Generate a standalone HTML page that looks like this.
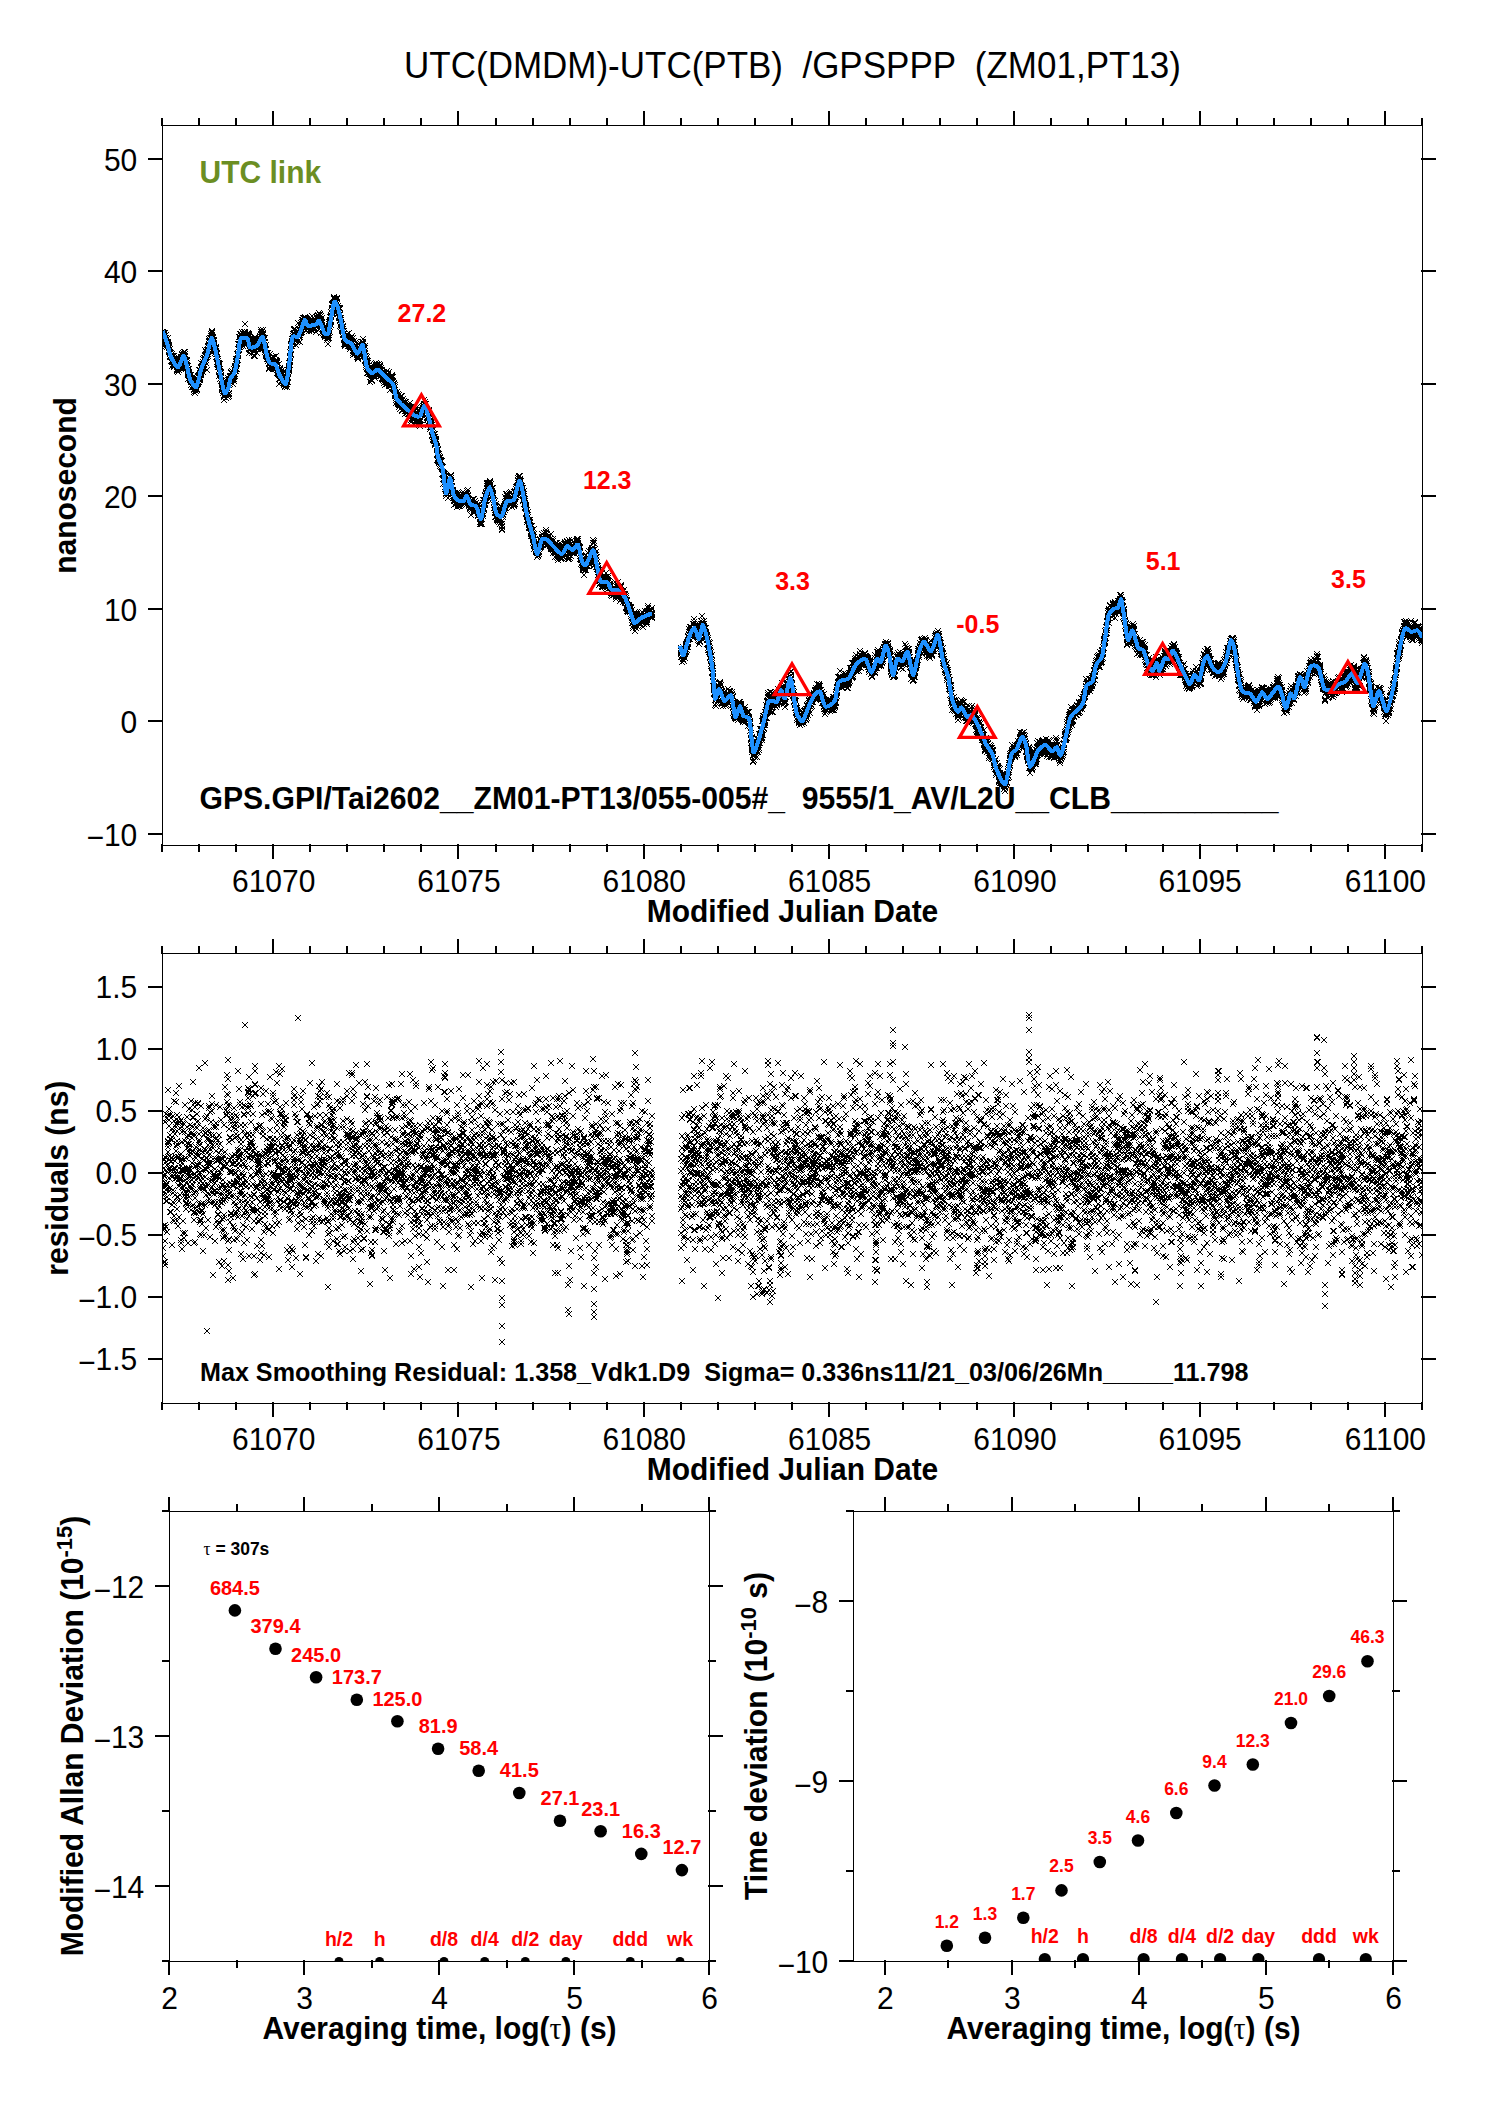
<!DOCTYPE html>
<html lang="en"><head><meta charset="utf-8"><title>UTC(DMDM)-UTC(PTB) /GPSPPP (ZM01,PT13)</title>
<style>html,body{margin:0;padding:0;background:#fff}svg{display:block}text{font-family:"Liberation Sans",Arial,Helvetica,sans-serif;white-space:pre}.b{font-weight:bold}.r{fill:#f00;font-weight:bold}.sy{font-family:"Liberation Serif","DejaVu Serif",serif;font-weight:normal}</style></head><body>
<svg width="1488" height="2105" viewBox="0 0 1488 2105">
<rect width="1488" height="2105" fill="#fff"/>
<defs>
<marker id="x" markerUnits="userSpaceOnUse" markerWidth="6" markerHeight="6" refX="3" refY="3"><path d="M0 0h1v1h-1zM5 0h1v1h-1zM1 1h1v1h-1zM4 1h1v1h-1zM2 2h2v2h-2zM1 4h1v1h-1zM4 4h1v1h-1zM0 5h1v1h-1zM5 5h1v1h-1z" fill="#000" shape-rendering="crispEdges"/></marker>
<clipPath id="c1"><rect x="163" y="126" width="1259" height="719"/></clipPath>
<clipPath id="c2"><rect x="163" y="954" width="1259" height="449"/></clipPath>
<clipPath id="c3"><rect x="150" y="1500" width="580" height="461.5"/></clipPath>
<clipPath id="c4"><rect x="840" y="1500" width="580" height="461.5"/></clipPath>
</defs>
<text transform="translate(792.5 77.5) scale(1 1.045)" font-size="35" text-anchor="middle" xml:space="preserve">UTC(DMDM)-UTC(PTB)  /GPSPPP  (ZM01,PT13)</text>
<g clip-path="url(#c1)">
<polyline fill="none" stroke="none" marker-start="url(#x)" marker-mid="url(#x)" marker-end="url(#x)" points="162,332 163,336 163,338 163,339 163,334 163,333 163,332 163,338 164,334 164,333 164,334 164,336 164,339 164,333 164,335 164,344 165,344 165,342 165,345 165,338 165,345 165,333 165,336 165,343 166,338 166,338 166,342 166,341 166,335 166,342 166,342 166,346 167,344 167,347 167,342 167,345 167,343 167,339 167,345 168,342 168,338 168,345 168,344 168,342 168,345 168,346 168,346 169,351 169,347 169,346 169,345 169,348 169,350 169,352 169,348 170,353 170,357 170,352 170,356 170,349 170,352 170,352 170,354 171,355 171,353 171,356 171,356 171,357 171,361 171,357 172,358 172,354 172,357 172,356 172,366 172,362 172,360 172,360 173,364 173,362 173,362 173,357 173,356 173,364 173,362 173,360 174,365 174,366 174,367 174,356 174,358 174,362 174,363 174,367 175,364 175,363 175,366 175,361 175,364 175,364 175,364 175,365 176,358 176,363 176,359 176,361 176,364 176,361 176,364 177,361 177,363 177,364 177,370 177,371 177,369 177,364 177,367 178,362 178,369 178,366 178,365 178,363 178,363 178,368 178,372 179,362 179,367 179,365 179,359 179,367 179,370 179,368 179,365 180,367 180,366 180,361 180,365 180,359 180,362 180,364 181,362 181,369 181,357 181,361 181,368 181,361 181,359 181,361 182,359 182,357 182,358 182,355 182,360 182,365 182,358 182,354 183,353 183,357 183,353 183,356 183,362 183,361 183,356 183,357 184,352 184,358 184,356 184,362 184,355 184,358 184,359 185,354 185,352 185,359 185,356 185,364 185,361 185,361 185,360 186,362 186,362 186,360 186,365 186,365 186,366 186,366 186,367 187,360 187,367 187,363 187,361 187,363 187,367 187,365 187,368 188,369 188,366 188,371 188,373 188,372 188,369 188,379 188,375 189,373 189,372 189,369 189,378 189,376 189,375 189,376 190,375 190,379 190,377 190,378 190,379 190,380 190,380 190,376 191,382 191,378 191,379 191,381 191,385 191,379 191,375 191,378 192,378 192,379 192,381 192,379 192,384 192,382 192,378 192,387 193,385 193,379 193,387 193,380 193,380 193,383 193,377 194,387 194,389 194,392 194,382 194,389 194,386 194,383 194,390 195,386 195,387 195,388 195,381 195,393 195,381 195,385 195,389 196,386 196,383 196,391 196,385 196,389 196,387 196,386 196,385 197,390 197,385 197,389 197,384 197,380 197,380 197,380 198,384 198,382 198,383 198,376 198,376 198,381 198,379 198,376 199,376 199,370 199,382 199,375 199,375 199,378 199,380 199,377 200,377 200,377 200,380 200,379 200,378 200,373 200,370 200,371 201,372 201,374 201,375 201,371 201,367 201,363 201,373 201,374 202,371 202,366 202,366 202,370 202,369 202,371 202,366 203,372 203,366 203,364 203,367 203,368 203,365 203,362 203,359 204,364 204,364 204,365 204,364 204,367 204,360 204,360 204,358 205,356 205,361 205,358 205,350 205,359 205,362 205,359 205,355 206,355 206,360 206,363 206,356 206,357 206,352 206,356 207,353 207,357 207,354 207,350 207,370 207,354 207,353 207,355 208,354 208,352 208,349 208,356 208,350 208,347 208,347 208,346 209,351 209,345 209,350 209,341 209,346 209,342 209,339 209,347 210,345 210,341 210,338 210,342 210,340 210,341 210,347 210,338 211,341 211,336 211,342 211,336 211,338 211,334 211,338 212,332 212,335 212,335 212,331 212,335 212,333 212,340 212,341 213,340 213,337 213,338 213,350 213,341 213,340 213,343 213,344 214,343 214,340 214,345 214,344 214,341 214,347 214,348 214,349 215,353 215,349 215,351 215,348 215,350 215,350 215,351 216,351 216,347 216,357 216,351 216,349 216,348 216,351 216,354 217,354 217,353 217,358 217,359 217,357 217,359 217,362 217,364 218,363 218,361 218,359 218,367 218,367 218,367 218,364 218,365 219,364 219,366 219,363 219,370 219,376 219,372 219,367 220,364 220,373 220,373 220,371 220,372 220,372 220,371 220,379 221,373 221,375 221,378 221,372 221,376 221,378 221,381 221,381 222,381 222,389 222,384 222,385 222,385 222,388 222,387 222,390 223,386 223,387 223,389 223,393 223,387 223,391 223,389 223,388 224,396 224,395 224,395 224,397 224,400 224,388 224,391 225,392 225,395 225,392 225,393 225,391 225,394 225,385 225,395 226,394 226,395 226,387 226,395 226,398 226,394 226,394 226,387 227,393 227,391 227,393 227,386 227,385 227,384 227,383 227,381 228,383 228,383 228,380 228,378 228,397 228,394 228,397 229,393 229,396 229,394 229,380 229,383 229,381 229,385 229,385 230,382 230,384 230,380 230,377 230,380 230,384 230,376 230,379 231,382 231,378 231,373 231,376 231,372 231,381 231,380 231,379 232,374 232,371 232,376 232,371 232,371 232,374 232,376 233,377 233,377 233,380 233,377 233,376 233,374 233,384 233,374 234,369 234,381 234,379 234,377 234,375 234,374 234,369 234,377 235,376 235,371 235,367 235,370 235,368 235,366 235,370 235,374 236,369 236,371 236,371 236,362 236,362 236,362 236,361 236,359 237,369 237,364 237,363 237,360 237,361 237,354 237,359 238,356 238,354 238,360 238,355 238,353 238,356 238,344 238,356 239,350 239,349 239,350 239,347 239,350 239,344 239,337 239,344 240,337 240,344 240,347 240,344 240,340 240,334 240,341 240,337 241,340 241,341 241,346 241,339 241,334 241,335 241,336 242,342 242,336 242,338 242,340 242,336 242,332 242,339 242,343 243,339 243,340 243,346 243,342 243,338 243,338 243,334 243,337 244,336 244,344 244,338 244,332 244,341 244,341 244,332 244,337 245,336 245,324 245,333 245,337 245,332 245,339 245,340 245,334 246,337 246,341 246,341 246,343 246,339 246,340 246,339 247,341 247,344 247,342 247,339 247,336 247,342 247,337 247,335 248,333 248,334 248,333 248,333 248,333 248,337 248,333 248,334 249,335 249,334 249,336 249,337 249,343 249,349 249,353 249,343 250,349 250,344 250,341 250,346 250,346 250,350 250,345 251,345 251,341 251,349 251,345 251,347 251,348 251,343 251,345 252,346 252,350 252,350 252,346 252,353 252,348 252,346 252,345 253,351 253,351 253,340 253,344 253,342 253,348 253,345 253,351 254,352 254,349 254,346 254,349 254,355 254,356 254,351 255,356 255,340 255,338 255,340 255,339 255,337 255,339 255,344 256,348 256,347 256,339 256,345 256,342 256,345 256,342 256,346 257,353 257,347 257,347 257,349 257,346 257,344 257,346 257,347 258,344 258,349 258,344 258,348 258,344 258,343 258,342 258,342 259,342 259,342 259,338 259,347 259,342 259,342 259,346 260,345 260,346 260,349 260,340 260,343 260,340 260,336 260,338 261,346 261,347 261,340 261,339 261,332 261,334 261,337 261,330 262,334 262,340 262,332 262,338 262,338 262,336 262,344 262,338 263,338 263,333 263,334 263,330 263,340 263,339 263,337 264,340 264,347 264,342 264,338 264,343 264,347 264,343 264,345 265,338 265,342 265,348 265,350 265,349 265,346 265,352 265,349 266,349 266,353 266,356 266,350 266,345 266,355 266,354 266,356 267,359 267,356 267,357 267,353 267,353 267,359 267,355 268,356 268,357 268,353 268,361 268,361 268,353 268,359 268,359 269,364 269,369 269,363 269,360 269,360 269,364 269,357 269,368 270,361 270,359 270,354 270,360 270,366 270,361 270,362 270,361 271,358 271,363 271,361 271,365 271,359 271,366 271,361 271,365 272,365 272,359 272,364 272,364 272,367 272,366 272,368 273,364 273,361 273,364 273,369 273,364 273,361 273,357 273,357 274,357 274,365 274,365 274,364 274,367 274,364 274,368 274,364 275,361 275,362 275,363 275,363 275,362 275,363 275,368 275,369 276,365 276,356 276,366 276,364 276,369 276,364 276,360 277,362 277,363 277,368 277,370 277,373 277,365 277,361 277,370 278,370 278,372 278,368 278,373 278,371 278,371 278,368 278,374 279,371 279,374 279,375 279,373 279,364 279,373 279,379 279,384 280,369 280,376 280,370 280,379 280,376 280,379 280,368 280,378 281,378 281,376 281,372 281,373 281,378 281,381 281,382 282,373 282,370 282,374 282,377 282,377 282,378 282,381 282,380 283,381 283,381 283,379 283,381 283,377 283,383 283,378 283,381 284,378 284,378 284,385 284,383 284,381 284,379 284,383 284,384 285,379 285,387 285,379 285,383 285,379 285,381 285,386 286,384 286,381 286,384 286,379 286,385 286,378 286,382 286,376 287,382 287,380 287,384 287,387 287,381 287,380 287,380 287,375 288,373 288,372 288,378 288,382 288,374 288,374 288,370 288,373 289,369 289,368 289,367 289,370 289,363 289,371 289,366 290,362 290,361 290,357 290,365 290,358 290,356 290,352 290,357 291,355 291,354 291,350 291,349 291,349 291,346 291,345 291,344 292,343 292,342 292,339 292,342 292,346 292,342 292,341 292,346 293,339 293,336 293,338 293,334 293,344 293,339 293,339 293,339 294,329 294,330 294,330 294,329 294,333 294,334 294,335 295,336 295,329 295,337 295,331 295,334 295,336 295,339 295,336 296,337 296,339 296,335 296,339 296,340 296,345 296,332 296,337 297,332 297,337 297,342 297,337 297,337 297,334 297,339 297,340 298,341 298,323 298,339 298,339 298,335 298,341 298,332 299,337 299,333 299,335 299,336 299,335 299,337 299,337 299,337 300,333 300,335 300,330 300,342 300,329 300,329 300,333 300,335 301,327 301,332 301,323 301,327 301,333 301,323 301,327 301,325 302,330 302,332 302,326 302,326 302,325 302,320 302,322 303,318 303,327 303,323 303,325 303,320 303,322 303,321 303,324 304,319 304,322 304,322 304,318 304,324 304,323 304,326 304,323 305,317 305,320 305,318 305,322 305,320 305,327 305,318 305,318 306,318 306,321 306,323 306,326 306,325 306,330 306,323 306,331 307,322 307,325 307,319 307,325 307,320 307,323 307,325 308,324 308,324 308,327 308,326 308,328 308,329 308,324 308,328 309,328 309,326 309,321 309,327 309,321 309,331 309,327 309,328 310,325 310,318 310,321 310,326 310,321 310,325 310,329 310,322 311,321 311,325 311,328 311,327 311,326 311,323 311,329 312,316 312,330 312,331 312,330 312,328 312,327 312,325 312,324 313,325 313,327 313,322 313,324 313,327 313,324 313,323 313,329 314,319 314,323 314,330 314,327 314,321 314,322 314,328 314,325 315,322 315,325 315,324 315,324 315,319 315,329 315,326 315,324 316,327 316,321 316,326 316,332 316,326 316,324 316,323 317,322 317,326 317,321 317,319 317,323 317,317 317,318 317,321 318,322 318,324 318,316 318,323 318,315 318,319 318,328 318,321 319,323 319,321 319,321 319,320 319,325 319,325 319,320 319,313 320,314 320,315 320,315 320,317 320,322 320,320 320,323 321,316 321,319 321,321 321,320 321,322 321,326 321,333 321,323 322,318 322,326 322,322 322,326 322,332 322,325 322,325 322,327 323,333 323,328 323,330 323,330 323,331 323,329 323,330 323,329 324,334 324,328 324,330 324,331 324,335 324,331 324,328 325,328 325,331 325,330 325,336 325,334 325,331 325,335 325,337 326,333 326,331 326,333 326,330 326,327 326,329 326,335 326,333 327,336 327,327 327,338 327,335 327,334 327,334 327,340 327,336 328,338 328,334 328,344 328,339 328,336 328,331 328,337 328,335 329,326 329,338 329,331 329,335 329,329 329,322 329,324 330,322 330,332 330,324 330,320 330,323 330,321 330,321 330,317 331,325 331,321 331,322 331,315 331,321 331,316 331,312 331,317 332,314 332,311 332,313 332,311 332,308 332,313 332,305 332,304 333,303 333,304 333,303 333,313 333,310 333,309 333,304 334,298 334,303 334,297 334,302 334,297 334,299 334,298 334,303 335,304 335,301 335,304 335,305 335,299 335,302 335,305 335,303 336,300 336,301 336,303 336,305 336,302 336,309 336,307 336,305 337,310 337,307 337,308 337,299 337,298 337,312 337,302 337,307 338,306 338,306 338,314 338,306 338,308 338,314 338,313 339,313 339,308 339,318 339,313 339,310 339,317 339,312 339,316 340,318 340,308 340,309 340,318 340,318 340,315 340,320 340,326 341,318 341,323 341,320 341,322 341,318 341,325 341,327 341,324 342,329 342,324 342,328 342,329 342,330 342,328 342,331 343,335 343,332 343,331 343,334 343,327 343,329 343,326 343,327 344,338 344,331 344,334 344,339 344,338 344,344 344,340 344,339 345,337 345,340 345,342 345,346 345,340 345,345 345,339 345,344 346,338 346,341 346,337 346,342 346,345 346,344 346,340 347,344 347,334 347,340 347,338 347,334 347,337 347,338 347,344 348,344 348,339 348,339 348,339 348,339 348,343 348,342 348,346 349,342 349,345 349,346 349,343 349,333 349,342 349,344 349,345 350,349 350,345 350,340 350,345 350,339 350,340 350,347 350,347 351,344 351,347 351,338 351,341 351,342 351,345 351,340 352,341 352,341 352,341 352,336 352,336 352,344 352,339 352,341 353,338 353,348 353,353 353,353 353,351 353,355 353,343 353,345 354,347 354,354 354,341 354,349 354,346 354,348 354,348 354,354 355,346 355,350 355,347 355,354 355,351 355,350 355,351 356,349 356,342 356,350 356,350 356,349 356,349 356,350 356,353 357,350 357,354 357,357 357,350 357,355 357,354 357,353 357,351 358,356 358,357 358,356 358,359 358,358 358,353 358,359 358,353 359,350 359,353 359,344 359,349 359,355 359,349 359,355 360,348 360,356 360,351 360,350 360,354 360,353 360,348 360,349 361,352 361,347 361,350 361,353 361,350 361,344 361,354 361,355 362,351 362,349 362,347 362,346 362,350 362,342 362,349 362,345 363,347 363,339 363,342 363,346 363,343 363,347 363,354 363,346 364,354 364,348 364,356 364,349 364,353 364,353 364,354 365,348 365,346 365,356 365,361 365,357 365,354 365,360 365,357 366,356 366,361 366,358 366,359 366,365 366,363 366,367 366,365 367,363 367,363 367,360 367,357 367,361 367,373 367,368 367,369 368,361 368,370 368,368 368,363 368,369 368,369 368,373 369,365 369,372 369,374 369,368 369,371 369,370 369,374 369,369 370,374 370,368 370,372 370,372 370,371 370,382 370,368 370,369 371,374 371,372 371,375 371,380 371,368 371,379 371,377 371,373 372,376 372,373 372,369 372,380 372,374 372,380 372,381 372,369 373,371 373,373 373,374 373,376 373,371 373,374 373,376 374,376 374,372 374,374 374,372 374,366 374,371 374,370 374,369 375,370 375,370 375,378 375,372 375,376 375,374 375,369 375,364 376,368 376,367 376,363 376,375 376,375 376,368 376,366 376,365 377,373 377,369 377,365 377,369 377,364 377,366 377,369 378,373 378,365 378,371 378,368 378,368 378,373 378,369 378,371 379,366 379,364 379,370 379,371 379,372 379,372 379,373 379,373 380,374 380,371 380,365 380,367 380,366 380,373 380,373 380,367 381,371 381,368 381,370 381,376 381,368 381,371 381,374 382,370 382,373 382,375 382,373 382,372 382,375 382,378 382,379 383,377 383,374 383,377 383,378 383,376 383,380 383,380 383,379 384,376 384,372 384,377 384,383 384,372 384,381 384,379 384,375 385,376 385,385 385,378 385,379 385,378 385,382 385,373 385,376 386,375 386,378 386,382 386,377 386,373 386,380 386,379 387,378 387,371 387,375 387,380 387,375 387,384 387,375 387,381 388,379 388,381 388,374 388,380 388,381 388,375 388,383 388,377 389,372 389,384 389,382 389,386 389,386 389,385 389,380 389,380 390,379 390,390 390,386 390,379 390,386 390,384 390,377 391,382 391,384 391,380 391,381 391,386 391,376 391,377 391,379 392,377 392,376 392,376 392,375 392,377 392,378 392,377 392,377 393,377 393,388 393,387 393,382 393,388 393,389 393,388 393,381 394,383 394,386 394,390 394,388 394,388 394,390 394,384 395,390 395,387 395,387 395,395 395,385 395,393 395,396 395,394 396,393 396,396 396,394 396,396 396,403 396,400 396,395 396,398 397,392 397,396 397,401 397,396 397,399 397,399 397,395 397,395 398,399 398,397 398,399 398,404 398,403 398,394 398,402 398,404 399,407 399,405 399,404 399,400 399,402 399,395 399,404 400,401 400,402 400,402 400,405 400,403 400,401 400,406 400,409 401,404 401,404 401,404 401,404 401,396 401,401 401,403 401,405 402,411 402,404 402,405 402,396 402,406 402,401 402,410 402,400 403,406 403,399 403,405 403,405 403,407 403,403 403,402 404,404 404,405 404,407 404,406 404,405 404,401 404,407 404,408 405,402 405,408 405,411 405,407 405,405 405,405 405,409 405,414 406,404 406,402 406,408 406,409 406,407 406,407 406,407 406,411 407,410 407,411 407,408 407,411 407,413 407,406 407,409 407,407 408,414 408,408 408,409 408,409 408,411 408,407 408,409 409,404 409,413 409,414 409,414 409,406 409,407 409,408 409,409 410,409 410,409 410,409 410,407 410,412 410,414 410,403 410,418 411,417 411,420 411,422 411,416 411,408 411,411 411,407 411,410 412,414 412,414 412,412 412,416 412,409 412,412 412,410 413,415 413,414 413,414 413,412 413,406 413,414 413,420 413,417 414,411 414,416 414,417 414,420 414,419 414,419 414,411 414,424 415,415 415,413 415,411 415,421 415,419 415,417 415,414 415,410 416,414 416,412 416,408 416,414 416,412 416,408 416,417 417,417 417,414 417,420 417,416 417,417 417,413 417,414 417,419 418,413 418,419 418,418 418,421 418,421 418,416 418,418 418,418 419,418 419,425 419,419 419,414 419,421 419,423 419,422 419,421 420,417 420,417 420,426 420,420 420,417 420,417 420,412 420,411 421,412 421,414 421,415 421,413 421,414 421,410 421,420 422,414 422,415 422,415 422,410 422,407 422,412 422,414 422,412 423,410 423,408 423,411 423,409 423,406 423,414 423,410 423,406 424,411 424,406 424,404 424,406 424,408 424,406 424,400 424,407 425,404 425,402 425,407 425,408 425,408 425,409 425,407 426,408 426,404 426,413 426,410 426,411 426,408 426,413 426,410 427,409 427,409 427,414 427,414 427,418 427,420 427,411 427,417 428,416 428,413 428,414 428,425 428,416 428,418 428,411 428,416 429,413 429,410 429,418 429,422 429,411 429,416 429,421 430,418 430,417 430,421 430,417 430,420 430,424 430,427 430,429 431,422 431,425 431,424 431,426 431,425 431,427 431,422 431,419 432,432 432,430 432,430 432,422 432,436 432,431 432,436 432,435 433,424 433,430 433,435 433,433 433,430 433,437 433,440 433,439 434,435 434,437 434,435 434,434 434,437 434,440 434,441 435,444 435,443 435,445 435,437 435,434 435,441 435,437 435,440 436,439 436,440 436,444 436,441 436,441 436,441 436,444 436,442 437,446 437,447 437,446 437,454 437,448 437,455 437,460 437,455 438,450 438,453 438,449 438,461 438,459 438,458 438,460 439,463 439,454 439,462 439,461 439,460 439,461 439,456 439,459 440,457 440,458 440,457 440,466 440,464 440,460 440,466 440,464 441,460 441,465 441,465 441,465 441,461 441,462 441,467 441,467 442,468 442,466 442,461 442,467 442,466 442,474 442,467 442,467 443,474 443,467 443,473 443,467 443,475 443,473 443,484 444,479 444,478 444,474 444,476 444,478 444,483 444,473 444,475 445,474 445,476 445,477 445,480 445,479 445,489 445,487 445,487 446,490 446,493 446,496 446,489 446,496 446,490 446,491 446,494 447,487 447,493 447,491 447,486 447,484 447,486 447,489 448,498 448,488 448,492 448,489 448,483 448,482 448,484 448,485 449,487 449,481 449,481 449,486 449,483 449,482 449,478 449,485 450,482 450,476 450,483 450,479 450,479 450,481 450,481 450,483 451,476 451,484 451,475 451,478 451,481 451,482 451,475 452,482 452,487 452,486 452,482 452,490 452,490 452,487 452,487 453,492 453,492 453,494 453,496 453,490 453,493 453,491 453,496 454,501 454,495 454,498 454,498 454,505 454,496 454,497 454,496 455,498 455,500 455,499 455,495 455,500 455,493 455,497 455,501 456,498 456,498 456,499 456,496 456,502 456,503 456,504 457,499 457,499 457,493 457,501 457,501 457,501 457,503 457,507 458,505 458,506 458,495 458,499 458,495 458,498 458,498 458,499 459,499 459,493 459,502 459,504 459,506 459,503 459,496 459,497 460,498 460,503 460,504 460,502 460,506 460,498 460,500 461,505 461,502 461,502 461,500 461,497 461,499 461,502 461,499 462,498 462,500 462,504 462,501 462,499 462,498 462,502 462,497 463,502 463,492 463,497 463,497 463,494 463,498 463,500 463,503 464,503 464,497 464,503 464,496 464,501 464,495 464,499 465,498 465,503 465,502 465,503 465,497 465,500 465,496 465,495 466,500 466,498 466,499 466,501 466,497 466,496 466,495 466,497 467,496 467,497 467,500 467,493 467,491 467,498 467,491 467,496 468,498 468,496 468,503 468,500 468,495 468,498 468,490 468,499 469,503 469,503 469,499 469,506 469,502 469,505 469,504 470,505 470,503 470,502 470,507 470,509 470,507 470,502 470,508 471,500 471,515 471,510 471,503 471,502 471,502 471,505 471,502 472,501 472,502 472,504 472,506 472,505 472,503 472,509 472,500 473,503 473,512 473,499 473,506 473,503 473,505 473,503 474,502 474,504 474,499 474,506 474,504 474,505 474,509 474,510 475,505 475,501 475,506 475,506 475,506 475,507 475,506 475,512 476,503 476,503 476,503 476,507 476,509 476,509 476,510 476,507 477,505 477,508 477,508 477,507 477,508 477,510 477,511 478,512 478,511 478,515 478,513 478,516 478,506 478,506 478,508 479,505 479,507 479,504 479,513 479,514 479,512 479,513 479,510 480,515 480,514 480,519 480,518 480,518 480,519 480,524 480,522 481,516 481,516 481,512 481,522 481,513 481,520 481,524 481,516 482,514 482,510 482,514 482,515 482,511 482,524 482,519 483,514 483,513 483,509 483,516 483,508 483,500 483,506 483,503 484,508 484,510 484,503 484,509 484,504 484,504 484,504 484,500 485,504 485,500 485,496 485,505 485,503 485,504 485,501 485,495 486,500 486,492 486,498 486,501 486,494 486,493 486,494 487,497 487,488 487,489 487,491 487,483 487,486 487,493 487,484 488,491 488,488 488,489 488,486 488,483 488,486 488,493 488,492 489,492 489,489 489,490 489,488 489,488 489,493 489,483 489,485 490,489 490,493 490,486 490,485 490,483 490,481 490,482 490,493 491,490 491,490 491,497 491,493 491,493 491,490 491,484 492,491 492,488 492,493 492,500 492,495 492,492 492,492 492,489 493,494 493,488 493,495 493,498 493,499 493,496 493,493 493,498 494,505 494,500 494,508 494,503 494,505 494,508 494,502 494,502 495,507 495,507 495,501 495,517 495,510 495,506 495,513 496,511 496,509 496,510 496,511 496,513 496,504 496,517 496,510 497,512 497,511 497,518 497,516 497,519 497,515 497,520 497,514 498,516 498,513 498,511 498,520 498,517 498,520 498,515 498,521 499,515 499,517 499,518 499,517 499,522 499,514 499,520 500,520 500,520 500,518 500,520 500,518 500,511 500,518 500,524 501,512 501,513 501,522 501,519 501,519 501,506 501,506 501,507 502,508 502,510 502,524 502,526 502,527 502,527 502,529 502,530 503,510 503,517 503,514 503,510 503,517 503,511 503,515 503,515 504,509 504,512 504,508 504,506 504,507 504,507 504,508 505,507 505,510 505,508 505,505 505,506 505,505 505,504 505,497 506,508 506,505 506,504 506,505 506,501 506,494 506,498 506,499 507,503 507,496 507,504 507,499 507,502 507,501 507,494 507,501 508,499 508,496 508,503 508,501 508,500 508,501 508,500 509,502 509,494 509,502 509,497 509,501 509,500 509,499 509,502 510,501 510,493 510,501 510,500 510,501 510,503 510,501 510,505 511,505 511,504 511,501 511,502 511,497 511,500 511,498 511,492 512,500 512,507 512,504 512,502 512,500 512,504 512,499 513,498 513,501 513,500 513,499 513,498 513,495 513,505 513,501 514,492 514,499 514,506 514,506 514,505 514,504 514,504 514,504 515,502 515,502 515,504 515,498 515,497 515,492 515,493 515,491 516,494 516,492 516,495 516,492 516,497 516,493 516,487 516,489 517,490 517,486 517,492 517,491 517,491 517,487 517,493 518,489 518,488 518,483 518,490 518,483 518,480 518,478 518,481 519,476 519,481 519,477 519,482 519,481 519,482 519,483 519,477 520,480 520,483 520,484 520,480 520,481 520,476 520,483 520,479 521,485 521,489 521,488 521,481 521,490 521,485 521,492 522,488 522,486 522,489 522,491 522,488 522,490 522,486 522,495 523,492 523,488 523,496 523,492 523,494 523,500 523,501 523,495 524,499 524,494 524,496 524,491 524,498 524,494 524,500 524,504 525,505 525,499 525,501 525,508 525,503 525,501 525,504 525,507 526,507 526,506 526,513 526,514 526,505 526,508 526,509 527,513 527,514 527,510 527,514 527,520 527,516 527,515 527,522 528,515 528,512 528,512 528,515 528,521 528,517 528,521 528,520 529,520 529,524 529,522 529,525 529,528 529,527 529,522 529,521 530,520 530,523 530,525 530,528 530,526 530,522 530,526 531,526 531,533 531,529 531,534 531,534 531,531 531,536 531,532 532,536 532,532 532,534 532,536 532,530 532,526 532,532 532,531 533,536 533,535 533,539 533,543 533,539 533,535 533,537 533,540 534,529 534,540 534,537 534,546 534,545 534,549 534,542 535,547 535,548 535,539 535,546 535,544 535,545 535,546 535,547 536,544 536,551 536,544 536,549 536,552 536,551 536,550 536,551 537,557 537,551 537,557 537,552 537,546 537,552 537,551 537,553 538,552 538,556 538,548 538,550 538,555 538,548 538,545 538,550 539,554 539,552 539,551 539,549 539,551 539,544 539,544 540,545 540,546 540,540 540,547 540,544 540,548 540,548 540,544 541,542 541,547 541,544 541,546 541,540 541,545 541,543 541,543 542,534 542,544 542,537 542,539 542,538 542,539 542,537 542,537 543,539 543,537 543,542 543,540 543,540 543,540 543,540 544,543 544,541 544,533 544,533 544,538 544,542 544,544 544,541 545,537 545,544 545,541 545,542 545,544 545,543 545,544 545,544 546,540 546,542 546,541 546,535 546,532 546,530 546,533 546,539 547,544 547,545 547,538 547,542 547,534 547,537 547,539 548,539 548,542 548,536 548,537 548,539 548,536 548,543 548,545 549,543 549,537 549,540 549,543 549,540 549,543 549,540 549,536 550,541 550,545 550,546 550,546 550,542 550,539 550,545 550,546 551,545 551,544 551,547 551,548 551,534 551,549 551,547 551,546 552,549 552,547 552,540 552,546 552,540 552,542 552,545 553,544 553,539 553,549 553,547 553,550 553,541 553,553 553,550 554,551 554,552 554,551 554,548 554,548 554,548 554,551 554,551 555,553 555,557 555,552 555,550 555,549 555,550 555,551 555,548 556,549 556,552 556,547 556,543 556,552 556,546 556,551 557,548 557,555 557,552 557,543 557,550 557,550 557,548 557,557 558,560 558,547 558,548 558,551 558,558 558,552 558,546 558,549 559,547 559,552 559,548 559,556 559,555 559,554 559,546 559,546 560,543 560,558 560,550 560,555 560,547 560,550 560,553 560,558 561,558 561,557 561,557 561,559 561,555 561,553 561,552 562,558 562,555 562,549 562,558 562,556 562,549 562,556 562,555 563,553 563,553 563,550 563,552 563,551 563,549 563,556 563,554 564,557 564,555 564,553 564,550 564,547 564,552 564,549 564,544 565,542 565,550 565,547 565,544 565,547 565,544 565,542 566,546 566,550 566,545 566,545 566,547 566,544 566,543 566,552 567,542 567,547 567,545 567,541 567,544 567,542 567,548 567,546 568,543 568,547 568,550 568,547 568,546 568,548 568,557 568,559 569,559 569,555 569,548 569,540 569,547 569,546 569,546 570,548 570,545 570,551 570,551 570,550 570,552 570,550 570,558 571,547 571,546 571,556 571,549 571,549 571,551 571,549 571,547 572,547 572,548 572,551 572,552 572,551 572,550 572,553 572,540 573,545 573,542 573,553 573,546 573,551 573,549 573,549 573,546 574,553 574,552 574,549 574,549 574,550 574,547 574,549 575,547 575,550 575,549 575,550 575,551 575,547 575,548 575,543 576,549 576,547 576,547 576,547 576,552 576,545 576,545 576,545 577,547 577,548 577,542 577,539 577,541 577,542 577,541 577,543 578,543 578,539 578,545 578,547 578,541 578,545 578,548 579,546 579,547 579,548 579,549 579,551 579,550 579,549 579,549 580,547 580,551 580,551 580,556 580,559 580,551 580,548 580,551 581,558 581,557 581,564 581,560 581,560 581,556 581,555 581,560 582,563 582,563 582,562 582,562 582,560 582,563 582,565 583,561 583,568 583,566 583,563 583,567 583,569 583,570 583,561 584,561 584,567 584,561 584,559 584,575 584,562 584,564 584,563 585,564 585,560 585,568 585,570 585,563 585,565 585,568 585,567 586,566 586,570 586,558 586,563 586,565 586,555 586,565 586,563 587,566 587,566 587,563 587,563 587,566 587,557 587,560 588,562 588,560 588,559 588,566 588,560 588,559 588,562 588,553 589,562 589,558 589,558 589,559 589,561 589,551 589,564 589,561 590,556 590,556 590,559 590,555 590,556 590,555 590,559 590,559 591,551 591,555 591,552 591,557 591,555 591,552 591,550 592,548 592,552 592,549 592,556 592,548 592,550 592,550 592,555 593,552 593,543 593,555 593,550 593,553 593,552 593,553 593,540 594,541 594,543 594,558 594,560 594,562 594,563 594,565 594,566 595,549 595,555 595,554 595,556 595,560 595,556 595,564 595,558 596,567 596,555 596,552 596,563 596,558 596,564 596,558 597,557 597,565 597,565 597,566 597,569 597,569 597,567 597,562 598,568 598,566 598,569 598,568 598,570 598,572 598,569 598,575 599,577 599,574 599,577 599,578 599,581 599,570 599,578 599,585 600,578 600,583 600,579 600,575 600,577 600,581 600,579 601,583 601,578 601,582 601,583 601,580 601,579 601,577 601,579 602,580 602,580 602,586 602,587 602,573 602,581 602,584 602,586 603,582 603,581 603,578 603,585 603,586 603,587 603,583 603,578 604,584 604,584 604,579 604,581 604,586 604,582 604,576 605,581 605,581 605,592 605,585 605,583 605,582 605,577 605,586 606,577 606,583 606,582 606,581 606,583 606,573 606,577 606,580 607,582 607,582 607,583 607,585 607,586 607,582 607,581 607,581 608,578 608,585 608,576 608,580 608,583 608,587 608,582 608,583 609,581 609,584 609,586 609,585 609,588 609,586 609,584 610,584 610,585 610,592 610,588 610,586 610,586 610,588 610,586 611,591 611,586 611,586 611,593 611,595 611,595 611,593 611,591 612,593 612,593 612,596 612,592 612,589 612,589 612,590 612,585 613,590 613,589 613,593 613,595 613,593 613,591 613,591 614,589 614,588 614,593 614,594 614,595 614,594 614,593 614,593 615,592 615,594 615,591 615,582 615,591 615,593 615,589 615,590 616,591 616,596 616,591 616,589 616,597 616,586 616,590 616,599 617,595 617,590 617,593 617,590 617,590 617,590 617,587 618,586 618,587 618,582 618,592 618,590 618,587 618,596 618,593 619,594 619,593 619,592 619,592 619,590 619,588 619,589 619,589 620,591 620,586 620,601 620,587 620,591 620,588 620,594 620,596 621,594 621,585 621,587 621,586 621,597 621,593 621,594 621,590 622,597 622,595 622,597 622,594 622,596 622,591 622,598 623,597 623,599 623,592 623,599 623,595 623,594 623,599 623,602 624,599 624,601 624,596 624,601 624,600 624,596 624,590 624,594 625,594 625,597 625,601 625,594 625,595 625,603 625,599 625,602 626,596 626,600 626,602 626,598 626,608 626,607 626,607 627,608 627,601 627,600 627,605 627,609 627,604 627,608 627,611 628,612 628,609 628,611 628,609 628,610 628,610 628,610 628,605 629,610 629,607 629,605 629,605 629,606 629,605 629,610 629,608 630,611 630,608 630,610 630,612 630,611 630,607 630,607 630,611 631,608 631,611 631,614 631,607 631,616 631,616 631,616 632,620 632,610 632,623 632,617 632,620 632,620 632,615 632,620 633,615 633,618 633,626 633,622 633,623 633,619 633,628 633,615 634,618 634,619 634,618 634,614 634,621 634,621 634,625 634,618 635,626 635,622 635,623 635,612 635,614 635,615 635,631 636,613 636,615 636,622 636,628 636,614 636,618 636,620 636,621 637,626 637,614 637,620 637,619 637,620 637,618 637,620 637,620 638,620 638,621 638,617 638,620 638,619 638,616 638,619 638,622 639,616 639,623 639,621 639,624 639,622 639,621 639,621 640,621 640,625 640,619 640,621 640,619 640,620 640,614 640,615 641,617 641,620 641,616 641,619 641,614 641,621 641,620 641,618 642,626 642,612 642,618 642,618 642,621 642,616 642,619 642,621 643,616 643,627 643,619 643,619 643,618 643,622 643,620 643,619 644,615 644,620 644,624 644,621 644,618 644,617 644,615 645,611 645,617 645,614 645,617 645,616 645,615 645,616 645,614 646,612 646,622 646,617 646,617 646,613 646,617 646,616 646,616 647,611 647,611 647,612 647,616 647,622 647,624 647,620 647,614 648,617 648,616 648,613 648,612 648,608 648,612 648,606 649,611 649,613 649,612 649,612 649,611 649,616 649,612 649,613 650,615 650,617 650,617 650,612 650,610 650,612 650,612 650,610 651,615 651,616 651,611 651,615 651,615 651,616 651,610 651,613 652,615 652,617 652,618 652,613 652,614 652,608 652,613 681,653 681,650 681,648 681,651 681,657 681,654 681,651 682,652 682,649 682,662 682,655 682,656 682,650 682,649 682,652 683,647 683,659 683,659 683,654 683,656 683,656 683,655 684,661 684,661 684,661 684,657 684,655 684,649 684,654 684,656 685,658 685,654 685,649 685,651 685,652 685,650 685,654 685,651 686,652 686,651 686,649 686,646 686,647 686,645 686,649 686,644 687,642 687,644 687,647 687,643 687,642 687,645 687,647 687,650 688,637 688,647 688,644 688,640 688,643 688,636 688,640 689,637 689,639 689,637 689,635 689,639 689,632 689,629 689,634 690,636 690,631 690,631 690,635 690,636 690,627 690,639 690,633 691,635 691,631 691,633 691,631 691,630 691,627 691,634 691,629 692,631 692,633 692,630 692,629 692,633 692,634 692,629 693,631 693,638 693,635 693,628 693,624 693,624 693,629 693,632 694,626 694,633 694,626 694,624 694,624 694,626 694,619 694,622 695,628 695,625 695,628 695,627 695,626 695,628 695,636 695,635 696,631 696,632 696,627 696,632 696,632 696,636 696,632 697,633 697,628 697,632 697,631 697,630 697,637 697,627 697,636 698,638 698,635 698,636 698,640 698,638 698,634 698,636 698,637 699,637 699,644 699,637 699,641 699,636 699,639 699,634 699,634 700,641 700,642 700,633 700,642 700,642 700,636 700,637 700,629 701,631 701,624 701,632 701,634 701,630 701,621 701,632 702,628 702,625 702,622 702,625 702,624 702,628 702,616 702,626 703,626 703,628 703,624 703,629 703,624 703,627 703,626 703,631 704,621 704,624 704,629 704,630 704,627 704,628 704,631 704,639 705,632 705,631 705,636 705,637 705,632 705,633 705,628 706,634 706,638 706,632 706,628 706,635 706,633 706,634 706,634 707,640 707,637 707,636 707,635 707,636 707,637 707,636 707,644 708,640 708,638 708,640 708,643 708,640 708,644 708,648 708,650 709,649 709,642 709,646 709,652 709,647 709,646 709,650 710,654 710,651 710,650 710,643 710,657 710,651 710,653 710,658 711,660 711,652 711,660 711,664 711,666 711,664 711,660 711,664 712,665 712,661 712,666 712,655 712,667 712,663 712,672 712,673 713,671 713,668 713,677 713,674 713,671 713,673 713,676 713,681 714,686 714,683 714,684 714,690 714,694 714,693 714,687 715,689 715,689 715,690 715,692 715,693 715,700 715,705 715,694 716,696 716,697 716,706 716,700 716,700 716,703 716,699 716,697 717,694 717,699 717,693 717,694 717,691 717,691 717,697 717,688 718,686 718,689 718,692 718,696 718,694 718,686 718,701 719,692 719,688 719,690 719,690 719,687 719,693 719,694 719,686 720,682 720,692 720,689 720,687 720,693 720,687 720,683 720,684 721,685 721,689 721,689 721,695 721,689 721,693 721,699 721,696 722,700 722,700 722,704 722,698 722,691 722,694 722,703 722,702 723,698 723,697 723,699 723,706 723,698 723,702 723,697 724,703 724,692 724,699 724,698 724,696 724,696 724,698 724,698 725,703 725,701 725,705 725,705 725,703 725,701 725,699 725,699 726,704 726,706 726,691 726,702 726,699 726,704 726,699 726,696 727,695 727,700 727,694 727,695 727,705 727,698 727,696 728,698 728,699 728,689 728,700 728,696 728,699 728,695 728,698 729,699 729,701 729,698 729,699 729,695 729,691 729,704 729,697 730,691 730,697 730,701 730,692 730,699 730,698 730,697 730,692 731,695 731,695 731,698 731,698 731,695 731,698 731,698 732,694 732,692 732,692 732,699 732,698 732,695 732,699 732,700 733,704 733,697 733,696 733,705 733,697 733,707 733,713 733,702 734,705 734,704 734,715 734,706 734,714 734,702 734,716 734,712 735,715 735,717 735,714 735,714 735,716 735,717 735,713 735,718 736,713 736,719 736,717 736,711 736,718 736,716 736,717 737,713 737,712 737,713 737,718 737,713 737,714 737,717 737,711 738,713 738,713 738,720 738,716 738,718 738,716 738,705 738,715 739,702 739,704 739,706 739,703 739,707 739,709 739,705 739,702 740,708 740,707 740,702 740,710 740,707 740,708 740,704 741,708 741,710 741,704 741,707 741,705 741,706 741,704 741,705 742,710 742,709 742,711 742,713 742,714 742,713 742,720 742,712 743,717 743,719 743,717 743,720 743,715 743,722 743,721 743,718 744,718 744,718 744,713 744,717 744,718 744,721 744,710 745,707 745,712 745,710 745,717 745,712 745,712 745,715 745,722 746,718 746,719 746,718 746,713 746,716 746,716 746,719 746,718 747,718 747,719 747,714 747,717 747,712 747,720 747,718 747,718 748,716 748,712 748,726 748,716 748,721 748,718 748,717 748,718 749,719 749,720 749,712 749,718 749,719 749,723 749,720 750,722 750,723 750,722 750,726 750,731 750,721 750,724 750,731 751,728 751,740 751,733 751,733 751,735 751,743 751,739 751,738 752,746 752,737 752,739 752,743 752,752 752,748 752,749 752,750 753,755 753,747 753,751 753,745 753,762 753,748 753,761 754,760 754,755 754,751 754,753 754,752 754,755 754,749 754,755 755,746 755,755 755,752 755,751 755,754 755,751 755,749 755,757 756,749 756,746 756,756 756,750 756,741 756,746 756,742 756,746 757,742 757,757 757,739 757,742 757,750 757,745 757,747 757,738 758,745 758,742 758,740 758,752 758,744 758,743 758,745 759,745 759,750 759,742 759,741 759,741 759,748 759,734 759,739 760,736 760,743 760,738 760,729 760,735 760,737 760,740 760,736 761,735 761,730 761,738 761,737 761,730 761,731 761,735 761,729 762,737 762,740 762,735 762,729 762,729 762,721 762,738 763,720 763,721 763,718 763,735 763,716 763,718 763,719 763,718 764,716 764,717 764,728 764,725 764,729 764,724 764,725 764,729 765,723 765,725 765,715 765,723 765,721 765,712 765,717 765,722 766,714 766,718 766,710 766,713 766,712 766,713 766,705 767,702 767,711 767,711 767,708 767,718 767,708 767,710 767,701 768,704 768,701 768,700 768,693 768,693 768,702 768,697 768,695 769,710 769,701 769,710 769,702 769,711 769,703 769,701 769,699 770,704 770,710 770,703 770,692 770,700 770,712 770,711 770,698 771,692 771,702 771,701 771,708 771,697 771,695 771,708 772,706 772,712 772,693 772,696 772,696 772,699 772,696 772,704 773,695 773,699 773,699 773,704 773,701 773,699 773,712 773,698 774,700 774,697 774,694 774,699 774,702 774,698 774,704 774,705 775,699 775,700 775,697 775,703 775,705 775,699 775,696 776,695 776,700 776,707 776,699 776,702 776,702 776,703 776,700 777,699 777,702 777,700 777,699 777,704 777,705 777,705 777,703 778,699 778,701 778,701 778,697 778,689 778,693 778,693 778,700 779,698 779,695 779,702 779,703 779,695 779,697 779,695 780,694 780,695 780,699 780,692 780,695 780,699 780,694 780,700 781,698 781,697 781,698 781,697 781,698 781,699 781,699 781,687 782,696 782,683 782,689 782,692 782,692 782,694 782,687 782,689 783,687 783,690 783,695 783,700 783,696 783,686 783,691 783,692 784,701 784,692 784,702 784,704 784,699 784,698 784,701 785,697 785,691 785,696 785,703 785,707 785,699 785,698 785,696 786,692 786,697 786,694 786,691 786,702 786,694 786,691 786,693 787,688 787,685 787,689 787,690 787,690 787,692 787,690 787,684 788,687 788,684 788,688 788,695 788,678 788,683 788,685 789,686 789,682 789,686 789,680 789,685 789,684 789,682 789,684 790,681 790,679 790,679 790,681 790,679 790,677 790,676 790,676 791,672 791,675 791,682 791,671 791,679 791,683 791,688 791,678 792,683 792,683 792,683 792,683 792,691 792,685 792,684 792,692 793,695 793,691 793,691 793,689 793,696 793,696 793,695 794,697 794,696 794,692 794,695 794,698 794,697 794,701 794,702 795,704 795,704 795,700 795,697 795,696 795,703 795,708 795,705 796,701 796,707 796,713 796,710 796,710 796,708 796,708 796,712 797,710 797,714 797,708 797,711 797,718 797,718 797,720 798,714 798,717 798,719 798,716 798,714 798,712 798,719 798,716 799,719 799,718 799,720 799,721 799,723 799,722 799,718 799,719 800,714 800,721 800,725 800,719 800,717 800,718 800,714 800,715 801,718 801,711 801,720 801,720 801,723 801,722 801,720 802,721 802,722 802,721 802,719 802,718 802,724 802,719 802,722 803,719 803,720 803,722 803,722 803,717 803,719 803,722 803,721 804,720 804,718 804,718 804,717 804,723 804,717 804,715 804,711 805,711 805,716 805,710 805,719 805,714 805,710 805,712 805,719 806,720 806,719 806,717 806,716 806,709 806,714 806,711 807,714 807,711 807,714 807,706 807,705 807,718 807,712 807,709 808,708 808,707 808,708 808,715 808,710 808,709 808,704 808,708 809,705 809,701 809,710 809,701 809,700 809,710 809,706 809,703 810,697 810,703 810,713 810,703 810,696 810,699 810,703 811,704 811,697 811,702 811,707 811,701 811,698 811,702 811,701 812,699 812,702 812,697 812,699 812,700 812,706 812,698 812,701 813,698 813,697 813,702 813,695 813,696 813,696 813,696 813,699 814,697 814,695 814,695 814,694 814,696 814,693 814,694 815,694 815,695 815,694 815,691 815,694 815,695 815,694 815,690 816,698 816,690 816,688 816,697 816,700 816,699 816,691 816,692 817,693 817,694 817,693 817,690 817,691 817,692 817,684 817,697 818,689 818,693 818,695 818,690 818,691 818,695 818,685 818,691 819,685 819,688 819,684 819,686 819,691 819,688 819,695 820,690 820,693 820,686 820,694 820,690 820,691 820,686 820,699 821,699 821,695 821,690 821,694 821,698 821,697 821,696 821,693 822,698 822,699 822,696 822,699 822,703 822,695 822,692 822,696 823,701 823,697 823,697 823,703 823,703 823,699 823,702 824,703 824,707 824,702 824,702 824,706 824,694 824,702 824,709 825,714 825,701 825,705 825,700 825,705 825,711 825,704 825,709 826,709 826,706 826,704 826,702 826,712 826,705 826,706 826,707 827,706 827,710 827,706 827,710 827,707 827,705 827,711 828,709 828,708 828,707 828,703 828,703 828,703 828,702 828,700 829,699 829,701 829,700 829,705 829,705 829,708 829,708 829,705 830,705 830,711 830,700 830,704 830,707 830,708 830,705 830,706 831,702 831,700 831,710 831,707 831,703 831,707 831,710 831,702 832,702 832,703 832,709 832,710 832,703 832,704 832,703 833,705 833,697 833,699 833,699 833,701 833,706 833,706 833,710 834,701 834,702 834,698 834,701 834,697 834,697 834,708 834,710 835,703 835,699 835,706 835,705 835,707 835,705 835,702 835,705 836,702 836,695 836,692 836,698 836,703 836,694 836,695 837,690 837,691 837,692 837,696 837,693 837,687 837,688 837,692 838,685 838,683 838,683 838,683 838,686 838,687 838,686 838,677 839,683 839,684 839,677 839,684 839,687 839,681 839,686 839,684 840,680 840,679 840,684 840,677 840,678 840,671 840,677 840,686 841,679 841,681 841,678 841,687 841,677 841,685 841,679 842,680 842,681 842,687 842,680 842,678 842,684 842,685 842,679 843,678 843,681 843,674 843,679 843,679 843,685 843,682 843,682 844,680 844,679 844,682 844,675 844,678 844,673 844,673 844,679 845,686 845,680 845,684 845,681 845,679 845,683 845,681 846,678 846,674 846,679 846,678 846,677 846,678 846,679 846,678 847,681 847,681 847,683 847,677 847,678 847,688 847,682 847,680 848,682 848,682 848,680 848,683 848,688 848,684 848,685 848,676 849,682 849,683 849,679 849,677 849,679 849,680 849,676 850,675 850,674 850,668 850,676 850,668 850,676 850,681 850,674 851,672 851,668 851,677 851,671 851,676 851,676 851,670 851,675 852,678 852,675 852,677 852,671 852,675 852,675 852,663 852,675 853,674 853,677 853,676 853,663 853,667 853,670 853,668 853,663 854,668 854,666 854,669 854,666 854,670 854,667 854,663 855,659 855,668 855,662 855,659 855,663 855,661 855,659 855,661 856,661 856,663 856,658 856,655 856,671 856,660 856,660 856,666 857,664 857,662 857,664 857,669 857,671 857,660 857,666 857,659 858,666 858,662 858,665 858,663 858,668 858,664 858,659 859,667 859,671 859,663 859,664 859,667 859,661 859,662 859,657 860,661 860,655 860,654 860,658 860,651 860,661 860,662 860,657 861,660 861,661 861,668 861,664 861,663 861,662 861,662 861,662 862,657 862,662 862,662 862,663 862,663 862,658 862,657 863,659 863,661 863,662 863,662 863,659 863,657 863,660 863,660 864,658 864,664 864,654 864,661 864,661 864,657 864,659 864,657 865,656 865,662 865,653 865,659 865,654 865,654 865,656 865,658 866,661 866,662 866,658 866,659 866,656 866,657 866,665 866,661 867,661 867,658 867,658 867,662 867,657 867,663 867,665 868,660 868,659 868,664 868,667 868,661 868,665 868,658 868,658 869,664 869,661 869,667 869,669 869,670 869,667 869,665 869,672 870,667 870,668 870,667 870,662 870,661 870,669 870,671 870,667 871,667 871,674 871,670 871,667 871,670 871,669 871,670 872,671 872,673 872,676 872,668 872,670 872,669 872,677 872,670 873,671 873,668 873,671 873,665 873,671 873,672 873,669 873,672 874,669 874,669 874,672 874,671 874,669 874,667 874,669 874,667 875,670 875,668 875,658 875,664 875,655 875,672 875,673 875,670 876,668 876,668 876,668 876,666 876,665 876,667 876,668 877,658 877,668 877,665 877,661 877,652 877,668 877,660 877,657 878,652 878,658 878,654 878,656 878,659 878,659 878,657 878,650 879,659 879,661 879,662 879,663 879,664 879,665 879,663 879,666 880,663 880,661 880,660 880,653 880,665 880,659 880,661 881,666 881,665 881,661 881,659 881,656 881,660 881,658 881,665 882,663 882,653 882,662 882,660 882,663 882,655 882,659 882,660 883,659 883,657 883,661 883,653 883,651 883,652 883,653 883,649 884,648 884,655 884,650 884,647 884,652 884,647 884,648 885,649 885,644 885,648 885,645 885,649 885,647 885,648 885,647 886,644 886,646 886,645 886,642 886,642 886,646 886,647 886,642 887,644 887,651 887,648 887,651 887,651 887,645 887,644 887,644 888,646 888,644 888,644 888,649 888,643 888,646 888,647 888,656 889,651 889,652 889,654 889,656 889,649 889,652 889,653 890,655 890,650 890,651 890,650 890,654 890,652 890,655 890,652 891,656 891,672 891,666 891,667 891,665 891,669 891,671 891,668 892,665 892,674 892,670 892,670 892,666 892,669 892,675 892,673 893,661 893,663 893,663 893,665 893,667 893,677 893,674 894,676 894,669 894,675 894,672 894,670 894,677 894,667 894,671 895,665 895,676 895,663 895,667 895,675 895,665 895,664 895,666 896,662 896,660 896,660 896,664 896,664 896,661 896,659 896,660 897,655 897,661 897,657 897,664 897,664 897,661 897,662 898,665 898,664 898,662 898,662 898,653 898,657 898,661 898,656 899,655 899,660 899,660 899,659 899,657 899,665 899,662 899,664 900,652 900,658 900,662 900,658 900,660 900,663 900,664 900,659 901,664 901,668 901,661 901,667 901,663 901,655 901,663 901,659 902,658 902,657 902,656 902,662 902,660 902,662 902,660 903,663 903,658 903,656 903,669 903,659 903,662 903,663 903,660 904,662 904,664 904,655 904,653 904,660 904,659 904,660 904,658 905,660 905,656 905,655 905,654 905,659 905,658 905,659 905,644 906,646 906,646 906,664 906,654 906,657 906,655 906,652 907,650 907,652 907,648 907,657 907,651 907,653 907,651 907,654 908,654 908,656 908,650 908,650 908,653 908,649 908,652 908,652 909,660 909,652 909,649 909,655 909,655 909,653 909,660 909,658 910,665 910,657 910,663 910,661 910,665 910,660 910,664 910,667 911,663 911,664 911,667 911,667 911,673 911,679 911,672 912,674 912,674 912,674 912,673 912,670 912,678 912,672 912,673 913,681 913,680 913,676 913,674 913,672 913,669 913,676 913,675 914,680 914,677 914,674 914,670 914,677 914,671 914,670 914,670 915,671 915,677 915,673 915,666 915,669 915,663 915,661 916,667 916,666 916,665 916,666 916,665 916,668 916,665 916,662 917,661 917,662 917,661 917,665 917,662 917,661 917,663 917,660 918,660 918,660 918,656 918,655 918,649 918,654 918,653 918,651 919,655 919,652 919,657 919,653 919,651 919,649 919,653 920,648 920,650 920,647 920,646 920,648 920,647 920,643 920,647 921,645 921,652 921,652 921,649 921,640 921,645 921,640 921,649 922,649 922,654 922,639 922,647 922,640 922,642 922,650 922,648 923,645 923,647 923,641 923,650 923,644 923,644 923,643 923,646 924,645 924,639 924,644 924,645 924,646 924,639 924,641 925,641 925,642 925,638 925,641 925,646 925,638 925,640 925,643 926,640 926,648 926,641 926,652 926,648 926,647 926,650 926,645 927,647 927,649 927,652 927,656 927,650 927,656 927,653 927,649 928,648 928,646 928,644 928,644 928,646 928,652 928,643 929,647 929,649 929,655 929,646 929,648 929,656 929,657 929,654 930,651 930,650 930,646 930,658 930,651 930,653 930,648 930,652 931,645 931,653 931,651 931,641 931,645 931,650 931,655 931,652 932,655 932,656 932,651 932,654 932,648 932,647 932,649 933,650 933,650 933,646 933,647 933,649 933,651 933,648 933,649 934,644 934,644 934,646 934,646 934,644 934,651 934,649 934,642 935,641 935,642 935,644 935,641 935,636 935,638 935,638 935,644 936,636 936,647 936,641 936,637 936,634 936,641 936,635 936,637 937,637 937,638 937,639 937,636 937,633 937,639 937,636 938,635 938,634 938,638 938,639 938,631 938,635 938,640 938,638 939,639 939,634 939,636 939,640 939,634 939,636 939,637 939,639 940,643 940,640 940,646 940,640 940,642 940,644 940,645 940,648 941,647 941,646 941,647 941,651 941,643 941,654 941,652 942,652 942,652 942,651 942,653 942,653 942,655 942,652 942,654 943,648 943,654 943,654 943,663 943,663 943,663 943,659 943,661 944,661 944,664 944,656 944,666 944,659 944,662 944,659 944,663 945,669 945,662 945,662 945,667 945,670 945,669 945,670 945,672 946,665 946,670 946,673 946,668 946,669 946,669 946,671 947,676 947,673 947,670 947,663 947,678 947,672 947,676 947,680 948,674 948,674 948,674 948,672 948,674 948,677 948,677 948,670 949,677 949,680 949,682 949,680 949,683 949,683 949,686 949,689 950,685 950,687 950,680 950,695 950,689 950,686 950,689 951,688 951,686 951,691 951,685 951,696 951,691 951,694 951,703 952,700 952,693 952,698 952,700 952,701 952,710 952,705 952,702 953,707 953,703 953,709 953,704 953,704 953,703 953,704 953,704 954,708 954,707 954,710 954,708 954,701 954,697 954,700 955,701 955,703 955,708 955,703 955,706 955,707 955,707 955,711 956,707 956,708 956,707 956,704 956,707 956,705 956,714 956,714 957,707 957,708 957,711 957,706 957,711 957,704 957,711 957,710 958,713 958,717 958,716 958,713 958,720 958,714 958,711 958,715 959,715 959,713 959,713 959,713 959,704 959,707 959,711 960,702 960,715 960,707 960,708 960,715 960,704 960,703 960,706 961,710 961,709 961,711 961,703 961,709 961,707 961,708 961,700 962,710 962,710 962,713 962,710 962,707 962,710 962,701 962,709 963,705 963,710 963,709 963,710 963,707 963,705 963,702 964,702 964,711 964,718 964,710 964,711 964,712 964,718 964,715 965,717 965,714 965,711 965,717 965,710 965,710 965,714 965,712 966,708 966,709 966,707 966,714 966,711 966,717 966,718 966,721 967,720 967,720 967,721 967,718 967,713 967,718 967,714 967,718 968,717 968,714 968,720 968,723 968,716 968,715 968,711 969,714 969,722 969,715 969,716 969,716 969,706 969,722 969,710 970,715 970,716 970,712 970,721 970,714 970,715 970,712 970,715 971,719 971,714 971,720 971,716 971,708 971,713 971,717 971,714 972,706 972,716 972,718 972,714 972,709 972,714 972,719 973,720 973,715 973,717 973,718 973,716 973,721 973,719 973,720 974,713 974,712 974,715 974,715 974,716 974,717 974,721 974,722 975,716 975,710 975,724 975,718 975,720 975,713 975,721 975,714 976,726 976,725 976,730 976,724 976,719 976,720 976,726 977,725 977,725 977,718 977,722 977,732 977,732 977,731 977,731 978,732 978,731 978,732 978,734 978,733 978,733 978,719 978,730 979,723 979,728 979,725 979,736 979,725 979,723 979,728 979,722 980,724 980,729 980,730 980,733 980,727 980,734 980,729 980,732 981,723 981,727 981,732 981,728 981,735 981,731 981,730 982,732 982,734 982,736 982,740 982,738 982,738 982,735 982,737 983,738 983,740 983,735 983,737 983,738 983,739 983,740 983,738 984,741 984,735 984,739 984,735 984,730 984,745 984,744 984,743 985,749 985,747 985,749 985,749 985,751 985,745 985,750 986,743 986,742 986,748 986,741 986,746 986,739 986,738 986,746 987,739 987,752 987,742 987,745 987,745 987,745 987,748 987,749 988,748 988,744 988,743 988,747 988,744 988,750 988,749 988,750 989,748 989,751 989,758 989,751 989,751 989,756 989,753 990,748 990,747 990,753 990,747 990,753 990,752 990,748 990,745 991,751 991,751 991,756 991,748 991,758 991,746 991,753 991,749 992,759 992,756 992,748 992,750 992,751 992,757 992,757 992,756 993,751 993,750 993,756 993,758 993,754 993,751 993,759 993,759 994,761 994,763 994,767 994,767 994,762 994,765 994,765 995,765 995,760 995,761 995,764 995,764 995,761 995,769 995,765 996,759 996,773 996,767 996,773 996,769 996,775 996,773 996,770 997,770 997,766 997,763 997,767 997,769 997,774 997,768 997,774 998,768 998,773 998,769 998,766 998,769 998,767 998,767 999,768 999,775 999,780 999,775 999,781 999,777 999,782 999,774 1000,775 1000,769 1000,778 1000,778 1000,774 1000,775 1000,773 1000,783 1001,779 1001,780 1001,778 1001,785 1001,781 1001,778 1001,778 1001,783 1002,784 1002,782 1002,783 1002,782 1002,784 1002,784 1002,783 1002,779 1003,777 1003,774 1003,781 1003,784 1003,777 1003,780 1003,784 1004,779 1004,789 1004,785 1004,786 1004,780 1004,780 1004,786 1004,780 1005,783 1005,787 1005,788 1005,791 1005,780 1005,787 1005,782 1005,784 1006,785 1006,777 1006,785 1006,779 1006,775 1006,780 1006,779 1006,784 1007,783 1007,783 1007,783 1007,782 1007,777 1007,774 1007,782 1008,778 1008,772 1008,769 1008,772 1008,775 1008,772 1008,771 1008,778 1009,768 1009,777 1009,770 1009,765 1009,763 1009,767 1009,768 1009,770 1010,763 1010,760 1010,765 1010,756 1010,758 1010,759 1010,754 1010,766 1011,759 1011,755 1011,755 1011,756 1011,757 1011,758 1011,753 1012,754 1012,753 1012,750 1012,745 1012,756 1012,751 1012,752 1012,757 1013,755 1013,746 1013,751 1013,753 1013,753 1013,755 1013,755 1013,754 1014,756 1014,751 1014,752 1014,748 1014,751 1014,752 1014,749 1014,747 1015,753 1015,745 1015,755 1015,755 1015,756 1015,757 1015,752 1015,752 1016,753 1016,748 1016,752 1016,746 1016,750 1016,748 1016,752 1017,749 1017,755 1017,746 1017,750 1017,755 1017,753 1017,746 1017,746 1018,744 1018,749 1018,745 1018,749 1018,747 1018,744 1018,750 1018,741 1019,742 1019,744 1019,748 1019,748 1019,746 1019,745 1019,743 1019,748 1020,738 1020,741 1020,739 1020,745 1020,732 1020,737 1020,741 1021,742 1021,739 1021,736 1021,740 1021,735 1021,737 1021,740 1021,737 1022,734 1022,733 1022,739 1022,735 1022,738 1022,738 1022,736 1022,737 1023,735 1023,739 1023,733 1023,736 1023,741 1023,741 1023,739 1023,745 1024,739 1024,735 1024,732 1024,738 1024,743 1024,747 1024,742 1025,736 1025,745 1025,742 1025,739 1025,741 1025,744 1025,744 1025,746 1026,744 1026,747 1026,743 1026,746 1026,752 1026,751 1026,751 1026,746 1027,749 1027,750 1027,757 1027,756 1027,755 1027,754 1027,755 1027,756 1028,750 1028,753 1028,757 1028,756 1028,760 1028,758 1028,759 1028,761 1029,747 1029,748 1029,750 1029,752 1029,754 1029,755 1029,768 1030,767 1030,766 1030,768 1030,773 1030,766 1030,758 1030,763 1030,764 1031,760 1031,763 1031,763 1031,769 1031,768 1031,769 1031,769 1031,768 1032,765 1032,769 1032,770 1032,768 1032,764 1032,763 1032,761 1032,761 1033,759 1033,758 1033,761 1033,767 1033,764 1033,760 1033,763 1034,756 1034,756 1034,754 1034,756 1034,751 1034,752 1034,756 1034,758 1035,764 1035,759 1035,758 1035,760 1035,755 1035,749 1035,752 1035,762 1036,761 1036,761 1036,764 1036,761 1036,761 1036,760 1036,762 1036,760 1037,759 1037,747 1037,753 1037,755 1037,751 1037,756 1037,750 1037,743 1038,744 1038,749 1038,753 1038,746 1038,741 1038,752 1038,751 1039,750 1039,742 1039,751 1039,745 1039,752 1039,745 1039,745 1039,749 1040,749 1040,754 1040,745 1040,742 1040,742 1040,753 1040,749 1040,746 1041,753 1041,745 1041,753 1041,752 1041,746 1041,746 1041,751 1041,752 1042,749 1042,741 1042,752 1042,752 1042,748 1042,749 1042,746 1043,749 1043,750 1043,740 1043,753 1043,755 1043,751 1043,747 1043,741 1044,745 1044,747 1044,745 1044,752 1044,748 1044,743 1044,744 1044,745 1045,742 1045,749 1045,745 1045,743 1045,748 1045,744 1045,746 1045,751 1046,749 1046,739 1046,743 1046,747 1046,745 1046,742 1046,750 1047,748 1047,748 1047,756 1047,751 1047,744 1047,742 1047,747 1047,744 1048,747 1048,745 1048,754 1048,748 1048,747 1048,749 1048,753 1048,743 1049,746 1049,749 1049,740 1049,751 1049,748 1049,749 1049,757 1049,753 1050,749 1050,747 1050,748 1050,741 1050,746 1050,751 1050,746 1050,749 1051,746 1051,756 1051,746 1051,749 1051,748 1051,749 1051,757 1052,745 1052,752 1052,749 1052,751 1052,753 1052,757 1052,752 1052,744 1053,752 1053,750 1053,751 1053,750 1053,749 1053,751 1053,756 1053,753 1054,753 1054,758 1054,754 1054,747 1054,747 1054,745 1054,746 1054,747 1055,752 1055,750 1055,747 1055,749 1055,750 1055,745 1055,745 1056,751 1056,757 1056,751 1056,738 1056,740 1056,745 1056,747 1056,752 1057,751 1057,745 1057,750 1057,754 1057,741 1057,746 1057,745 1057,753 1058,750 1058,748 1058,754 1058,750 1058,756 1058,756 1058,750 1058,754 1059,756 1059,757 1059,756 1059,756 1059,757 1059,759 1059,749 1060,750 1060,763 1060,747 1060,755 1060,750 1060,758 1060,760 1060,761 1061,759 1061,759 1061,754 1061,755 1061,755 1061,752 1061,758 1061,754 1062,757 1062,750 1062,756 1062,752 1062,749 1062,749 1062,750 1062,751 1063,753 1063,750 1063,744 1063,747 1063,755 1063,748 1063,752 1063,747 1064,752 1064,743 1064,749 1064,745 1064,744 1064,740 1064,740 1065,739 1065,740 1065,739 1065,739 1065,734 1065,732 1065,735 1065,736 1066,733 1066,739 1066,740 1066,738 1066,735 1066,734 1066,733 1066,731 1067,733 1067,733 1067,722 1067,734 1067,738 1067,724 1067,730 1067,733 1068,723 1068,726 1068,720 1068,726 1068,728 1068,732 1068,730 1069,729 1069,721 1069,723 1069,727 1069,719 1069,719 1069,717 1069,715 1070,720 1070,726 1070,714 1070,714 1070,718 1070,715 1070,715 1070,712 1071,724 1071,719 1071,722 1071,720 1071,723 1071,714 1071,707 1071,714 1072,713 1072,717 1072,722 1072,716 1072,719 1072,710 1072,721 1072,725 1073,721 1073,720 1073,720 1073,714 1073,713 1073,715 1073,714 1074,712 1074,713 1074,713 1074,717 1074,716 1074,711 1074,712 1074,713 1075,714 1075,710 1075,713 1075,713 1075,708 1075,709 1075,708 1075,713 1076,708 1076,714 1076,710 1076,709 1076,715 1076,712 1076,711 1076,715 1077,708 1077,705 1077,712 1077,706 1077,715 1077,708 1077,712 1078,711 1078,710 1078,711 1078,713 1078,710 1078,709 1078,712 1078,709 1079,706 1079,703 1079,707 1079,707 1079,702 1079,706 1079,713 1079,713 1080,709 1080,708 1080,712 1080,704 1080,706 1080,707 1080,705 1080,706 1081,707 1081,706 1081,704 1081,705 1081,707 1081,702 1081,698 1082,704 1082,706 1082,703 1082,706 1082,705 1082,704 1082,704 1082,709 1083,703 1083,704 1083,703 1083,699 1083,705 1083,697 1083,705 1083,702 1084,698 1084,697 1084,703 1084,697 1084,694 1084,695 1084,694 1084,697 1085,694 1085,697 1085,693 1085,697 1085,696 1085,692 1085,693 1085,693 1086,686 1086,691 1086,679 1086,689 1086,687 1086,692 1086,687 1087,688 1087,691 1087,690 1087,692 1087,691 1087,684 1087,683 1087,682 1088,681 1088,682 1088,681 1088,684 1088,684 1088,686 1088,690 1088,686 1089,685 1089,689 1089,679 1089,684 1089,686 1089,687 1089,686 1089,688 1090,683 1090,688 1090,679 1090,684 1090,679 1090,691 1090,688 1091,681 1091,688 1091,682 1091,685 1091,679 1091,681 1091,684 1091,686 1092,684 1092,685 1092,686 1092,684 1092,676 1092,680 1092,678 1092,676 1093,676 1093,678 1093,680 1093,682 1093,683 1093,678 1093,679 1093,676 1094,679 1094,670 1094,675 1094,674 1094,671 1094,671 1094,676 1095,668 1095,672 1095,676 1095,680 1095,670 1095,668 1095,671 1095,665 1096,665 1096,661 1096,669 1096,663 1096,661 1096,667 1096,667 1096,667 1097,665 1097,665 1097,662 1097,666 1097,665 1097,660 1097,665 1097,657 1098,665 1098,666 1098,664 1098,661 1098,658 1098,656 1098,664 1098,662 1099,661 1099,663 1099,667 1099,660 1099,658 1099,655 1099,665 1100,657 1100,662 1100,667 1100,656 1100,660 1100,658 1100,652 1100,660 1101,656 1101,662 1101,663 1101,657 1101,662 1101,660 1101,659 1101,654 1102,650 1102,653 1102,659 1102,653 1102,653 1102,651 1102,662 1102,655 1103,658 1103,653 1103,654 1103,652 1103,652 1103,650 1103,647 1104,643 1104,640 1104,648 1104,641 1104,639 1104,640 1104,644 1104,644 1105,641 1105,639 1105,638 1105,637 1105,631 1105,642 1105,643 1105,636 1106,632 1106,633 1106,638 1106,634 1106,634 1106,627 1106,627 1106,630 1107,633 1107,626 1107,630 1107,625 1107,622 1107,626 1107,621 1108,620 1108,620 1108,611 1108,619 1108,617 1108,613 1108,616 1108,618 1109,610 1109,614 1109,611 1109,623 1109,615 1109,612 1109,609 1109,612 1110,606 1110,613 1110,605 1110,611 1110,611 1110,615 1110,612 1110,613 1111,611 1111,612 1111,607 1111,614 1111,613 1111,612 1111,612 1111,607 1112,614 1112,611 1112,612 1112,617 1112,611 1112,609 1112,611 1113,611 1113,603 1113,609 1113,605 1113,615 1113,612 1113,607 1113,604 1114,608 1114,612 1114,612 1114,606 1114,611 1114,605 1114,611 1114,609 1115,604 1115,603 1115,609 1115,618 1115,602 1115,606 1115,611 1115,609 1116,607 1116,614 1116,607 1116,610 1116,606 1116,604 1116,608 1117,606 1117,608 1117,604 1117,606 1117,607 1117,604 1117,607 1117,605 1118,605 1118,610 1118,608 1118,605 1118,604 1118,601 1118,606 1118,608 1119,604 1119,603 1119,611 1119,613 1119,605 1119,605 1119,601 1119,607 1120,604 1120,606 1120,600 1120,595 1120,603 1120,599 1120,601 1120,601 1121,600 1121,597 1121,603 1121,600 1121,597 1121,595 1121,603 1122,603 1122,602 1122,603 1122,601 1122,601 1122,606 1122,600 1122,605 1123,610 1123,607 1123,617 1123,602 1123,606 1123,613 1123,611 1123,610 1124,610 1124,609 1124,612 1124,616 1124,613 1124,619 1124,616 1124,618 1125,622 1125,621 1125,622 1125,620 1125,622 1125,626 1125,620 1126,623 1126,624 1126,629 1126,628 1126,627 1126,633 1126,632 1126,633 1127,630 1127,637 1127,638 1127,637 1127,634 1127,635 1127,644 1127,645 1128,640 1128,637 1128,636 1128,639 1128,638 1128,642 1128,638 1128,643 1129,637 1129,639 1129,636 1129,637 1129,639 1129,637 1129,643 1130,635 1130,641 1130,636 1130,639 1130,633 1130,633 1130,643 1130,633 1131,635 1131,636 1131,632 1131,632 1131,630 1131,633 1131,628 1131,642 1132,628 1132,627 1132,634 1132,633 1132,629 1132,633 1132,625 1132,633 1133,631 1133,624 1133,635 1133,628 1133,638 1133,635 1133,633 1133,630 1134,626 1134,629 1134,638 1134,630 1134,631 1134,641 1134,638 1135,644 1135,641 1135,639 1135,640 1135,646 1135,634 1135,639 1135,637 1136,639 1136,639 1136,647 1136,641 1136,638 1136,640 1136,640 1136,643 1137,645 1137,642 1137,654 1137,644 1137,648 1137,640 1137,646 1137,641 1138,645 1138,649 1138,650 1138,650 1138,643 1138,646 1138,644 1139,644 1139,651 1139,653 1139,648 1139,646 1139,645 1139,652 1139,649 1140,640 1140,643 1140,644 1140,655 1140,649 1140,646 1140,649 1140,648 1141,650 1141,647 1141,647 1141,643 1141,648 1141,647 1141,651 1141,651 1142,648 1142,642 1142,649 1142,650 1142,646 1142,655 1142,652 1143,655 1143,649 1143,647 1143,644 1143,653 1143,650 1143,649 1143,642 1144,646 1144,648 1144,652 1144,650 1144,648 1144,648 1144,653 1144,653 1145,660 1145,649 1145,652 1145,657 1145,654 1145,645 1145,650 1145,651 1146,655 1146,662 1146,661 1146,659 1146,655 1146,661 1146,664 1146,661 1147,660 1147,665 1147,655 1147,660 1147,662 1147,668 1147,662 1148,660 1148,664 1148,665 1148,659 1148,659 1148,660 1148,667 1148,661 1149,661 1149,658 1149,663 1149,664 1149,664 1149,665 1149,670 1149,667 1150,671 1150,674 1150,668 1150,672 1150,674 1150,663 1150,663 1150,661 1151,673 1151,672 1151,668 1151,675 1151,669 1151,671 1151,675 1152,670 1152,663 1152,672 1152,668 1152,671 1152,672 1152,672 1152,675 1153,674 1153,672 1153,675 1153,669 1153,667 1153,670 1153,667 1153,668 1154,668 1154,669 1154,670 1154,670 1154,668 1154,673 1154,666 1154,675 1155,669 1155,673 1155,668 1155,670 1155,665 1155,668 1155,665 1155,664 1156,677 1156,667 1156,666 1156,660 1156,657 1156,660 1156,664 1157,673 1157,667 1157,663 1157,664 1157,667 1157,665 1157,670 1157,666 1158,664 1158,659 1158,665 1158,660 1158,665 1158,666 1158,666 1158,673 1159,667 1159,668 1159,670 1159,663 1159,669 1159,665 1159,672 1159,671 1160,671 1160,675 1160,673 1160,672 1160,661 1160,662 1160,661 1161,661 1161,662 1161,668 1161,661 1161,669 1161,668 1161,670 1161,661 1162,668 1162,671 1162,669 1162,661 1162,666 1162,666 1162,665 1162,657 1163,667 1163,661 1163,664 1163,666 1163,669 1163,658 1163,663 1163,667 1164,664 1164,659 1164,660 1164,662 1164,661 1164,661 1164,656 1165,658 1165,656 1165,653 1165,651 1165,656 1165,652 1165,657 1165,654 1166,653 1166,655 1166,660 1166,657 1166,657 1166,659 1166,659 1166,666 1167,664 1167,658 1167,659 1167,661 1167,662 1167,656 1167,660 1167,654 1168,659 1168,658 1168,657 1168,661 1168,656 1168,656 1168,660 1168,659 1169,655 1169,661 1169,663 1169,657 1169,654 1169,654 1169,658 1170,662 1170,655 1170,659 1170,654 1170,655 1170,660 1170,656 1170,664 1171,655 1171,648 1171,651 1171,652 1171,654 1171,660 1171,658 1171,652 1172,651 1172,646 1172,653 1172,658 1172,649 1172,653 1172,650 1172,649 1173,656 1173,646 1173,652 1173,647 1173,647 1173,649 1173,654 1174,651 1174,655 1174,648 1174,649 1174,645 1174,645 1174,644 1174,653 1175,651 1175,652 1175,647 1175,655 1175,654 1175,654 1175,654 1175,651 1176,656 1176,657 1176,657 1176,659 1176,651 1176,652 1176,653 1176,652 1177,654 1177,654 1177,657 1177,656 1177,657 1177,653 1177,660 1178,661 1178,658 1178,658 1178,657 1178,661 1178,661 1178,658 1178,659 1179,659 1179,665 1179,663 1179,664 1179,666 1179,657 1179,668 1179,663 1180,669 1180,665 1180,663 1180,672 1180,669 1180,675 1180,671 1180,672 1181,674 1181,675 1181,674 1181,665 1181,667 1181,668 1181,675 1181,674 1182,670 1182,666 1182,670 1182,671 1182,671 1182,675 1182,672 1183,666 1183,673 1183,675 1183,674 1183,670 1183,670 1183,674 1183,673 1184,675 1184,675 1184,675 1184,669 1184,664 1184,675 1184,674 1184,673 1185,677 1185,676 1185,678 1185,674 1185,669 1185,680 1185,676 1185,674 1186,676 1186,674 1186,681 1186,686 1186,682 1186,682 1186,680 1187,682 1187,680 1187,677 1187,679 1187,684 1187,679 1187,688 1187,683 1188,687 1188,675 1188,676 1188,675 1188,676 1188,675 1188,676 1188,686 1189,686 1189,689 1189,686 1189,685 1189,686 1189,688 1189,688 1189,686 1190,687 1190,688 1190,686 1190,685 1190,685 1190,684 1190,680 1190,683 1191,682 1191,678 1191,685 1191,684 1191,679 1191,678 1191,682 1192,687 1192,687 1192,680 1192,685 1192,683 1192,676 1192,679 1192,676 1193,683 1193,675 1193,677 1193,674 1193,675 1193,677 1193,671 1193,677 1194,674 1194,679 1194,677 1194,674 1194,674 1194,676 1194,678 1194,681 1195,681 1195,676 1195,679 1195,679 1195,675 1195,677 1195,676 1196,676 1196,673 1196,667 1196,678 1196,671 1196,671 1196,677 1196,678 1197,671 1197,674 1197,686 1197,674 1197,675 1197,672 1197,680 1197,678 1198,676 1198,679 1198,682 1198,682 1198,679 1198,679 1198,685 1198,685 1199,683 1199,673 1199,679 1199,676 1199,679 1199,680 1199,678 1200,683 1200,677 1200,683 1200,680 1200,678 1200,683 1200,674 1200,684 1201,677 1201,676 1201,683 1201,684 1201,672 1201,678 1201,667 1201,670 1202,673 1202,670 1202,669 1202,671 1202,671 1202,667 1202,670 1202,663 1203,665 1203,661 1203,667 1203,666 1203,666 1203,668 1203,663 1203,658 1204,669 1204,664 1204,664 1204,654 1204,660 1204,666 1204,655 1205,659 1205,662 1205,658 1205,664 1205,657 1205,659 1205,661 1205,651 1206,661 1206,655 1206,657 1206,657 1206,656 1206,658 1206,657 1206,656 1207,662 1207,654 1207,649 1207,653 1207,657 1207,657 1207,649 1207,665 1208,649 1208,659 1208,651 1208,652 1208,657 1208,661 1208,659 1209,653 1209,658 1209,658 1209,661 1209,659 1209,657 1209,662 1209,656 1210,660 1210,661 1210,659 1210,663 1210,663 1210,670 1210,665 1210,659 1211,663 1211,666 1211,664 1211,667 1211,667 1211,665 1211,663 1211,659 1212,667 1212,669 1212,670 1212,670 1212,669 1212,667 1212,670 1213,672 1213,673 1213,669 1213,666 1213,673 1213,673 1213,672 1213,663 1214,673 1214,673 1214,672 1214,670 1214,672 1214,670 1214,671 1214,670 1215,676 1215,671 1215,667 1215,670 1215,672 1215,666 1215,672 1215,672 1216,668 1216,672 1216,674 1216,671 1216,666 1216,675 1216,668 1216,674 1217,674 1217,674 1217,671 1217,669 1217,675 1217,674 1217,673 1218,665 1218,663 1218,666 1218,663 1218,666 1218,664 1218,665 1218,667 1219,663 1219,671 1219,676 1219,673 1219,674 1219,676 1219,670 1219,671 1220,674 1220,666 1220,669 1220,674 1220,672 1220,671 1220,669 1220,671 1221,669 1221,671 1221,669 1221,667 1221,674 1221,679 1221,679 1222,671 1222,673 1222,677 1222,669 1222,671 1222,667 1222,675 1222,670 1223,673 1223,670 1223,668 1223,674 1223,669 1223,670 1223,665 1223,672 1224,668 1224,667 1224,674 1224,672 1224,665 1224,669 1224,660 1224,663 1225,664 1225,659 1225,666 1225,662 1225,664 1225,665 1225,662 1225,661 1226,663 1226,655 1226,660 1226,662 1226,662 1226,657 1226,652 1227,660 1227,663 1227,660 1227,660 1227,648 1227,656 1227,657 1227,656 1228,656 1228,651 1228,656 1228,650 1228,654 1228,648 1228,649 1228,653 1229,654 1229,655 1229,651 1229,649 1229,651 1229,648 1229,649 1229,650 1230,646 1230,647 1230,644 1230,649 1230,644 1230,641 1230,644 1231,644 1231,641 1231,639 1231,644 1231,641 1231,641 1231,639 1231,643 1232,638 1232,639 1232,643 1232,644 1232,645 1232,649 1232,643 1232,638 1233,646 1233,638 1233,639 1233,644 1233,643 1233,638 1233,645 1233,642 1234,648 1234,642 1234,640 1234,645 1234,648 1234,653 1234,647 1235,649 1235,650 1235,650 1235,652 1235,648 1235,659 1235,656 1235,659 1236,662 1236,658 1236,656 1236,657 1236,663 1236,659 1236,657 1236,665 1237,660 1237,666 1237,666 1237,666 1237,667 1237,668 1237,670 1237,666 1238,667 1238,670 1238,677 1238,679 1238,674 1238,673 1238,677 1238,680 1239,679 1239,677 1239,677 1239,681 1239,690 1239,685 1239,686 1240,685 1240,686 1240,674 1240,685 1240,681 1240,684 1240,691 1240,686 1241,682 1241,682 1241,687 1241,688 1241,680 1241,688 1241,685 1241,695 1242,695 1242,697 1242,697 1242,692 1242,692 1242,688 1242,693 1242,691 1243,689 1243,692 1243,699 1243,689 1243,687 1243,696 1243,694 1244,690 1244,688 1244,697 1244,697 1244,694 1244,689 1244,692 1244,688 1245,693 1245,692 1245,690 1245,692 1245,696 1245,689 1245,692 1245,691 1246,691 1246,687 1246,690 1246,691 1246,695 1246,691 1246,693 1246,696 1247,695 1247,692 1247,692 1247,690 1247,696 1247,696 1247,694 1248,691 1248,695 1248,690 1248,686 1248,688 1248,691 1248,690 1248,696 1249,696 1249,698 1249,692 1249,697 1249,685 1249,686 1249,692 1249,691 1250,693 1250,694 1250,700 1250,697 1250,693 1250,688 1250,696 1250,692 1251,691 1251,691 1251,698 1251,698 1251,696 1251,692 1251,700 1251,695 1252,690 1252,695 1252,699 1252,699 1252,695 1252,693 1252,699 1253,697 1253,696 1253,698 1253,695 1253,697 1253,693 1253,694 1253,697 1254,699 1254,698 1254,699 1254,701 1254,699 1254,691 1254,703 1254,703 1255,699 1255,698 1255,691 1255,706 1255,701 1255,705 1255,706 1255,707 1256,702 1256,706 1256,701 1256,706 1256,703 1256,694 1256,703 1257,710 1257,706 1257,705 1257,703 1257,703 1257,695 1257,698 1257,694 1258,690 1258,700 1258,696 1258,699 1258,698 1258,704 1258,696 1258,697 1259,706 1259,692 1259,701 1259,704 1259,697 1259,705 1259,700 1259,693 1260,697 1260,698 1260,699 1260,698 1260,695 1260,703 1260,692 1260,694 1261,693 1261,694 1261,690 1261,693 1261,694 1261,695 1261,694 1262,694 1262,691 1262,688 1262,688 1262,690 1262,687 1262,691 1262,698 1263,688 1263,689 1263,695 1263,696 1263,691 1263,691 1263,694 1263,688 1264,691 1264,697 1264,692 1264,688 1264,695 1264,693 1264,695 1264,698 1265,697 1265,695 1265,697 1265,701 1265,704 1265,698 1265,701 1266,693 1266,699 1266,690 1266,693 1266,694 1266,699 1266,693 1266,691 1267,698 1267,695 1267,699 1267,699 1267,701 1267,698 1267,703 1267,700 1268,701 1268,697 1268,697 1268,696 1268,700 1268,697 1268,697 1268,696 1269,689 1269,694 1269,698 1269,703 1269,698 1269,698 1269,695 1270,697 1270,695 1270,698 1270,697 1270,694 1270,702 1270,694 1270,700 1271,689 1271,699 1271,695 1271,696 1271,693 1271,692 1271,695 1271,693 1272,693 1272,697 1272,694 1272,696 1272,692 1272,693 1272,697 1272,695 1273,694 1273,688 1273,698 1273,692 1273,697 1273,687 1273,688 1273,687 1274,685 1274,688 1274,687 1274,692 1274,690 1274,696 1274,696 1275,696 1275,696 1275,696 1275,693 1275,693 1275,698 1275,697 1275,694 1276,688 1276,687 1276,689 1276,692 1276,692 1276,688 1276,687 1276,690 1277,688 1277,690 1277,683 1277,687 1277,692 1277,684 1277,681 1277,679 1278,680 1278,681 1278,677 1278,680 1278,680 1278,679 1278,679 1279,687 1279,687 1279,685 1279,693 1279,691 1279,690 1279,688 1279,678 1280,687 1280,690 1280,695 1280,693 1280,685 1280,688 1280,688 1280,694 1281,693 1281,692 1281,694 1281,692 1281,695 1281,690 1281,690 1281,693 1282,687 1282,691 1282,690 1282,696 1282,694 1282,692 1282,698 1282,700 1283,695 1283,695 1283,701 1283,695 1283,699 1283,702 1283,699 1284,705 1284,703 1284,705 1284,701 1284,713 1284,700 1284,705 1284,705 1285,706 1285,701 1285,698 1285,702 1285,697 1285,708 1285,706 1285,707 1286,710 1286,708 1286,711 1286,706 1286,709 1286,706 1286,708 1286,707 1287,707 1287,700 1287,708 1287,710 1287,712 1287,706 1287,706 1288,700 1288,704 1288,701 1288,699 1288,702 1288,701 1288,697 1288,704 1289,701 1289,707 1289,704 1289,698 1289,698 1289,703 1289,696 1289,693 1290,694 1290,695 1290,696 1290,697 1290,698 1290,701 1290,703 1290,691 1291,699 1291,694 1291,696 1291,689 1291,686 1291,696 1291,697 1292,698 1292,703 1292,699 1292,695 1292,695 1292,697 1292,694 1292,690 1293,699 1293,698 1293,696 1293,693 1293,697 1293,695 1293,693 1293,694 1294,693 1294,694 1294,700 1294,700 1294,696 1294,695 1294,699 1294,693 1295,692 1295,693 1295,690 1295,690 1295,690 1295,689 1295,692 1295,690 1296,690 1296,691 1296,685 1296,696 1296,686 1296,688 1296,687 1297,693 1297,692 1297,691 1297,692 1297,687 1297,689 1297,689 1297,692 1298,692 1298,683 1298,682 1298,682 1298,677 1298,679 1298,681 1298,676 1299,680 1299,679 1299,676 1299,678 1299,679 1299,677 1299,682 1299,679 1300,683 1300,675 1300,674 1300,684 1300,679 1300,677 1300,684 1301,677 1301,678 1301,679 1301,679 1301,676 1301,676 1301,679 1301,688 1302,682 1302,683 1302,688 1302,683 1302,685 1302,682 1302,675 1302,678 1303,686 1303,685 1303,690 1303,685 1303,681 1303,680 1303,682 1303,684 1304,685 1304,685 1304,689 1304,688 1304,693 1304,685 1304,689 1305,692 1305,689 1305,692 1305,686 1305,686 1305,687 1305,692 1305,687 1306,689 1306,688 1306,688 1306,691 1306,689 1306,686 1306,678 1306,674 1307,680 1307,676 1307,680 1307,677 1307,671 1307,679 1307,681 1307,677 1308,682 1308,680 1308,678 1308,676 1308,680 1308,683 1308,675 1308,676 1309,669 1309,673 1309,666 1309,675 1309,675 1309,671 1309,675 1310,666 1310,677 1310,670 1310,674 1310,670 1310,663 1310,668 1310,667 1311,666 1311,660 1311,662 1311,663 1311,664 1311,665 1311,668 1311,660 1312,665 1312,663 1312,666 1312,669 1312,669 1312,670 1312,663 1312,673 1313,664 1313,662 1313,666 1313,669 1313,671 1313,664 1313,664 1314,665 1314,664 1314,659 1314,666 1314,667 1314,665 1314,659 1314,664 1315,660 1315,663 1315,668 1315,670 1315,673 1315,666 1315,666 1315,670 1316,670 1316,673 1316,670 1316,665 1316,668 1316,662 1316,666 1316,668 1317,666 1317,665 1317,654 1317,654 1317,656 1317,657 1317,657 1317,659 1318,666 1318,661 1318,673 1318,657 1318,667 1318,670 1318,665 1319,669 1319,670 1319,674 1319,672 1319,672 1319,667 1319,670 1319,672 1320,669 1320,668 1320,665 1320,667 1320,666 1320,672 1320,672 1320,671 1321,678 1321,677 1321,674 1321,680 1321,677 1321,678 1321,674 1321,672 1322,679 1322,684 1322,682 1322,682 1322,680 1322,680 1322,681 1323,686 1323,684 1323,688 1323,687 1323,689 1323,680 1323,689 1323,686 1324,685 1324,684 1324,682 1324,688 1324,689 1324,689 1324,676 1324,679 1325,680 1325,699 1325,700 1325,701 1325,689 1325,686 1325,690 1325,686 1326,682 1326,693 1326,686 1326,690 1326,693 1326,690 1326,692 1327,691 1327,687 1327,688 1327,689 1327,690 1327,690 1327,690 1327,685 1328,692 1328,688 1328,688 1328,684 1328,688 1328,691 1328,698 1328,682 1329,689 1329,689 1329,697 1329,693 1329,691 1329,692 1329,694 1329,692 1330,693 1330,692 1330,691 1330,686 1330,692 1330,692 1330,683 1330,689 1331,690 1331,693 1331,692 1331,696 1331,691 1331,688 1331,686 1332,689 1332,688 1332,688 1332,694 1332,689 1332,688 1332,685 1332,683 1333,697 1333,685 1333,690 1333,686 1333,688 1333,688 1333,681 1333,694 1334,689 1334,691 1334,686 1334,691 1334,695 1334,692 1334,689 1334,693 1335,689 1335,684 1335,690 1335,687 1335,686 1335,688 1335,693 1336,693 1336,688 1336,682 1336,686 1336,686 1336,690 1336,688 1336,684 1337,686 1337,692 1337,687 1337,685 1337,687 1337,686 1337,687 1337,686 1338,678 1338,678 1338,685 1338,682 1338,684 1338,688 1338,684 1338,683 1339,684 1339,682 1339,677 1339,684 1339,686 1339,682 1339,686 1340,682 1340,682 1340,680 1340,683 1340,686 1340,684 1340,681 1340,686 1341,684 1341,682 1341,683 1341,685 1341,682 1341,688 1341,683 1341,680 1342,683 1342,681 1342,690 1342,692 1342,686 1342,688 1342,692 1342,692 1343,685 1343,680 1343,681 1343,684 1343,684 1343,680 1343,683 1343,688 1344,678 1344,689 1344,683 1344,684 1344,678 1344,681 1344,680 1345,684 1345,675 1345,672 1345,673 1345,683 1345,681 1345,679 1345,685 1346,679 1346,687 1346,683 1346,678 1346,684 1346,684 1346,676 1346,674 1347,678 1347,679 1347,686 1347,673 1347,673 1347,672 1347,671 1347,672 1348,676 1348,679 1348,684 1348,681 1348,678 1348,680 1348,675 1349,676 1349,682 1349,680 1349,674 1349,678 1349,677 1349,672 1349,677 1350,674 1350,676 1350,675 1350,674 1350,673 1350,668 1350,668 1350,670 1351,681 1351,675 1351,672 1351,671 1351,671 1351,671 1351,665 1351,670 1352,676 1352,680 1352,679 1352,677 1352,674 1352,674 1352,675 1352,682 1353,676 1353,681 1353,673 1353,681 1353,677 1353,677 1353,677 1354,676 1354,677 1354,681 1354,666 1354,667 1354,668 1354,669 1354,670 1355,671 1355,687 1355,688 1355,689 1355,690 1355,677 1355,679 1355,682 1356,679 1356,678 1356,678 1356,685 1356,683 1356,689 1356,689 1356,688 1357,690 1357,688 1357,687 1357,687 1357,682 1357,681 1357,685 1358,682 1358,678 1358,676 1358,680 1358,684 1358,685 1358,677 1358,680 1359,676 1359,680 1359,682 1359,678 1359,683 1359,680 1359,682 1359,670 1360,671 1360,686 1360,687 1360,687 1360,687 1360,675 1360,673 1360,670 1361,671 1361,674 1361,669 1361,672 1361,676 1361,670 1361,672 1362,671 1362,673 1362,678 1362,677 1362,671 1362,678 1362,676 1362,669 1363,669 1363,674 1363,670 1363,663 1363,673 1363,669 1363,668 1363,668 1364,660 1364,662 1364,667 1364,657 1364,667 1364,668 1364,658 1364,662 1365,663 1365,665 1365,670 1365,669 1365,673 1365,668 1365,668 1365,661 1366,660 1366,668 1366,668 1366,661 1366,662 1366,667 1366,666 1367,663 1367,671 1367,666 1367,676 1367,670 1367,673 1367,677 1367,671 1368,673 1368,668 1368,677 1368,672 1368,677 1368,673 1368,675 1368,675 1369,672 1369,674 1369,682 1369,676 1369,684 1369,679 1369,682 1369,683 1370,688 1370,682 1370,687 1370,691 1370,690 1370,690 1370,689 1371,683 1371,686 1371,683 1371,684 1371,687 1371,690 1371,694 1371,701 1372,697 1372,695 1372,700 1372,699 1372,702 1372,702 1372,703 1372,704 1373,704 1373,705 1373,708 1373,705 1373,713 1373,704 1373,705 1373,709 1374,706 1374,710 1374,714 1374,709 1374,708 1374,711 1374,703 1375,704 1375,707 1375,700 1375,705 1375,693 1375,697 1375,693 1375,697 1376,701 1376,695 1376,698 1376,693 1376,696 1376,700 1376,697 1376,698 1377,693 1377,698 1377,699 1377,698 1377,695 1377,687 1377,696 1377,695 1378,691 1378,698 1378,692 1378,695 1378,693 1378,695 1378,691 1378,691 1379,694 1379,690 1379,694 1379,696 1379,688 1379,694 1379,692 1380,692 1380,688 1380,692 1380,693 1380,694 1380,692 1380,688 1380,690 1381,689 1381,696 1381,698 1381,695 1381,696 1381,700 1381,703 1381,698 1382,697 1382,694 1382,697 1382,697 1382,699 1382,700 1382,697 1382,697 1383,700 1383,701 1383,703 1383,700 1383,700 1383,702 1383,701 1384,706 1384,705 1384,704 1384,707 1384,702 1384,701 1384,712 1384,708 1385,704 1385,704 1385,704 1385,707 1385,711 1385,709 1385,716 1385,714 1386,712 1386,715 1386,709 1386,706 1386,710 1386,714 1386,713 1386,721 1387,707 1387,704 1387,708 1387,709 1387,704 1387,711 1387,708 1387,703 1388,715 1388,708 1388,710 1388,708 1388,711 1388,713 1388,705 1389,707 1389,709 1389,711 1389,713 1389,712 1389,705 1389,701 1389,701 1390,706 1390,699 1390,700 1390,702 1390,696 1390,699 1390,697 1390,697 1391,700 1391,709 1391,704 1391,696 1391,700 1391,693 1391,700 1391,690 1392,694 1392,696 1392,700 1392,697 1392,699 1392,695 1392,697 1393,695 1393,696 1393,689 1393,696 1393,684 1393,687 1393,689 1393,685 1394,689 1394,685 1394,691 1394,693 1394,680 1394,683 1394,684 1394,689 1395,689 1395,682 1395,686 1395,682 1395,688 1395,680 1395,679 1395,673 1396,675 1396,673 1396,670 1396,669 1396,672 1396,666 1396,668 1397,669 1397,668 1397,662 1397,667 1397,662 1397,664 1397,654 1397,653 1398,653 1398,654 1398,653 1398,659 1398,656 1398,655 1398,656 1398,651 1399,656 1399,652 1399,655 1399,658 1399,644 1399,652 1399,648 1399,642 1400,654 1400,652 1400,648 1400,645 1400,646 1400,643 1400,650 1400,643 1401,641 1401,646 1401,646 1401,645 1401,640 1401,640 1401,639 1402,638 1402,641 1402,632 1402,637 1402,633 1402,632 1402,633 1402,634 1403,635 1403,630 1403,635 1403,634 1403,633 1403,633 1403,631 1403,633 1404,633 1404,633 1404,634 1404,622 1404,629 1404,632 1404,633 1404,626 1405,631 1405,635 1405,624 1405,626 1405,633 1405,623 1405,622 1406,621 1406,627 1406,626 1406,625 1406,631 1406,637 1406,629 1406,623 1407,629 1407,629 1407,629 1407,625 1407,626 1407,630 1407,625 1407,623 1408,636 1408,631 1408,631 1408,631 1408,632 1408,630 1408,624 1408,631 1409,630 1409,631 1409,631 1409,633 1409,633 1409,630 1409,631 1410,631 1410,635 1410,637 1410,634 1410,629 1410,630 1410,625 1410,632 1411,630 1411,635 1411,634 1411,621 1411,639 1411,634 1411,627 1411,634 1412,638 1412,633 1412,636 1412,631 1412,634 1412,638 1412,640 1412,630 1413,628 1413,630 1413,640 1413,633 1413,630 1413,630 1413,633 1413,629 1414,634 1414,630 1414,624 1414,623 1414,624 1414,624 1414,624 1415,622 1415,628 1415,633 1415,623 1415,629 1415,631 1415,627 1415,630 1416,628 1416,635 1416,632 1416,631 1416,636 1416,634 1416,628 1416,627 1417,636 1417,630 1417,631 1417,637 1417,630 1417,633 1417,633 1417,629 1418,627 1418,627 1418,627 1418,626 1418,630 1418,633 1418,630 1419,630 1419,629 1419,635 1419,627 1419,631 1419,639 1419,632 1419,637 1420,633 1420,636 1420,632 1420,632 1420,638 1420,632 1420,628 1420,636 1421,633 1421,638 1421,640 1421,636 1421,636 1421,634 1421,631 1421,632 1422,643 1422,638 1422,638 1422,637 1422,636 1422,634 1422,640 1422,641"/>
<path fill="none" stroke="#1e90ff" stroke-width="4.1" stroke-linejoin="round" stroke-linecap="butt" shape-rendering="crispEdges" d="M162.7 331C163.2 332.4 165.7 338.6 166.7 341.8C167.7 345 169.4 353.4 170.8 356.6C172.2 359.8 176.5 367.5 178.1 367.4C179.7 367.3 182.4 356.2 183.5 356C184.6 355.8 186.1 363.1 186.9 366C187.7 368.9 189 376.9 190.2 379.5C191.4 382.1 194.9 388.4 196.3 386.9C197.7 385.4 200.4 371.3 201.7 367.4C203 363.4 205.8 359 207 355.3C208.2 351.6 210.5 337.8 211.7 337.8C212.9 337.8 215.5 351.1 216.5 355.3C217.5 359.5 218.8 366.7 219.8 371.4C220.8 376.1 223.4 390.9 224.5 392.9C225.6 394.9 227.7 389.4 228.5 387.5C229.3 385.6 229.8 379.9 230.6 378C231.4 376.1 233.7 375.5 234.6 372.7C235.5 369.9 237.2 359.5 238 355.3C238.8 351.1 239.4 341.2 240.6 339.1C241.8 337 246.2 337.5 247.4 338.5C248.6 339.5 248.8 346.3 250 347.2C251.2 348.1 255.2 347.2 256.8 345.9C258.4 344.6 261.6 336.3 262.8 337.1C264 337.9 265.4 349.4 266.2 352.6C267 355.8 268.3 361.2 269.5 362.7C270.7 364.2 274.4 363.3 275.6 364.7C276.8 366.1 277.7 371.7 279 374.1C280.3 376.5 284.4 385.2 285.7 384.2C286.9 383.2 288.2 371.8 289 366C289.8 360.2 291.2 341.5 292.4 337.8C293.6 334.1 296.9 338.7 298.4 336.5C299.9 334.3 303.3 321.7 304.5 320.3C305.7 318.9 306.4 325.2 307.8 325.7C309.2 326.2 314.5 325 315.9 324.4C317.3 323.8 318.2 319.9 319.3 321C320.4 322.1 323.4 331.8 324.6 333.1C325.8 334.4 327.5 335.6 328.7 331.7C329.9 327.8 332.7 304.8 334 302.2C335.3 299.6 337.4 306.3 338.8 310.9C340.2 315.5 343.3 335.1 344.8 339.1C346.3 343.1 349.3 341.4 350.9 343.2C352.5 345 355.9 353.3 357.4 353.6C358.9 353.9 361.6 343.8 362.8 345.5C364 347.2 365.6 363.6 366.8 367C368 370.4 370.8 372.8 372.2 373.1C373.6 373.4 376 369.3 377.6 369.7C379.2 370.1 383 374.6 384.9 376.5C386.8 378.4 391.6 381.8 393 384.5C394.4 387.2 395.5 395.6 396.4 398C397.3 400.4 399 401.8 400.4 403.3C401.8 404.8 406 408.5 407.8 410C409.6 411.5 413 414.6 414.5 415.4C416 416.2 418.6 417.3 419.9 416.1C421.2 414.9 423.4 405.6 424.6 406C425.8 406.4 428.3 416 429.3 419.5C430.3 423 431.9 431.2 432.7 434.2C433.5 437.2 435.3 440.8 436 443.7C436.7 446.6 437.2 453.9 438 457.1C438.8 460.3 441.7 464.7 442.7 469.2C443.7 473.7 445.2 492.3 446.1 493.4C447 494.5 449.2 477.7 450.1 477.9C451 478.1 452.6 491.9 453.5 494.7C454.4 497.5 456.2 499.3 457.5 500.1C458.8 500.9 462.4 501.3 463.6 500.8C464.8 500.3 466.1 495.7 466.9 496.1C467.7 496.5 469.1 502.8 470.3 504.1C471.5 505.4 475 505 476.3 506.8C477.6 508.6 479.9 519.9 481 518.9C482.1 517.9 484 502.8 485.1 498.8C486.2 494.9 488.7 487 489.8 487.3C490.9 487.6 493 498.2 493.8 501.5C494.6 504.8 495.5 511.7 496.5 513.5C497.5 515.3 500.6 517.7 501.9 516.2C503.2 514.7 505.1 503.6 506.6 501.5C508.1 499.4 512.3 502.1 514 499.5C515.7 496.9 518.4 479.1 520 481C521.6 482.9 525.3 507.6 526.9 514.5C528.5 521.4 531.6 531 532.9 536C534.2 541 535.9 553.7 537 554.2C538.1 554.7 540.5 541.9 541.7 540C542.9 538.1 544.9 538.5 546.4 539.4C547.9 540.2 551.9 544.9 553.8 546.8C555.7 548.6 560.1 554.3 561.8 554.2C563.5 554.1 565.9 546.6 567.2 546.1C568.6 545.6 571.2 550.3 572.6 550.1C574 549.9 576.8 543.4 578 544.8C579.2 546.2 581 559.1 582 561.6C583 564.1 584.6 566.3 586 564.9C587.4 563.5 592 549.7 593.4 550.1C594.8 550.5 596.5 564.3 597.4 568.3C598.3 572.2 599.5 579.9 600.8 581.7C602.1 583.5 606.1 581.4 607.5 582.4C608.9 583.4 610.2 588.8 611.6 589.8C613 590.8 616.6 589.5 618.3 590.5C620 591.5 623.6 595.4 625 597.8C626.4 600.2 628.5 606.8 629.7 609.9C630.9 613 633 621.7 634.4 622.7C635.8 623.7 638.9 619.2 641.1 618C643.3 616.8 650.5 613.9 651.9 613.3"/>
<path fill="none" stroke="#1e90ff" stroke-width="4.1" stroke-linejoin="round" stroke-linecap="butt" shape-rendering="crispEdges" d="M680.2 645.9C680.6 647.1 682.4 656.3 683.5 655.3C684.6 654.3 687.5 641.2 688.9 637.8C690.2 634.3 693 627.5 694.3 627.7C695.6 627.9 697.9 639.4 699 639.1C700.1 638.8 701.8 624.3 703 625C704.2 625.7 707.2 639 708.4 644.5C709.6 650 711.6 662 712.4 668.7C713.2 675.4 714.3 695.8 715.1 698.3C715.9 700.8 717.9 688.6 719.1 688.9C720.3 689.2 723 700.2 724.5 701C726 701.8 729.9 693.6 731.2 695.6C732.6 697.6 734.2 715.8 735.3 717.1C736.4 718.4 739 706.5 740 706.3C741 706.1 742.1 714.1 743.3 715.8C744.5 717.5 748.1 715.3 749.4 719.8C750.7 724.3 752.1 749.8 753.4 752C754.7 754.2 758.1 741.7 759.5 737.3C760.9 732.9 763.6 721.6 764.8 717.1C766 712.6 767.4 702.9 768.9 701C770.4 699.1 775.4 703 776.9 701.6C778.4 700.2 780 690.6 781 690.2C782 689.8 783.8 699.8 785 698.3C786.2 696.8 789.2 677.8 790.4 678.1C791.6 678.4 793.6 696.5 794.4 701C795.2 705.5 796.1 711.9 797.1 714.4C798.1 716.9 801.2 721.8 802.5 721.1C803.8 720.4 806.5 712 807.8 709C809.1 706 811.7 699.1 813.2 696.9C814.7 694.7 818.4 690.4 819.9 691.6C821.4 692.8 823.4 705.1 825.3 706.3C827.1 707.5 833 704 834.7 701C836.4 698 837 685 838.8 682.2C840.6 679.4 846.8 680.4 848.8 678.4C850.8 676.4 853.5 668.3 855 666C856.5 663.7 859.6 661 861 660.2C862.4 659.4 864.8 658.2 866.1 659.8C867.4 661.3 870.1 672.7 871.5 672.6C872.9 672.5 875.7 660.5 876.9 659.1C878.1 657.8 879.8 663.5 880.9 661.8C882 660.1 884.6 646.7 885.6 645.7C886.6 644.7 888.1 650.1 889 653.8C889.9 657.5 892 674.6 893 675.3C894 676 895.8 660.9 897 659.1C898.2 657.3 901 662 902.4 661.2C903.8 660.4 906.4 650.6 907.8 652.4C909.1 654.2 911.9 675.1 913.2 675.3C914.5 675.5 917.2 658 918.5 653.8C919.8 649.6 922.3 642 923.9 641.7C925.5 641.4 929.5 652 931.3 651.1C933.1 650.2 936.6 633.9 938 634.9C939.4 635.9 941.4 653.9 942.7 659.1C944 664.3 946.9 671.6 948.1 676.6C949.3 681.6 951 695.1 952.2 699.5C953.4 703.9 956.3 710.6 957.5 711.6C958.7 712.6 960.4 706.8 961.6 707.5C962.8 708.2 965.6 715.9 966.9 716.9C968.2 717.9 970.8 714.2 972.3 715.6C973.8 717 977.3 724.2 979 727.7C980.7 731.2 984.1 740.4 985.8 743.8C987.5 747.2 991.2 751.4 992.5 754.6C993.8 757.8 994.9 765.7 996.5 769.4C998.1 773.1 1003.4 786 1005.2 784.1C1007.1 782.2 1009.9 759 1011.3 754.6C1012.7 750.2 1015.4 751.4 1016.7 749.2C1018 747 1020.8 737.6 1022 737.1C1023.2 736.6 1025.1 741.5 1026.1 745.2C1027.1 748.9 1028.6 766 1030.1 766.7C1031.6 767.4 1036.3 753.2 1038.2 750.5C1040.1 747.8 1043.8 744.9 1045.5 745C1047.2 745.1 1050.7 751.2 1052.1 751.5C1053.5 751.8 1055.7 746.9 1056.8 747.4C1057.9 747.9 1059.7 756.7 1060.8 755.5C1061.9 754.3 1064.3 742.7 1065.5 738C1066.7 733.3 1068.7 721.3 1070.2 717.8C1071.7 714.3 1076 711.6 1077.6 709.8C1079.2 708 1081.9 706.1 1083 703.1C1084.1 700.1 1085.2 688.3 1086.4 685.6C1087.6 682.9 1091.1 684.3 1092.4 681.6C1093.7 678.9 1095.3 667.1 1096.5 664.1C1097.7 661.1 1100.7 660.8 1101.8 657.4C1102.9 654 1104.4 642.4 1105.2 637.2C1106 632 1107.5 619.2 1108.5 615.7C1109.5 612.2 1112.1 610 1113.3 609C1114.5 608 1117 608.8 1118 607.6C1119 606.4 1120.5 597.9 1121.3 599.6C1122.1 601.3 1123.9 616.1 1124.7 621.1C1125.5 626.1 1127 638.7 1128 639.9C1129 641.1 1131.4 629.5 1132.7 630.5C1134 631.5 1136.8 645.5 1138.1 648C1139.4 650.5 1142.2 648.2 1143.5 650.6C1144.8 653 1147.7 664.3 1148.9 666.8C1150.1 669.3 1151.9 671.3 1152.9 670.8C1153.9 670.3 1156.1 662.7 1156.9 662.7C1157.7 662.7 1158.7 671.3 1159.6 670.8C1160.5 670.3 1163.1 660.2 1164.3 658.7C1165.5 657.2 1167.9 659.7 1169 658.7C1170.1 657.7 1171.8 649.9 1173.1 650.6C1174.4 651.3 1178.3 660.9 1179.8 664.1C1181.3 667.3 1183.9 673.7 1185.2 676.2C1186.5 678.7 1188.7 684.4 1189.9 684.2C1191.1 684 1193.4 675.3 1194.6 674.8C1195.8 674.3 1198.2 681.7 1199.3 680.2C1200.4 678.7 1202.3 665.7 1203.3 662.7C1204.3 659.7 1206.2 655.5 1207.3 656C1208.4 656.5 1210.6 664.8 1212 666.8C1213.4 668.8 1217.1 672.7 1218.8 672.2C1220.5 671.7 1224 666.7 1225.5 662.7C1227 658.7 1229.8 642 1231 640.5C1232.2 639 1233.8 646.3 1234.7 650.6C1235.6 654.9 1237.2 669.8 1238.1 674.8C1239 679.8 1240.6 688.6 1242.1 691C1243.6 693.4 1248.4 692.4 1250.2 693.7C1252 695 1254.7 701.9 1256.2 701.7C1257.7 701.5 1260.9 692.6 1262.3 692.3C1263.7 692 1265.7 699.7 1267.6 699C1269.5 698.3 1275.9 687.6 1277.7 686.9C1279.5 686.2 1280.7 691 1281.7 693.7C1282.7 696.4 1284.7 708.4 1285.8 708.4C1286.9 708.4 1289.4 695 1290.5 693.7C1291.6 692.4 1293.3 699.7 1294.5 697.7C1295.7 695.7 1298.6 678.9 1299.9 677.5C1301.2 676.1 1303.3 688.2 1304.6 686.9C1305.9 685.6 1308.8 669.1 1310.6 666.8C1312.4 664.4 1317 665.4 1318.7 668.1C1320.4 670.8 1322.4 685.6 1324.1 688.3C1325.8 691 1330.3 690.1 1332.2 689.6C1334.1 689.1 1337.2 685.2 1338.9 684.2C1340.6 683.2 1344 682.9 1345.6 681.6C1347.2 680.3 1350.1 673.3 1351.6 673.5C1353.1 673.7 1356.1 684.1 1357.7 682.9C1359.3 681.7 1363.1 665.1 1364.4 664.1C1365.7 663.1 1367.3 669.6 1368.4 674.8C1369.5 680 1371.8 703.8 1373.1 705.8C1374.4 707.8 1377.5 690.3 1379.2 691C1380.9 691.7 1384.8 712 1386.6 711.1C1388.4 710.2 1392.4 691.8 1394 684.2C1395.6 676.6 1398.1 657.5 1399.4 650.6C1400.7 643.7 1403.2 631.5 1404.7 629.1C1406.2 626.8 1409.9 631.6 1411.5 631.8C1413.1 632 1416.2 629.8 1417.5 630.5C1418.8 631.2 1421.7 636.4 1422.3 637.2"/>
</g>
<g fill="none" stroke="#f00" stroke-width="3.3" stroke-linejoin="miter">
<path d="M421.4 394.9L439.3 425.8L403.6 425.8Z"/>
<path d="M606.7 562.5L624.5 593.4L588.9 593.4Z"/>
<path d="M792 663.8L809.8 694.7L774.2 694.7Z"/>
<path d="M977.3 706.5L995.1 737.4L959.5 737.4Z"/>
<path d="M1162.6 643.5L1180.4 674.4L1144.7 674.4Z"/>
<path d="M1347.9 661.5L1365.7 692.4L1330 692.4Z"/>
</g>
<g class="r" font-size="25" text-anchor="middle">
<text transform="translate(421.9 321.5) scale(1 1.045)">27.2</text>
<text transform="translate(607.2 489.1) scale(1 1.045)">12.3</text>
<text transform="translate(792.5 590.4) scale(1 1.045)">3.3</text>
<text transform="translate(977.8 633.1) scale(1 1.045)">-0.5</text>
<text transform="translate(1163.1 570.1) scale(1 1.045)">5.1</text>
<text transform="translate(1348.4 588.1) scale(1 1.045)">3.5</text>
</g>
<text class="b" transform="translate(199.5 183) scale(1 1.045)" font-size="30" fill="#6b8e23">UTC link</text>
<text class="b" transform="translate(199.5 809) scale(1 1.045)" font-size="30" textLength="1079" lengthAdjust="spacingAndGlyphs" xml:space="preserve">GPS.GPI/Tai2602__ZM01-PT13/055-005#_  9555/1_AV/L2U__CLB__________</text>
<text class="b" transform="translate(76 485.5) rotate(-90) scale(1 1.045)" font-size="30" text-anchor="middle">nanosecond</text>
<g stroke="#000" fill="none" shape-rendering="crispEdges">
<rect x="162.5" y="125.5" width="1260" height="720" stroke-width="1"/>
<path d="M162 844V852M162 126V118M199 844V852M199 126V118M236 844V852M236 126V118M273 844V859M273 126V111M310 844V852M310 126V118M347 844V852M347 126V118M384 844V852M384 126V118M421 844V852M421 126V118M458 844V859M458 126V111M496 844V852M496 126V118M533 844V852M533 126V118M570 844V852M570 126V118M607 844V852M607 126V118M644 844V859M644 126V111M681 844V852M681 126V118M718 844V852M718 126V118M755 844V852M755 126V118M792 844V852M792 126V118M829 844V859M829 126V111M866 844V852M866 126V118M903 844V852M903 126V118M940 844V852M940 126V118M977 844V852M977 126V118M1014 844V859M1014 126V111M1051 844V852M1051 126V118M1088 844V852M1088 126V118M1126 844V852M1126 126V118M1163 844V852M1163 126V118M1200 844V859M1200 126V111M1237 844V852M1237 126V118M1274 844V852M1274 126V118M1311 844V852M1311 126V118M1348 844V852M1348 126V118M1385 844V859M1385 126V111M1422 844V852M1422 126V118M163 159H148M1421 159H1436M163 271H148M1421 271H1436M163 384H148M1421 384H1436M163 496H148M1421 496H1436M163 609H148M1421 609H1436M163 721H148M1421 721H1436M163 834H148M1421 834H1436" stroke-width="2"/>
</g>
<g font-size="30" text-anchor="middle">
<text transform="translate(273.7 892) scale(1 1.045)">61070</text>
<text transform="translate(459 892) scale(1 1.045)">61075</text>
<text transform="translate(644.3 892) scale(1 1.045)">61080</text>
<text transform="translate(829.6 892) scale(1 1.045)">61085</text>
<text transform="translate(1014.9 892) scale(1 1.045)">61090</text>
<text transform="translate(1200.1 892) scale(1 1.045)">61095</text>
<text transform="translate(1385.4 892) scale(1 1.045)">61100</text>
</g>
<g font-size="30" text-anchor="end">
<text transform="translate(137.3 170.5) scale(1 1.045)">50</text>
<text transform="translate(137.3 283) scale(1 1.045)">40</text>
<text transform="translate(137.3 395.5) scale(1 1.045)">30</text>
<text transform="translate(137.3 508) scale(1 1.045)">20</text>
<text transform="translate(137.3 620.5) scale(1 1.045)">10</text>
<text transform="translate(137.3 733) scale(1 1.045)">0</text>
<text transform="translate(137.3 845.5) scale(1 1.045)"><tspan dy="2.8">−</tspan><tspan dy="-2.8">10</tspan></text>
</g>
<text class="b" transform="translate(792.5 922) scale(1 1.045)" font-size="30" text-anchor="middle">Modified Julian Date</text>
<g clip-path="url(#c2)">
<polyline fill="none" stroke="none" marker-start="url(#x)" marker-mid="url(#x)" marker-end="url(#x)" points="162,1182 163,1230 163,1248 163,1256 163,1195 163,1178 163,1172 163,1226 164,1184 164,1168 164,1176 164,1192 164,1228 164,1159 164,1175 164,1262 165,1262 165,1241 165,1265 165,1187 165,1265 165,1122 165,1157 165,1225 166,1162 166,1158 166,1201 166,1184 166,1114 166,1190 166,1186 166,1227 167,1201 167,1232 167,1172 167,1197 167,1165 167,1118 167,1184 168,1144 168,1090 168,1169 168,1142 168,1115 168,1147 168,1152 168,1141 169,1191 169,1143 169,1126 169,1109 169,1142 169,1160 169,1178 169,1120 170,1169 170,1212 170,1156 170,1188 170,1115 170,1135 170,1139 170,1156 171,1161 171,1139 171,1162 171,1158 171,1170 171,1212 171,1167 172,1177 172,1129 172,1158 172,1140 172,1245 172,1205 172,1175 172,1177 173,1220 173,1190 173,1193 173,1132 173,1116 173,1202 173,1176 173,1159 174,1203 174,1221 174,1221 174,1101 174,1121 174,1168 174,1170 174,1216 175,1179 175,1169 175,1195 175,1134 175,1175 175,1168 175,1161 175,1172 176,1093 176,1146 176,1102 176,1127 176,1157 176,1124 176,1151 177,1115 177,1131 177,1141 177,1209 177,1221 177,1197 177,1144 177,1178 178,1123 178,1197 178,1157 178,1145 178,1121 178,1121 178,1180 178,1226 179,1117 179,1179 179,1157 179,1086 179,1186 179,1217 179,1201 179,1173 180,1195 180,1183 180,1128 180,1178 180,1122 180,1155 180,1179 181,1166 181,1243 181,1120 181,1161 181,1240 181,1170 181,1154 181,1178 182,1159 182,1142 182,1163 182,1132 182,1187 182,1249 182,1171 182,1127 183,1123 183,1175 183,1131 183,1170 183,1233 183,1221 183,1171 183,1188 184,1124 184,1190 184,1171 184,1238 184,1159 184,1186 184,1190 185,1132 185,1105 185,1180 185,1141 185,1233 185,1195 185,1192 185,1173 186,1193 186,1183 186,1158 186,1203 186,1199 186,1209 186,1197 186,1204 187,1127 187,1195 187,1148 187,1117 187,1137 187,1170 187,1143 187,1169 188,1169 188,1135 188,1178 188,1204 188,1175 188,1144 188,1243 188,1190 189,1169 189,1144 189,1109 189,1197 189,1177 189,1152 189,1168 190,1149 190,1186 190,1156 190,1169 190,1175 190,1182 190,1176 190,1125 191,1189 191,1145 191,1153 191,1170 191,1210 191,1145 191,1101 191,1134 192,1126 192,1138 192,1151 192,1133 192,1180 192,1163 192,1110 192,1206 193,1185 193,1117 193,1205 193,1118 193,1127 193,1151 193,1082 194,1194 194,1213 194,1243 194,1136 194,1212 194,1174 194,1134 194,1220 195,1166 195,1177 195,1192 195,1107 195,1242 195,1103 195,1157 195,1198 196,1166 196,1127 196,1213 196,1147 196,1191 196,1180 196,1166 196,1158 197,1210 197,1165 197,1207 197,1153 197,1114 197,1122 197,1128 198,1177 198,1156 198,1171 198,1103 198,1104 198,1165 198,1151 198,1121 199,1134 199,1068 199,1204 199,1140 199,1142 199,1174 199,1212 199,1178 200,1189 200,1187 200,1234 200,1222 200,1220 200,1172 200,1145 200,1164 201,1181 201,1204 201,1220 201,1185 201,1151 201,1106 201,1220 201,1235 202,1210 202,1159 202,1159 202,1211 202,1204 202,1224 202,1178 203,1251 203,1188 203,1170 203,1203 203,1214 203,1183 203,1152 203,1128 204,1190 204,1185 204,1204 204,1188 204,1235 204,1160 204,1156 204,1135 205,1119 205,1177 205,1149 205,1063 205,1168 205,1205 205,1169 205,1133 206,1133 206,1195 206,1228 206,1150 206,1170 206,1118 206,1169 207,1139 207,1184 207,1153 207,1116 207,1331 207,1163 207,1158 207,1187 208,1185 208,1163 208,1135 208,1220 208,1160 208,1131 208,1145 208,1140 209,1202 209,1139 209,1194 209,1106 209,1164 209,1130 209,1108 209,1199 210,1181 210,1149 210,1112 210,1162 210,1154 210,1164 210,1237 210,1143 211,1180 211,1135 211,1203 211,1142 211,1171 211,1122 211,1166 212,1104 212,1141 212,1141 212,1096 212,1141 212,1111 212,1187 212,1193 213,1179 213,1145 213,1148 213,1275 213,1176 213,1159 213,1192 213,1192 214,1174 214,1135 214,1191 214,1175 214,1127 214,1194 214,1202 214,1202 215,1241 215,1191 215,1205 215,1169 215,1179 215,1177 215,1183 216,1177 216,1123 216,1227 216,1151 216,1127 216,1105 216,1139 216,1159 217,1161 217,1144 217,1189 217,1192 217,1160 217,1176 217,1202 217,1221 218,1209 218,1177 218,1140 218,1224 218,1214 218,1215 218,1176 218,1174 219,1160 219,1178 219,1135 219,1206 219,1262 219,1206 219,1153 220,1107 220,1202 220,1189 220,1159 220,1172 220,1157 220,1144 220,1223 221,1150 221,1163 221,1187 221,1120 221,1160 221,1169 221,1195 221,1193 222,1185 222,1266 222,1199 222,1203 222,1199 222,1219 222,1199 222,1230 223,1185 223,1185 223,1201 223,1238 223,1166 223,1201 223,1180 223,1159 224,1236 224,1218 224,1215 224,1230 224,1261 224,1125 224,1156 225,1161 225,1200 225,1166 225,1167 225,1152 225,1186 225,1087 225,1189 226,1187 226,1195 226,1110 226,1195 226,1236 226,1192 226,1198 226,1115 227,1184 227,1164 227,1196 227,1115 227,1112 227,1102 227,1094 227,1075 228,1095 228,1105 228,1079 228,1060 228,1265 228,1241 228,1280 229,1239 229,1271 229,1250 229,1106 229,1142 229,1129 229,1187 229,1190 230,1170 230,1193 230,1160 230,1138 230,1172 230,1222 230,1137 230,1183 231,1217 231,1172 231,1123 231,1158 231,1120 231,1214 231,1213 231,1196 232,1140 232,1114 232,1164 232,1117 232,1114 232,1156 232,1172 233,1185 233,1186 233,1226 233,1196 233,1186 233,1164 233,1278 233,1160 234,1108 234,1240 234,1228 234,1202 234,1183 234,1182 234,1128 234,1215 235,1205 235,1155 235,1122 235,1163 235,1138 235,1125 235,1173 235,1231 236,1173 236,1212 236,1214 236,1123 236,1134 236,1137 236,1129 236,1115 237,1239 237,1188 237,1183 237,1161 237,1177 237,1117 237,1181 238,1150 238,1136 238,1210 238,1168 238,1152 238,1198 238,1071 238,1217 239,1163 239,1157 239,1177 239,1158 239,1208 239,1155 239,1089 239,1177 240,1102 240,1194 240,1234 240,1202 240,1166 240,1105 240,1191 240,1150 241,1186 241,1191 241,1254 241,1173 241,1125 241,1140 241,1144 242,1216 242,1154 242,1174 242,1194 242,1154 242,1107 242,1184 242,1232 243,1182 243,1202 243,1259 243,1225 243,1177 243,1182 243,1131 243,1163 244,1159 244,1243 244,1175 244,1114 244,1213 244,1208 244,1115 244,1164 245,1151 245,1025 245,1125 245,1166 245,1106 245,1184 245,1195 245,1135 246,1168 246,1205 246,1210 246,1227 246,1181 246,1200 246,1187 247,1203 247,1240 247,1212 247,1186 247,1148 247,1219 247,1152 247,1138 248,1106 248,1113 248,1108 248,1098 248,1093 248,1133 248,1088 248,1092 249,1094 249,1077 249,1090 249,1089 249,1158 249,1216 249,1256 249,1135 250,1196 250,1144 250,1104 250,1156 250,1155 250,1206 250,1147 251,1144 251,1106 251,1186 251,1141 251,1168 251,1175 251,1122 251,1142 252,1151 252,1202 252,1197 252,1160 252,1229 252,1178 252,1157 252,1143 253,1208 253,1210 253,1096 253,1135 253,1114 253,1184 253,1146 253,1212 254,1221 254,1195 254,1157 254,1194 254,1256 254,1275 254,1221 255,1274 255,1093 255,1071 255,1094 255,1085 255,1066 255,1084 255,1149 256,1188 256,1175 256,1093 256,1154 256,1128 256,1155 256,1130 256,1175 257,1246 257,1187 257,1188 257,1210 257,1174 257,1154 257,1185 257,1198 258,1162 258,1221 258,1171 258,1210 258,1172 258,1164 258,1160 258,1158 259,1165 259,1164 259,1126 259,1222 259,1172 259,1169 259,1215 260,1208 260,1220 260,1260 260,1163 260,1202 260,1168 260,1126 260,1154 261,1240 261,1253 261,1182 261,1172 261,1104 261,1125 261,1157 261,1088 262,1131 262,1195 262,1115 262,1176 262,1183 262,1156 262,1246 262,1179 263,1185 263,1132 263,1136 263,1094 263,1193 263,1188 263,1156 264,1186 264,1255 264,1198 264,1152 264,1196 264,1232 264,1186 264,1199 265,1113 265,1154 265,1212 265,1224 265,1207 265,1165 265,1216 265,1181 266,1174 266,1200 266,1228 266,1154 266,1091 266,1201 266,1185 266,1198 267,1227 267,1189 267,1190 267,1147 267,1139 267,1204 267,1151 268,1159 268,1164 268,1112 268,1194 268,1199 268,1104 268,1163 268,1156 269,1208 269,1257 269,1196 269,1150 269,1152 269,1191 269,1111 269,1230 270,1153 270,1130 270,1077 270,1138 270,1203 270,1147 270,1158 270,1146 271,1112 271,1173 271,1143 271,1187 271,1118 271,1202 271,1147 271,1193 272,1184 272,1119 272,1182 272,1182 272,1208 272,1201 272,1226 273,1177 273,1147 273,1175 273,1233 273,1175 273,1139 273,1093 273,1096 274,1102 274,1190 274,1189 274,1173 274,1212 274,1176 274,1212 274,1174 275,1144 275,1153 275,1159 275,1162 275,1149 275,1161 275,1216 275,1223 276,1176 276,1072 276,1181 276,1160 276,1212 276,1153 276,1101 277,1125 277,1131 277,1179 277,1201 277,1225 277,1139 277,1083 277,1180 278,1176 278,1192 278,1146 278,1197 278,1168 278,1166 278,1121 278,1184 279,1151 279,1178 279,1190 279,1163 279,1066 279,1152 279,1222 279,1269 280,1107 280,1176 280,1114 280,1205 280,1167 280,1200 280,1074 280,1188 281,1180 281,1161 281,1114 281,1113 281,1176 281,1200 281,1208 282,1109 282,1069 282,1115 282,1145 282,1137 282,1146 282,1182 282,1171 283,1172 283,1169 283,1155 283,1170 283,1118 283,1191 283,1133 283,1161 284,1122 284,1123 284,1202 284,1179 284,1150 284,1127 284,1167 284,1184 285,1124 285,1209 285,1124 285,1157 285,1120 285,1143 285,1192 286,1172 286,1138 286,1177 286,1120 286,1193 286,1116 286,1159 286,1103 287,1170 287,1162 287,1204 287,1250 287,1187 287,1183 287,1198 287,1144 288,1137 288,1138 288,1206 288,1260 288,1184 288,1199 288,1169 288,1205 289,1169 289,1172 289,1175 289,1220 289,1148 289,1253 289,1209 290,1178 290,1177 290,1145 290,1247 290,1189 290,1179 290,1150 290,1219 291,1210 291,1211 291,1181 291,1189 291,1201 291,1180 291,1177 291,1176 292,1176 292,1178 292,1157 292,1201 292,1249 292,1214 292,1202 292,1267 293,1191 293,1161 293,1185 293,1143 293,1251 293,1203 293,1203 293,1204 294,1096 294,1100 294,1105 294,1089 294,1140 294,1152 294,1159 295,1165 295,1095 295,1176 295,1114 295,1150 295,1168 295,1202 295,1162 296,1177 296,1201 296,1159 296,1200 296,1203 296,1258 296,1117 296,1171 297,1122 297,1170 297,1229 297,1170 297,1177 297,1135 297,1193 297,1206 298,1217 298,1018 298,1198 298,1193 298,1160 298,1223 298,1122 299,1183 299,1140 299,1170 299,1185 299,1169 299,1195 299,1194 299,1203 300,1160 300,1192 300,1141 300,1274 300,1129 300,1143 300,1186 300,1212 301,1133 301,1187 301,1097 301,1145 301,1215 301,1102 301,1154 301,1141 302,1200 302,1221 302,1162 302,1163 302,1152 302,1109 302,1136 303,1091 303,1193 303,1152 303,1179 303,1131 303,1153 303,1149 303,1187 304,1138 304,1173 304,1180 304,1133 304,1206 304,1194 304,1227 304,1203 305,1140 305,1175 305,1147 305,1188 305,1168 305,1245 305,1147 305,1145 306,1140 306,1167 306,1191 306,1219 306,1207 306,1257 306,1177 306,1258 307,1155 307,1181 307,1115 307,1173 307,1114 307,1150 307,1167 308,1162 308,1153 308,1190 308,1174 308,1198 308,1207 308,1154 308,1198 309,1200 309,1173 309,1119 309,1184 309,1123 309,1235 309,1192 309,1198 310,1160 310,1083 310,1125 310,1181 310,1119 310,1170 310,1206 310,1135 311,1117 311,1167 311,1202 311,1189 311,1175 311,1145 311,1210 312,1063 312,1222 312,1231 312,1219 312,1202 312,1186 312,1168 312,1157 313,1167 313,1191 313,1137 313,1164 313,1196 313,1163 313,1152 313,1217 314,1107 314,1149 314,1226 314,1192 314,1133 314,1146 314,1206 314,1171 315,1147 315,1175 315,1166 315,1166 315,1116 315,1222 315,1184 315,1166 316,1205 316,1139 316,1191 316,1261 316,1197 316,1177 316,1163 317,1151 317,1196 317,1146 317,1128 317,1177 317,1105 317,1126 317,1156 318,1170 318,1197 318,1104 318,1185 318,1096 318,1147 318,1254 318,1172 319,1195 319,1175 319,1171 319,1160 319,1221 319,1218 319,1167 319,1086 320,1091 320,1101 320,1097 320,1115 320,1164 320,1144 320,1173 321,1089 321,1125 321,1141 321,1129 321,1148 321,1187 321,1256 321,1141 322,1082 322,1169 322,1125 322,1162 322,1222 322,1142 322,1135 322,1160 323,1220 323,1166 323,1182 323,1174 323,1187 323,1162 323,1165 323,1149 324,1201 324,1133 324,1159 324,1161 324,1199 324,1153 324,1122 325,1121 325,1149 325,1132 325,1202 325,1183 325,1145 325,1187 325,1204 326,1165 326,1136 326,1165 326,1128 326,1097 326,1115 326,1185 326,1160 327,1196 327,1093 327,1218 327,1184 327,1169 327,1175 327,1242 327,1193 328,1221 328,1180 328,1287 328,1234 328,1208 328,1152 328,1222 328,1205 329,1105 329,1247 329,1176 329,1228 329,1171 329,1097 329,1125 330,1108 330,1233 330,1148 330,1119 330,1158 330,1138 330,1149 330,1121 331,1214 331,1176 331,1201 331,1131 331,1205 331,1158 331,1121 331,1184 332,1160 332,1140 332,1167 332,1156 332,1136 332,1199 332,1115 332,1110 333,1112 333,1127 333,1125 333,1241 333,1216 333,1219 333,1170 334,1109 334,1164 334,1109 334,1164 334,1120 334,1139 334,1132 334,1189 335,1193 335,1168 335,1203 335,1212 335,1138 335,1176 335,1210 335,1179 336,1145 336,1153 336,1180 336,1198 336,1153 336,1229 336,1204 336,1185 337,1239 337,1201 337,1202 337,1101 337,1084 337,1244 337,1128 337,1176 338,1155 338,1157 338,1244 338,1152 338,1167 338,1227 338,1212 339,1211 339,1142 339,1251 339,1193 339,1147 339,1228 339,1168 339,1206 340,1217 340,1102 340,1108 340,1197 340,1193 340,1145 340,1199 340,1254 341,1156 341,1212 341,1164 341,1187 341,1127 341,1202 341,1217 341,1170 342,1225 342,1158 342,1198 342,1197 342,1202 342,1177 342,1201 343,1237 343,1194 343,1177 343,1208 343,1121 343,1142 343,1102 343,1099 344,1212 344,1127 344,1161 344,1210 344,1190 344,1251 344,1199 344,1182 345,1161 345,1182 345,1205 345,1247 345,1172 345,1236 345,1162 345,1219 346,1149 346,1174 346,1134 346,1190 346,1216 346,1204 346,1165 347,1200 347,1096 347,1161 347,1135 347,1091 347,1119 347,1133 347,1196 348,1196 348,1143 348,1137 348,1135 348,1138 348,1181 348,1172 348,1216 349,1173 349,1208 349,1218 349,1181 349,1073 349,1167 349,1194 349,1200 350,1251 350,1197 350,1141 350,1200 350,1130 350,1148 350,1220 350,1220 351,1187 351,1212 351,1121 351,1149 351,1152 351,1190 351,1134 352,1138 352,1137 352,1138 352,1075 352,1073 352,1156 352,1101 352,1124 353,1089 353,1195 353,1249 353,1242 353,1222 353,1259 353,1131 353,1150 354,1166 354,1239 354,1095 354,1173 354,1146 354,1166 354,1155 354,1224 355,1135 355,1172 355,1144 355,1211 355,1179 355,1164 355,1170 356,1145 356,1065 356,1152 356,1156 356,1139 356,1133 356,1140 356,1179 357,1139 357,1188 357,1219 357,1137 357,1191 357,1177 357,1164 357,1150 358,1203 358,1215 358,1201 358,1238 358,1227 358,1169 358,1244 358,1181 359,1153 359,1180 359,1083 359,1149 359,1211 359,1153 359,1214 360,1147 360,1232 360,1188 360,1177 360,1222 360,1221 360,1161 360,1177 361,1217 361,1157 361,1193 361,1229 361,1202 361,1136 361,1250 361,1271 362,1222 362,1199 362,1183 362,1178 362,1219 362,1134 362,1214 362,1169 363,1185 363,1104 363,1132 363,1174 363,1131 363,1180 363,1249 363,1156 364,1239 364,1160 364,1238 364,1154 364,1197 364,1180 364,1181 365,1110 365,1082 365,1180 365,1224 365,1170 365,1124 365,1181 365,1146 366,1123 366,1166 366,1129 366,1132 366,1190 366,1161 366,1193 366,1163 367,1141 367,1136 367,1097 367,1064 367,1096 367,1231 367,1165 367,1173 368,1087 368,1185 368,1159 368,1106 368,1165 368,1165 368,1206 369,1121 369,1193 369,1217 369,1146 369,1174 369,1167 369,1210 369,1151 370,1199 370,1139 370,1176 370,1178 370,1168 370,1284 370,1131 370,1141 371,1197 371,1169 371,1207 371,1253 371,1123 371,1242 371,1217 371,1172 372,1204 372,1172 372,1134 372,1250 372,1186 372,1255 372,1256 372,1133 373,1156 373,1172 373,1188 373,1207 373,1159 373,1188 373,1207 374,1211 374,1174 374,1196 374,1176 374,1101 374,1167 374,1158 374,1145 375,1153 375,1161 375,1242 375,1179 375,1230 375,1202 375,1153 375,1097 376,1145 376,1138 376,1088 376,1228 376,1230 376,1147 376,1124 376,1122 377,1209 377,1159 377,1116 377,1163 377,1113 377,1132 377,1160 378,1207 378,1118 378,1188 378,1152 378,1150 378,1201 378,1163 378,1185 379,1128 379,1104 379,1172 379,1175 379,1194 379,1188 379,1200 379,1200 380,1203 380,1176 380,1100 380,1121 380,1117 380,1185 380,1192 380,1120 381,1164 381,1128 381,1153 381,1218 381,1119 381,1152 381,1189 382,1142 382,1172 382,1189 382,1168 382,1156 382,1185 382,1219 382,1226 383,1212 383,1169 383,1202 383,1212 383,1186 383,1232 383,1225 383,1219 384,1182 384,1135 384,1187 384,1251 384,1130 384,1232 384,1210 384,1167 385,1167 385,1270 385,1190 385,1200 385,1185 385,1230 385,1130 385,1158 386,1154 386,1178 386,1228 386,1173 386,1126 386,1198 386,1191 387,1178 387,1097 387,1143 387,1189 387,1133 387,1230 387,1132 387,1197 388,1177 388,1195 388,1118 388,1180 388,1188 388,1128 388,1214 388,1146 389,1085 389,1224 389,1195 389,1236 389,1233 389,1225 389,1172 389,1171 390,1158 390,1278 390,1225 390,1155 390,1228 390,1200 390,1130 391,1181 391,1202 391,1153 391,1163 391,1219 391,1110 391,1111 391,1137 392,1117 392,1102 392,1100 392,1084 392,1104 392,1117 392,1102 392,1105 393,1102 393,1222 393,1205 393,1144 393,1209 393,1219 393,1199 393,1117 394,1140 394,1170 394,1211 394,1182 394,1178 394,1189 394,1118 395,1176 395,1139 395,1130 395,1214 395,1100 395,1175 395,1198 395,1177 396,1162 396,1178 396,1151 396,1171 396,1244 396,1200 396,1141 396,1169 397,1099 397,1148 397,1199 397,1140 397,1166 397,1172 397,1118 397,1116 398,1157 398,1139 398,1157 398,1214 398,1197 398,1099 398,1183 398,1201 399,1231 399,1215 399,1199 399,1149 399,1174 399,1098 399,1198 400,1160 400,1173 400,1170 400,1201 400,1179 400,1154 400,1206 400,1232 401,1175 401,1178 401,1173 401,1179 401,1084 401,1144 401,1163 401,1185 402,1243 402,1164 402,1173 402,1074 402,1187 402,1128 402,1226 402,1118 403,1184 403,1105 403,1170 403,1167 403,1183 403,1135 403,1133 404,1144 404,1158 404,1179 404,1166 404,1151 404,1113 404,1174 404,1187 405,1117 405,1183 405,1213 405,1166 405,1141 405,1145 405,1191 405,1241 406,1126 406,1105 406,1167 406,1180 406,1154 406,1160 406,1152 406,1196 407,1187 407,1197 407,1158 407,1188 407,1211 407,1135 407,1164 407,1144 408,1215 408,1154 408,1166 408,1162 408,1179 408,1134 408,1154 409,1102 409,1199 409,1205 409,1205 409,1123 409,1125 409,1140 409,1143 410,1142 410,1144 410,1145 410,1120 410,1177 410,1192 410,1074 410,1241 411,1222 411,1256 411,1274 411,1208 411,1121 411,1148 411,1111 411,1136 412,1178 412,1180 412,1153 412,1200 412,1126 412,1151 412,1131 413,1187 413,1174 413,1176 413,1152 413,1080 413,1165 413,1229 413,1202 414,1132 414,1186 414,1193 414,1225 414,1221 414,1216 414,1130 414,1269 415,1168 415,1151 415,1126 415,1236 415,1211 415,1188 415,1150 415,1107 416,1151 416,1134 416,1086 416,1146 416,1133 416,1083 416,1182 417,1186 417,1143 417,1215 417,1172 417,1182 417,1138 417,1144 417,1199 418,1139 418,1200 418,1187 418,1219 418,1218 418,1166 418,1187 418,1187 419,1190 419,1267 419,1200 419,1148 419,1224 419,1247 419,1234 419,1228 420,1178 420,1179 420,1277 420,1223 420,1183 420,1195 420,1135 420,1125 421,1138 421,1166 421,1179 421,1167 421,1176 421,1133 421,1253 422,1192 422,1208 422,1214 422,1158 422,1131 422,1182 422,1209 422,1199 423,1179 423,1155 423,1193 423,1175 423,1152 423,1235 423,1196 423,1154 424,1210 424,1168 424,1146 424,1171 424,1191 424,1174 424,1103 424,1183 425,1151 425,1130 425,1185 425,1187 425,1190 425,1192 425,1169 426,1174 426,1127 426,1232 426,1190 426,1199 426,1159 426,1215 426,1173 427,1156 427,1161 427,1212 427,1201 427,1238 427,1262 427,1158 427,1220 428,1201 428,1169 428,1170 428,1282 428,1185 428,1205 428,1123 428,1168 429,1127 429,1087 429,1177 429,1213 429,1089 429,1140 429,1182 430,1149 430,1130 430,1167 430,1121 430,1152 430,1187 430,1216 430,1227 431,1148 431,1168 431,1150 431,1172 431,1147 431,1169 431,1101 431,1062 432,1208 432,1178 432,1164 432,1070 432,1226 432,1155 432,1208 432,1197 433,1068 433,1132 433,1177 433,1155 433,1118 433,1187 433,1214 433,1197 434,1152 434,1167 434,1148 434,1126 434,1155 434,1193 434,1191 435,1226 435,1210 435,1229 435,1138 435,1105 435,1174 435,1130 435,1157 436,1140 436,1147 436,1186 436,1150 436,1139 436,1133 436,1160 436,1125 437,1157 437,1158 437,1139 437,1208 437,1130 437,1200 437,1242 437,1178 438,1118 438,1138 438,1087 438,1216 438,1193 438,1172 438,1198 439,1220 439,1121 439,1207 439,1184 439,1170 439,1186 439,1122 439,1149 440,1129 440,1142 440,1119 440,1222 440,1195 440,1147 440,1211 440,1179 441,1137 441,1189 441,1186 441,1180 441,1130 441,1138 441,1193 441,1186 442,1197 442,1174 442,1111 442,1175 442,1163 442,1247 442,1165 442,1161 443,1227 443,1151 443,1208 443,1131 443,1211 443,1178 443,1286 444,1222 444,1194 444,1145 444,1147 444,1160 444,1200 444,1076 444,1092 445,1064 445,1073 445,1078 445,1092 445,1077 445,1177 445,1149 445,1131 446,1160 446,1181 446,1209 446,1134 446,1200 446,1143 446,1148 446,1183 447,1113 447,1185 447,1164 447,1111 447,1099 447,1125 447,1165 448,1270 448,1165 448,1226 448,1200 448,1132 448,1133 448,1159 448,1178 449,1215 449,1153 449,1157 449,1225 449,1196 449,1190 449,1155 449,1232 450,1210 450,1141 450,1219 450,1186 450,1181 450,1209 450,1205 450,1219 451,1145 451,1221 451,1120 451,1146 451,1170 451,1172 451,1091 452,1152 452,1201 452,1185 452,1134 452,1209 452,1196 452,1155 452,1151 453,1195 453,1186 453,1208 453,1221 453,1138 453,1172 453,1140 453,1186 454,1245 454,1166 454,1203 454,1197 454,1270 454,1173 454,1181 454,1165 455,1187 455,1201 455,1186 455,1150 455,1195 455,1118 455,1164 455,1201 456,1169 456,1166 456,1173 456,1139 456,1205 456,1219 456,1227 457,1170 457,1166 457,1105 457,1184 457,1182 457,1189 457,1207 457,1249 458,1222 458,1236 458,1116 458,1164 458,1113 458,1146 458,1150 458,1152 459,1154 459,1089 459,1192 459,1211 459,1235 459,1202 459,1120 459,1135 460,1141 460,1199 460,1210 460,1187 460,1228 460,1137 460,1160 461,1217 461,1188 461,1188 461,1158 461,1127 461,1147 461,1179 461,1148 462,1145 462,1162 462,1204 462,1179 462,1153 462,1144 462,1181 462,1133 463,1188 463,1075 463,1128 463,1133 463,1098 463,1138 463,1161 463,1201 464,1193 464,1133 464,1198 464,1124 464,1186 464,1122 464,1166 465,1154 465,1212 465,1207 465,1215 465,1153 465,1192 465,1147 465,1142 466,1195 466,1184 466,1196 466,1213 466,1174 466,1170 466,1159 466,1178 467,1177 467,1183 467,1215 467,1138 467,1111 467,1192 467,1106 467,1160 468,1177 468,1152 468,1224 468,1189 468,1137 468,1156 468,1075 468,1170 469,1206 469,1196 469,1155 469,1226 469,1172 469,1210 469,1197 470,1200 470,1169 470,1159 470,1211 470,1235 470,1204 470,1152 470,1215 471,1122 471,1287 471,1231 471,1159 471,1141 471,1143 471,1175 471,1147 472,1130 472,1138 472,1166 472,1187 472,1176 472,1155 472,1214 472,1117 473,1150 473,1244 473,1111 473,1183 473,1150 473,1165 473,1144 474,1135 474,1158 474,1101 474,1178 474,1155 474,1170 474,1210 474,1223 475,1167 475,1120 475,1173 475,1181 475,1176 475,1182 475,1171 475,1241 476,1134 476,1134 476,1138 476,1178 476,1202 476,1202 476,1205 476,1174 477,1148 477,1171 477,1169 477,1159 477,1166 477,1183 477,1189 478,1196 478,1179 478,1223 478,1196 478,1223 478,1109 478,1105 478,1126 479,1082 479,1096 479,1061 479,1153 479,1162 479,1135 479,1145 479,1106 480,1156 480,1145 480,1192 480,1175 480,1174 480,1183 480,1235 480,1207 481,1148 481,1147 481,1103 481,1209 481,1116 481,1188 481,1241 481,1153 482,1132 482,1104 482,1154 482,1170 482,1135 482,1278 482,1232 483,1187 483,1187 483,1145 483,1234 483,1156 483,1068 483,1141 483,1126 484,1180 484,1219 484,1151 484,1223 484,1173 484,1187 484,1192 484,1156 485,1200 485,1164 485,1130 485,1237 485,1224 485,1234 485,1209 485,1147 486,1204 486,1123 486,1196 486,1227 486,1158 486,1155 486,1164 487,1203 487,1106 487,1120 487,1155 487,1064 487,1099 487,1190 487,1085 488,1174 488,1140 488,1157 488,1127 488,1094 488,1136 488,1216 488,1211 489,1210 489,1181 489,1195 489,1175 489,1172 489,1232 489,1122 489,1144 490,1186 490,1236 490,1154 490,1140 490,1123 490,1091 490,1102 490,1229 491,1188 491,1180 491,1252 491,1209 491,1205 491,1169 491,1087 492,1158 492,1130 492,1170 492,1248 492,1185 492,1149 492,1136 492,1104 493,1155 493,1082 493,1154 493,1176 493,1175 493,1138 493,1103 493,1147 494,1222 494,1157 494,1246 494,1178 494,1194 494,1222 494,1155 494,1141 495,1190 495,1187 495,1110 495,1280 495,1190 495,1146 495,1213 496,1182 496,1155 496,1163 496,1162 496,1182 496,1081 496,1216 496,1139 497,1153 497,1148 497,1217 497,1196 497,1224 497,1183 497,1229 497,1169 498,1184 498,1146 498,1124 498,1221 498,1189 498,1229 498,1165 498,1233 499,1165 499,1191 499,1200 499,1189 499,1240 499,1146 499,1212 500,1209 500,1209 500,1192 500,1217 500,1192 500,1114 500,1194 500,1259 501,1124 501,1135 501,1231 501,1205 501,1197 501,1052 501,1062 501,1072 502,1080 502,1099 502,1263 502,1281 502,1298 502,1305 502,1326 502,1342 503,1124 503,1201 503,1177 503,1131 503,1212 503,1152 503,1201 503,1207 504,1150 504,1192 504,1153 504,1139 504,1149 504,1152 504,1176 505,1166 505,1210 505,1187 505,1155 505,1178 505,1171 505,1162 505,1093 506,1216 506,1187 506,1179 506,1200 506,1159 506,1083 506,1129 506,1143 507,1189 507,1112 507,1198 507,1145 507,1179 507,1172 507,1092 507,1174 508,1156 508,1120 508,1195 508,1175 508,1162 508,1179 508,1168 509,1189 509,1100 509,1190 509,1130 509,1177 509,1171 509,1154 509,1185 510,1174 510,1094 510,1178 510,1165 510,1182 510,1195 510,1173 510,1225 511,1221 511,1212 511,1178 511,1193 511,1132 511,1165 511,1143 511,1083 512,1169 512,1246 512,1213 512,1189 512,1170 512,1209 512,1154 513,1141 513,1179 513,1169 513,1155 513,1145 513,1112 513,1226 513,1182 514,1082 514,1159 514,1242 514,1239 514,1241 514,1227 514,1232 514,1232 515,1216 515,1221 515,1245 515,1182 515,1176 515,1125 515,1146 515,1125 516,1164 516,1146 516,1193 516,1157 516,1225 516,1184 516,1129 516,1158 517,1171 517,1127 517,1209 517,1203 517,1204 517,1163 517,1235 518,1198 518,1192 518,1140 518,1229 518,1151 518,1122 518,1106 518,1146 519,1095 519,1153 519,1112 519,1174 519,1163 519,1175 519,1190 519,1131 520,1161 520,1193 520,1201 520,1159 520,1175 520,1115 520,1180 520,1135 521,1202 521,1241 521,1219 521,1138 521,1233 521,1176 521,1244 522,1191 522,1168 522,1188 522,1207 522,1172 522,1184 522,1131 522,1226 523,1179 523,1129 523,1208 523,1159 523,1173 523,1229 523,1235 523,1160 524,1206 524,1137 524,1150 524,1094 524,1162 524,1110 524,1169 524,1204 525,1208 525,1132 525,1147 525,1217 525,1147 525,1123 525,1142 525,1174 526,1159 526,1145 526,1218 526,1217 526,1110 526,1132 526,1141 527,1175 527,1186 527,1135 527,1164 527,1225 527,1177 527,1161 527,1234 528,1148 528,1108 528,1109 528,1129 528,1191 528,1145 528,1183 528,1172 529,1164 529,1198 529,1171 529,1204 529,1236 529,1218 529,1152 529,1143 530,1126 530,1157 530,1174 530,1195 530,1173 530,1124 530,1155 531,1151 531,1225 531,1183 531,1224 531,1222 531,1183 531,1242 531,1185 532,1228 532,1176 532,1193 532,1217 532,1141 532,1088 532,1150 532,1137 533,1190 533,1167 533,1208 533,1253 533,1198 533,1141 533,1162 533,1185 534,1066 534,1179 534,1129 534,1223 534,1203 534,1243 534,1162 535,1205 535,1205 535,1105 535,1170 535,1138 535,1149 535,1147 535,1153 536,1112 536,1181 536,1103 536,1154 536,1175 536,1166 536,1140 536,1151 537,1209 537,1147 537,1206 537,1155 537,1080 537,1154 537,1142 537,1164 538,1154 538,1203 538,1121 538,1142 538,1203 538,1129 538,1099 538,1168 539,1214 539,1196 539,1184 539,1171 539,1199 539,1130 539,1133 540,1153 540,1167 540,1100 540,1192 540,1164 540,1206 540,1215 540,1174 541,1163 541,1214 541,1192 541,1221 541,1152 541,1219 541,1193 541,1197 542,1109 542,1216 542,1147 542,1170 542,1159 542,1165 542,1143 542,1149 543,1170 543,1151 543,1206 543,1189 543,1184 543,1191 543,1192 544,1220 544,1201 544,1109 544,1109 544,1166 544,1213 544,1228 544,1200 545,1154 545,1228 545,1201 545,1207 545,1231 545,1215 545,1230 545,1228 546,1188 546,1202 546,1192 546,1125 546,1099 546,1076 546,1107 546,1163 547,1224 547,1228 547,1149 547,1202 547,1112 547,1138 547,1166 548,1165 548,1187 548,1123 548,1134 548,1149 548,1125 548,1193 548,1212 549,1189 549,1125 549,1157 549,1192 549,1154 549,1180 549,1156 549,1106 550,1161 550,1206 550,1207 550,1209 550,1159 550,1128 550,1198 550,1206 551,1195 551,1180 551,1214 551,1217 551,1063 551,1229 551,1208 551,1188 552,1227 552,1204 552,1116 552,1189 552,1121 552,1137 552,1171 553,1153 553,1098 553,1211 553,1189 553,1215 553,1118 553,1245 553,1218 554,1224 554,1232 554,1223 554,1185 554,1184 554,1184 554,1212 554,1208 555,1236 555,1273 555,1223 555,1193 555,1178 555,1193 555,1199 555,1167 556,1176 556,1205 556,1150 556,1107 556,1201 556,1133 556,1193 557,1153 557,1231 557,1200 557,1099 557,1170 557,1166 557,1142 557,1245 558,1273 558,1134 558,1139 558,1168 558,1248 558,1178 558,1116 558,1138 559,1119 559,1172 559,1129 559,1214 559,1198 559,1191 559,1099 559,1096 560,1061 560,1231 560,1137 560,1189 560,1106 560,1137 560,1172 560,1219 561,1219 561,1212 561,1211 561,1225 561,1187 561,1164 561,1150 562,1219 562,1183 562,1116 562,1215 562,1196 562,1115 562,1197 562,1189 563,1164 563,1169 563,1135 563,1155 563,1149 563,1135 563,1216 563,1188 564,1230 564,1201 564,1190 564,1153 564,1121 564,1182 564,1157 564,1101 565,1081 565,1173 565,1140 565,1113 565,1143 565,1116 565,1096 566,1151 566,1192 566,1136 566,1147 566,1168 566,1137 566,1123 566,1227 567,1122 567,1183 567,1161 567,1111 567,1144 567,1128 567,1190 567,1174 568,1143 568,1185 568,1215 568,1182 568,1167 568,1191 568,1285 568,1310 569,1314 569,1266 569,1182 569,1093 569,1167 569,1163 569,1163 570,1183 570,1139 570,1208 570,1207 570,1194 570,1211 570,1187 570,1280 571,1160 571,1148 571,1251 571,1174 571,1175 571,1190 571,1172 571,1151 572,1144 572,1151 572,1181 572,1195 572,1187 572,1175 572,1207 572,1066 573,1116 573,1090 573,1210 573,1135 573,1192 573,1169 573,1172 573,1132 574,1220 574,1201 574,1176 574,1181 574,1185 574,1157 574,1178 575,1164 575,1195 575,1183 575,1201 575,1216 575,1171 575,1190 575,1136 576,1200 576,1182 576,1187 576,1181 576,1238 576,1170 576,1170 576,1171 577,1194 577,1205 577,1140 577,1103 577,1134 577,1141 577,1137 577,1152 578,1155 578,1108 578,1174 578,1198 578,1129 578,1167 578,1201 579,1169 579,1178 579,1184 579,1187 579,1211 579,1185 579,1178 579,1172 580,1143 580,1175 580,1171 580,1219 580,1248 580,1147 580,1106 580,1132 581,1200 581,1181 581,1257 581,1207 581,1201 581,1149 581,1131 581,1175 582,1201 582,1204 582,1187 582,1183 582,1154 582,1184 582,1202 583,1157 583,1229 583,1203 583,1173 583,1212 583,1228 583,1234 583,1144 584,1137 584,1198 584,1138 584,1105 584,1286 584,1139 584,1159 584,1152 585,1156 585,1118 585,1204 585,1228 585,1143 585,1170 585,1200 585,1196 586,1188 586,1231 586,1091 586,1153 586,1173 586,1071 586,1179 586,1160 587,1202 587,1199 587,1167 587,1167 587,1205 587,1111 587,1144 588,1177 588,1154 588,1143 588,1232 588,1165 588,1159 588,1193 588,1102 589,1201 589,1157 589,1162 589,1179 589,1207 589,1097 589,1245 589,1216 590,1166 590,1162 590,1198 590,1160 590,1170 590,1172 590,1216 590,1221 591,1134 591,1178 591,1150 591,1210 591,1192 591,1157 591,1142 592,1125 592,1162 592,1137 592,1216 592,1127 592,1156 592,1162 592,1215 593,1188 593,1090 593,1216 593,1168 593,1198 593,1190 593,1208 593,1059 594,1071 594,1087 594,1258 594,1273 594,1289 594,1304 594,1312 594,1317 595,1133 595,1193 595,1171 595,1184 595,1222 595,1170 595,1251 595,1184 596,1267 596,1130 596,1087 596,1199 596,1136 596,1196 596,1124 597,1098 597,1180 597,1176 597,1177 597,1199 597,1194 597,1161 597,1099 598,1166 598,1134 598,1163 598,1144 598,1162 598,1172 598,1137 598,1192 599,1211 599,1171 599,1191 599,1195 599,1222 599,1098 599,1175 599,1245 600,1164 600,1214 600,1175 600,1125 600,1134 600,1181 600,1152 601,1190 601,1133 601,1176 601,1189 601,1150 601,1146 601,1119 601,1141 602,1154 602,1151 602,1209 602,1222 602,1076 602,1158 602,1186 602,1217 603,1171 603,1158 603,1129 603,1202 603,1217 603,1224 603,1175 603,1129 604,1186 604,1192 604,1141 604,1161 604,1219 604,1165 604,1102 605,1162 605,1164 605,1279 605,1207 605,1179 605,1166 605,1112 605,1221 606,1116 606,1182 606,1171 606,1159 606,1178 606,1075 606,1121 606,1150 607,1177 607,1167 607,1181 607,1204 607,1214 607,1168 607,1164 607,1163 608,1129 608,1203 608,1103 608,1141 608,1172 608,1214 608,1156 608,1160 609,1145 609,1165 609,1184 609,1176 609,1209 609,1183 609,1160 610,1154 610,1160 610,1238 610,1186 610,1159 610,1154 610,1177 610,1155 611,1204 611,1147 611,1141 611,1214 611,1235 611,1237 611,1208 611,1185 612,1208 612,1212 612,1245 612,1201 612,1161 612,1167 612,1168 612,1114 613,1167 613,1165 613,1207 613,1230 613,1203 613,1187 613,1179 614,1159 614,1150 614,1208 614,1212 614,1230 614,1213 614,1208 614,1200 615,1192 615,1214 615,1178 615,1087 615,1183 615,1203 615,1157 615,1176 616,1179 616,1234 616,1187 616,1164 616,1249 616,1123 616,1173 616,1276 617,1225 617,1167 617,1208 617,1173 617,1176 617,1168 617,1135 618,1123 618,1140 618,1084 618,1186 618,1165 618,1133 618,1234 618,1200 619,1206 619,1198 619,1185 619,1189 619,1162 619,1143 619,1151 619,1145 620,1172 620,1111 620,1274 620,1126 620,1159 620,1134 620,1194 620,1212 621,1188 621,1085 621,1108 621,1103 621,1218 621,1170 621,1177 621,1142 622,1215 622,1188 622,1213 622,1174 622,1196 622,1141 622,1210 623,1201 623,1219 623,1139 623,1216 623,1178 623,1163 623,1212 623,1239 624,1206 624,1232 624,1174 624,1230 624,1217 624,1166 624,1103 624,1146 625,1136 625,1175 625,1206 625,1130 625,1139 625,1224 625,1174 625,1212 626,1139 626,1177 626,1200 626,1149 626,1262 626,1241 626,1245 627,1252 627,1170 627,1159 627,1206 627,1250 627,1187 627,1223 627,1254 628,1261 628,1231 628,1246 628,1215 628,1223 628,1225 628,1216 628,1162 629,1206 629,1169 629,1141 629,1140 629,1147 629,1137 629,1181 629,1158 630,1188 630,1154 630,1170 630,1184 630,1170 630,1125 630,1122 630,1158 631,1123 631,1153 631,1178 631,1095 631,1190 631,1191 631,1178 632,1221 632,1106 632,1240 632,1175 632,1204 632,1193 632,1141 632,1190 633,1128 633,1157 633,1239 633,1199 633,1209 633,1160 633,1250 633,1103 634,1137 634,1147 634,1131 634,1084 634,1159 634,1160 634,1203 634,1124 635,1211 635,1165 635,1175 635,1053 635,1080 635,1089 635,1266 636,1067 636,1090 636,1170 636,1236 636,1082 636,1122 636,1152 636,1157 637,1220 637,1087 637,1151 637,1139 637,1161 637,1137 637,1160 637,1163 638,1164 638,1171 638,1137 638,1170 638,1160 638,1123 638,1158 638,1197 639,1133 639,1209 639,1186 639,1221 639,1196 639,1185 639,1196 640,1188 640,1233 640,1169 640,1194 640,1178 640,1193 640,1119 640,1130 641,1159 641,1197 641,1147 641,1188 641,1129 641,1210 641,1199 641,1179 642,1266 642,1111 642,1177 642,1174 642,1217 642,1161 642,1196 642,1217 643,1158 643,1277 643,1194 643,1190 643,1185 643,1224 643,1210 643,1199 644,1151 644,1211 644,1257 644,1220 644,1184 644,1178 644,1154 645,1112 645,1186 645,1149 645,1183 645,1168 645,1165 645,1169 645,1150 646,1132 646,1241 646,1189 646,1192 646,1147 646,1184 646,1173 646,1174 647,1123 647,1123 647,1140 647,1176 647,1249 647,1265 647,1227 647,1161 648,1195 648,1187 648,1151 648,1141 648,1101 648,1144 648,1080 649,1134 649,1153 649,1143 649,1141 649,1135 649,1187 649,1146 649,1163 650,1179 650,1208 650,1206 650,1155 650,1124 650,1151 650,1152 650,1128 651,1182 651,1199 651,1142 651,1187 651,1186 651,1196 651,1136 651,1173 652,1194 652,1216 652,1221 652,1170 652,1177 652,1116 652,1175 681,1233 681,1196 681,1159 681,1188 681,1248 681,1209 681,1171 682,1185 682,1148 682,1281 682,1199 682,1207 682,1136 682,1118 682,1154 683,1090 683,1225 683,1220 683,1161 683,1186 683,1182 683,1169 684,1236 684,1238 684,1245 684,1201 684,1182 684,1115 684,1176 684,1204 685,1230 685,1192 685,1140 685,1166 685,1179 685,1166 685,1215 685,1184 686,1198 686,1194 686,1184 686,1157 686,1162 686,1148 686,1202 686,1146 687,1136 687,1158 687,1195 687,1163 687,1149 687,1192 687,1216 687,1260 688,1114 688,1239 688,1205 688,1167 688,1207 688,1135 688,1180 689,1147 689,1181 689,1158 689,1139 689,1188 689,1114 689,1088 689,1142 690,1173 690,1119 690,1120 690,1172 690,1186 690,1088 690,1227 690,1164 691,1188 691,1149 691,1167 691,1153 691,1150 691,1113 691,1193 691,1142 692,1173 692,1198 692,1158 692,1150 692,1205 692,1217 692,1164 693,1189 693,1270 693,1240 693,1157 693,1115 693,1122 693,1176 693,1214 694,1146 694,1230 694,1154 694,1130 694,1129 694,1149 694,1076 694,1109 695,1172 695,1135 695,1166 695,1158 695,1139 695,1159 695,1249 695,1230 696,1186 696,1190 696,1131 696,1182 696,1173 696,1214 696,1164 697,1175 697,1117 697,1153 697,1142 697,1125 697,1193 697,1085 697,1173 698,1198 698,1154 698,1160 698,1203 698,1173 698,1133 698,1151 698,1155 699,1158 699,1227 699,1155 699,1191 699,1137 699,1174 699,1121 699,1128 700,1204 700,1227 700,1136 700,1239 700,1241 700,1182 700,1205 700,1118 701,1146 701,1076 701,1176 701,1203 701,1163 701,1073 701,1194 702,1165 702,1135 702,1108 702,1144 702,1146 702,1185 702,1061 702,1174 703,1175 703,1204 703,1158 703,1220 703,1158 703,1186 703,1181 703,1228 704,1116 704,1144 704,1200 704,1204 704,1170 704,1176 704,1199 704,1286 705,1203 705,1185 705,1238 705,1249 705,1191 705,1189 705,1133 706,1198 706,1230 706,1161 706,1105 706,1184 706,1150 706,1155 706,1158 707,1212 707,1176 707,1159 707,1140 707,1151 707,1149 707,1129 707,1215 708,1163 708,1139 708,1155 708,1179 708,1142 708,1177 708,1214 708,1228 709,1217 709,1126 709,1166 709,1225 709,1167 709,1143 709,1181 710,1218 710,1172 710,1150 710,1068 710,1217 710,1146 710,1151 710,1199 711,1217 711,1123 711,1202 711,1237 711,1250 711,1217 711,1161 711,1198 712,1203 712,1147 712,1194 712,1062 712,1185 712,1128 712,1213 712,1213 713,1182 713,1128 713,1216 713,1166 713,1118 713,1112 713,1127 713,1170 714,1204 714,1145 714,1141 714,1193 714,1212 714,1185 714,1107 715,1117 715,1106 715,1105 715,1115 715,1124 715,1191 715,1244 715,1123 716,1141 716,1162 716,1264 716,1194 716,1203 716,1235 716,1200 716,1185 717,1155 717,1211 717,1150 717,1169 717,1142 717,1148 717,1212 717,1118 718,1105 718,1139 718,1185 718,1226 718,1215 718,1127 718,1298 719,1197 719,1160 719,1182 719,1187 719,1155 719,1223 719,1224 719,1131 720,1089 720,1201 720,1164 720,1143 720,1205 720,1136 720,1087 720,1097 721,1096 721,1145 721,1132 721,1194 721,1125 721,1170 721,1230 721,1196 722,1237 722,1232 722,1273 722,1202 722,1118 722,1153 722,1239 722,1224 723,1178 723,1164 723,1186 723,1258 723,1163 723,1209 723,1150 724,1215 724,1086 724,1161 724,1146 724,1128 724,1126 724,1143 724,1146 725,1196 725,1178 725,1216 725,1221 725,1193 725,1173 725,1155 725,1160 726,1208 726,1229 726,1076 726,1194 726,1160 726,1217 726,1162 726,1134 727,1119 727,1177 727,1111 727,1126 727,1238 727,1171 727,1142 728,1173 728,1186 728,1078 728,1194 728,1150 728,1191 728,1148 728,1182 729,1193 729,1213 729,1188 729,1205 729,1154 729,1113 729,1258 729,1180 730,1124 730,1186 730,1234 730,1130 730,1213 730,1201 730,1195 730,1136 731,1168 731,1165 731,1197 731,1198 731,1162 731,1203 731,1192 732,1147 732,1116 732,1118 732,1182 732,1172 732,1127 732,1162 732,1171 733,1200 733,1113 733,1098 733,1188 733,1093 733,1190 733,1247 733,1115 734,1144 734,1117 734,1231 734,1124 734,1201 734,1064 734,1208 734,1154 735,1183 735,1194 735,1152 735,1152 735,1164 735,1172 735,1129 735,1180 736,1132 736,1195 736,1173 736,1112 736,1195 736,1177 736,1185 737,1148 737,1135 737,1151 737,1217 737,1165 737,1181 737,1210 737,1156 738,1172 738,1180 738,1261 738,1225 738,1250 738,1230 738,1117 738,1235 739,1091 739,1113 739,1144 739,1111 739,1159 739,1183 739,1149 739,1116 740,1183 740,1178 740,1119 740,1219 740,1178 740,1186 740,1144 741,1189 741,1202 741,1136 741,1168 741,1140 741,1139 741,1118 741,1122 742,1176 742,1158 742,1171 742,1187 742,1190 742,1173 742,1253 742,1154 743,1205 743,1224 743,1199 743,1230 743,1172 743,1245 743,1235 743,1202 744,1197 744,1193 744,1144 744,1184 744,1194 744,1227 744,1103 745,1071 745,1127 745,1100 745,1179 745,1128 745,1125 745,1157 745,1237 746,1187 746,1202 746,1186 746,1130 746,1165 746,1167 746,1199 746,1192 747,1189 747,1198 747,1143 747,1172 747,1119 747,1210 747,1183 747,1179 748,1157 748,1116 748,1264 748,1158 748,1216 748,1182 748,1161 748,1169 749,1189 749,1190 749,1098 749,1163 749,1172 749,1208 749,1173 750,1186 750,1194 750,1170 750,1204 750,1251 750,1128 750,1153 750,1220 751,1173 751,1286 751,1199 751,1183 751,1193 751,1266 751,1204 751,1182 752,1254 752,1141 752,1154 752,1175 752,1267 752,1214 752,1211 752,1205 753,1256 753,1155 753,1185 753,1113 753,1297 753,1132 753,1272 754,1258 754,1208 754,1162 754,1188 754,1171 754,1205 754,1143 754,1216 755,1115 755,1212 755,1181 755,1181 755,1207 755,1186 755,1165 755,1261 756,1167 756,1140 756,1256 756,1193 756,1098 756,1151 756,1117 756,1160 757,1121 757,1294 757,1104 757,1142 757,1232 757,1179 757,1201 757,1109 758,1188 758,1165 758,1145 758,1286 758,1194 758,1194 758,1219 759,1224 759,1286 759,1199 759,1196 759,1197 759,1281 759,1129 759,1186 760,1158 760,1249 760,1188 760,1103 760,1164 760,1193 760,1238 760,1200 761,1185 761,1144 761,1234 761,1231 761,1157 761,1172 761,1220 761,1162 762,1255 762,1292 762,1240 762,1186 762,1182 762,1102 762,1294 763,1103 763,1118 763,1096 763,1291 763,1088 763,1115 763,1124 763,1117 764,1102 764,1123 764,1246 764,1228 764,1271 764,1228 764,1239 764,1289 765,1230 765,1261 765,1155 765,1248 765,1229 765,1139 765,1194 765,1261 766,1179 766,1227 766,1150 766,1185 766,1187 766,1204 766,1122 767,1094 767,1196 767,1207 767,1185 767,1293 767,1196 767,1221 767,1128 768,1166 768,1141 768,1137 768,1061 768,1065 768,1171 768,1115 768,1098 769,1267 769,1169 769,1268 769,1184 769,1290 769,1201 769,1179 769,1150 770,1216 770,1281 770,1205 770,1084 770,1172 770,1302 770,1285 770,1151 771,1074 771,1193 771,1177 771,1257 771,1134 771,1110 771,1259 772,1227 772,1296 772,1092 772,1123 772,1120 772,1153 772,1116 772,1210 773,1108 773,1156 773,1151 773,1205 773,1171 773,1148 773,1291 773,1142 774,1158 774,1123 774,1087 774,1151 774,1181 774,1136 774,1201 774,1213 775,1145 775,1157 775,1124 775,1186 775,1210 775,1148 775,1109 776,1097 776,1154 776,1225 776,1145 776,1170 776,1171 776,1188 776,1160 777,1147 777,1172 777,1160 777,1150 777,1208 777,1217 777,1218 777,1194 778,1156 778,1184 778,1186 778,1142 778,1063 778,1112 778,1111 778,1201 779,1179 779,1154 779,1229 779,1252 779,1166 779,1190 779,1180 780,1169 780,1190 780,1242 780,1161 780,1202 780,1249 780,1205 780,1275 781,1255 781,1241 781,1256 781,1246 781,1263 781,1270 781,1268 781,1132 782,1227 782,1085 782,1152 782,1176 782,1171 782,1190 782,1105 782,1127 783,1106 783,1131 783,1181 783,1234 783,1186 783,1073 783,1123 783,1123 784,1225 784,1115 784,1222 784,1244 784,1187 784,1177 784,1202 785,1162 785,1094 785,1153 785,1228 785,1267 785,1185 785,1180 785,1159 786,1123 786,1179 786,1152 786,1129 786,1248 786,1173 786,1144 786,1170 787,1123 787,1090 787,1141 787,1159 787,1167 787,1200 787,1183 787,1125 788,1165 788,1138 788,1190 788,1274 788,1087 788,1155 788,1176 789,1200 789,1165 789,1205 789,1154 789,1213 789,1203 789,1189 789,1216 790,1191 790,1172 790,1174 790,1201 790,1174 790,1162 790,1152 790,1149 791,1098 791,1130 791,1208 791,1078 791,1160 791,1206 791,1254 791,1130 792,1183 792,1177 792,1162 792,1160 792,1236 792,1157 792,1140 792,1220 793,1247 793,1194 793,1174 793,1152 793,1208 793,1200 793,1182 794,1194 794,1170 794,1118 794,1141 794,1164 794,1145 794,1184 794,1178 795,1202 795,1184 795,1132 795,1096 795,1073 795,1148 795,1188 795,1146 796,1096 796,1151 796,1214 796,1179 796,1169 796,1141 796,1134 796,1168 797,1145 797,1177 797,1111 797,1134 797,1211 797,1204 797,1226 798,1155 798,1189 798,1209 798,1167 798,1151 798,1127 798,1197 798,1160 799,1199 799,1183 799,1202 799,1206 799,1228 799,1213 799,1171 799,1183 800,1117 800,1196 800,1243 800,1170 800,1149 800,1160 800,1109 800,1120 801,1155 801,1076 801,1166 801,1170 801,1197 801,1185 801,1166 802,1177 802,1182 802,1169 802,1155 802,1143 802,1207 802,1151 802,1180 803,1156 803,1166 803,1184 803,1194 803,1134 803,1157 803,1195 803,1182 804,1182 804,1163 804,1161 804,1152 804,1222 804,1164 804,1140 804,1098 805,1109 805,1162 805,1104 805,1203 805,1146 805,1113 805,1132 805,1212 806,1234 806,1224 806,1206 806,1205 806,1125 806,1181 806,1155 807,1193 807,1160 807,1202 807,1113 807,1111 807,1258 807,1192 807,1167 808,1158 808,1144 808,1164 808,1241 808,1191 808,1182 808,1134 808,1178 809,1147 809,1112 809,1216 809,1120 809,1111 809,1224 809,1185 809,1150 810,1092 810,1159 810,1277 810,1168 810,1090 810,1131 810,1177 811,1188 811,1118 811,1177 811,1234 811,1171 811,1142 811,1184 811,1183 812,1162 812,1194 812,1147 812,1170 812,1182 812,1259 812,1169 812,1204 813,1176 813,1166 813,1225 813,1151 813,1156 813,1161 813,1165 813,1201 814,1178 814,1163 814,1159 814,1154 814,1174 814,1143 814,1164 815,1155 815,1178 815,1161 815,1127 815,1172 815,1177 815,1172 815,1128 816,1217 816,1129 816,1112 816,1213 816,1246 816,1232 816,1144 816,1162 817,1173 817,1185 817,1179 817,1147 817,1160 817,1163 817,1081 817,1224 818,1136 818,1185 818,1212 818,1154 818,1168 818,1205 818,1102 818,1167 819,1106 819,1137 819,1088 819,1118 819,1164 819,1138 819,1216 820,1156 820,1185 820,1109 820,1204 820,1155 820,1160 820,1099 820,1243 821,1238 821,1200 821,1137 821,1181 821,1214 821,1200 821,1182 821,1151 822,1196 822,1200 822,1165 822,1193 822,1231 822,1137 822,1097 822,1138 823,1195 823,1146 823,1141 823,1196 823,1190 823,1147 823,1169 824,1178 824,1219 824,1164 824,1151 824,1196 824,1062 824,1142 824,1221 825,1268 825,1121 825,1167 825,1112 825,1164 825,1224 825,1150 825,1198 826,1200 826,1166 826,1142 826,1121 826,1235 826,1161 826,1165 826,1179 827,1166 827,1217 827,1167 827,1214 827,1178 827,1161 827,1228 828,1201 828,1188 828,1183 828,1133 828,1140 828,1138 828,1124 828,1107 829,1098 829,1125 829,1110 829,1163 829,1160 829,1201 829,1200 829,1168 830,1166 830,1235 830,1113 830,1165 830,1198 830,1202 830,1177 830,1186 831,1142 831,1120 831,1227 831,1199 831,1156 831,1202 831,1231 831,1144 832,1155 832,1167 832,1223 832,1241 832,1170 832,1176 832,1171 833,1188 833,1106 833,1130 833,1124 833,1157 833,1208 833,1206 833,1252 834,1152 834,1166 834,1129 834,1159 834,1118 834,1124 834,1244 834,1264 835,1195 835,1152 835,1228 835,1226 835,1256 835,1239 835,1204 835,1245 836,1216 836,1150 836,1116 836,1190 836,1254 836,1162 836,1183 837,1144 837,1162 837,1180 837,1232 837,1207 837,1159 837,1177 837,1229 838,1159 838,1135 838,1152 838,1156 838,1189 838,1205 838,1206 838,1104 839,1178 839,1189 839,1119 839,1196 839,1229 839,1168 839,1222 839,1196 840,1163 840,1144 840,1204 840,1131 840,1142 840,1065 840,1127 840,1227 841,1153 841,1181 841,1144 841,1247 841,1134 841,1226 841,1161 842,1163 842,1176 842,1247 842,1173 842,1153 842,1210 842,1220 842,1163 843,1154 843,1186 843,1106 843,1165 843,1156 843,1223 843,1194 843,1192 844,1172 844,1159 844,1197 844,1119 844,1148 844,1098 844,1096 844,1162 845,1237 845,1170 845,1218 845,1182 845,1166 845,1213 845,1188 846,1156 846,1114 846,1170 846,1158 846,1141 846,1156 846,1173 846,1161 847,1188 847,1194 847,1215 847,1150 847,1155 847,1269 847,1209 847,1183 848,1204 848,1208 848,1183 848,1224 848,1273 848,1233 848,1243 848,1144 849,1213 849,1227 849,1176 849,1161 849,1183 849,1201 849,1156 850,1142 850,1134 850,1071 850,1159 850,1076 850,1175 850,1225 850,1151 851,1136 851,1095 851,1189 851,1132 851,1194 851,1190 851,1134 851,1186 852,1220 852,1196 852,1216 852,1161 852,1198 852,1207 852,1078 852,1208 853,1210 853,1237 853,1236 853,1092 853,1147 853,1179 853,1153 853,1108 854,1167 854,1150 854,1183 854,1157 854,1195 854,1173 854,1131 855,1087 855,1183 855,1128 855,1091 855,1136 855,1121 855,1103 855,1121 856,1131 856,1153 856,1100 856,1061 856,1249 856,1124 856,1128 856,1190 857,1178 857,1151 857,1177 857,1236 857,1259 857,1133 857,1201 857,1125 858,1211 858,1166 858,1196 858,1182 858,1232 858,1195 858,1143 859,1225 859,1277 859,1187 859,1195 859,1232 859,1173 859,1179 859,1125 860,1173 860,1107 860,1099 860,1142 860,1064 860,1172 860,1194 860,1133 861,1163 861,1177 861,1254 861,1214 861,1203 861,1195 861,1198 861,1198 862,1145 862,1195 862,1197 862,1206 862,1208 862,1152 862,1146 863,1174 863,1194 863,1197 863,1204 863,1172 863,1145 863,1184 863,1187 864,1157 864,1225 864,1121 864,1189 864,1191 864,1149 864,1174 864,1156 865,1135 865,1204 865,1106 865,1167 865,1112 865,1121 865,1140 865,1157 866,1190 866,1198 866,1151 866,1166 866,1133 866,1137 866,1227 866,1178 867,1175 867,1144 867,1132 867,1172 867,1122 867,1180 867,1193 868,1139 868,1128 868,1171 868,1200 868,1135 868,1170 868,1094 868,1083 869,1154 869,1118 869,1180 869,1190 869,1201 869,1163 869,1140 869,1208 870,1155 870,1153 870,1139 870,1086 870,1076 870,1160 870,1175 870,1127 871,1121 871,1198 871,1151 871,1117 871,1144 871,1132 871,1146 872,1153 872,1185 872,1210 872,1132 872,1153 872,1147 872,1234 872,1158 873,1172 873,1146 873,1182 873,1122 873,1186 873,1196 873,1172 873,1206 874,1176 874,1181 874,1220 874,1215 874,1192 874,1177 874,1205 874,1187 875,1225 875,1206 875,1104 875,1173 875,1073 875,1269 875,1282 875,1260 876,1241 876,1243 876,1245 876,1225 876,1225 876,1252 876,1260 877,1149 877,1270 877,1232 877,1199 877,1097 877,1271 877,1186 877,1150 878,1092 878,1159 878,1118 878,1133 878,1164 878,1168 878,1146 878,1064 879,1158 879,1184 879,1192 879,1195 879,1213 879,1214 879,1197 879,1225 880,1191 880,1172 880,1150 880,1076 880,1208 880,1137 880,1157 881,1213 881,1203 881,1160 881,1147 881,1113 881,1157 881,1148 881,1219 882,1201 882,1100 882,1204 882,1191 882,1221 882,1144 882,1193 882,1208 883,1206 883,1188 883,1240 883,1156 883,1133 883,1152 883,1175 883,1135 884,1124 884,1208 884,1165 884,1131 884,1195 884,1138 884,1162 885,1176 885,1129 885,1175 885,1152 885,1199 885,1177 885,1189 885,1180 886,1152 886,1174 886,1168 886,1134 886,1135 886,1174 886,1188 886,1134 887,1153 887,1220 887,1186 887,1214 887,1212 887,1148 887,1125 887,1120 888,1142 888,1120 888,1113 888,1161 888,1095 888,1119 888,1126 888,1217 889,1161 889,1165 889,1183 889,1192 889,1113 889,1134 889,1139 890,1158 890,1096 890,1100 890,1075 890,1114 890,1075 890,1102 890,1064 891,1099 891,1259 891,1190 891,1189 891,1164 891,1191 891,1213 891,1170 892,1120 892,1211 892,1166 892,1155 892,1108 892,1127 892,1190 892,1162 893,1030 893,1043 893,1046 893,1062 893,1080 893,1198 893,1167 894,1190 894,1121 894,1186 894,1158 894,1144 894,1225 894,1129 894,1180 895,1118 895,1242 895,1112 895,1162 895,1259 895,1151 895,1147 895,1179 896,1147 896,1132 896,1139 896,1182 896,1197 896,1168 896,1147 896,1171 897,1118 897,1184 897,1146 897,1223 897,1226 897,1197 897,1211 898,1238 898,1226 898,1205 898,1204 898,1113 898,1155 898,1202 898,1136 899,1126 899,1187 899,1179 899,1171 899,1147 899,1231 899,1198 899,1225 900,1089 900,1157 900,1200 900,1153 900,1170 900,1202 900,1214 900,1162 901,1216 901,1252 901,1176 901,1244 901,1198 901,1105 901,1194 901,1151 902,1136 902,1131 902,1120 902,1187 902,1161 902,1184 902,1166 903,1198 903,1139 903,1124 903,1264 903,1157 903,1194 903,1203 903,1173 904,1200 904,1227 904,1134 904,1116 904,1198 904,1187 904,1195 904,1182 905,1207 905,1165 905,1158 905,1145 905,1204 905,1199 905,1214 905,1047 906,1074 906,1084 906,1281 906,1173 906,1214 906,1192 906,1159 907,1138 907,1167 907,1126 907,1227 907,1155 907,1175 907,1156 907,1189 908,1197 908,1215 908,1150 908,1140 908,1172 908,1127 908,1156 908,1146 909,1227 909,1136 909,1102 909,1159 909,1151 909,1127 909,1193 909,1163 910,1236 910,1132 910,1194 910,1171 910,1205 910,1135 910,1175 910,1206 911,1146 911,1157 911,1180 911,1169 911,1235 911,1285 911,1211 912,1223 912,1213 912,1212 912,1190 912,1152 912,1230 912,1165 912,1170 913,1254 913,1239 913,1196 913,1160 913,1135 913,1101 913,1183 913,1180 914,1232 914,1197 914,1172 914,1127 914,1210 914,1153 914,1143 914,1152 915,1165 915,1240 915,1194 915,1129 915,1172 915,1106 915,1093 916,1171 916,1163 916,1159 916,1169 916,1167 916,1209 916,1182 916,1161 917,1152 917,1170 917,1172 917,1215 917,1196 917,1192 917,1217 917,1193 918,1201 918,1203 918,1170 918,1163 918,1105 918,1164 918,1156 918,1141 919,1189 919,1163 919,1216 919,1182 919,1167 919,1151 919,1192 920,1148 920,1172 920,1136 920,1130 920,1155 920,1153 920,1115 920,1166 921,1138 921,1218 921,1231 921,1193 921,1100 921,1161 921,1112 921,1214 922,1215 922,1268 922,1110 922,1202 922,1126 922,1149 922,1238 922,1228 923,1193 923,1215 923,1159 923,1254 923,1193 923,1194 923,1187 923,1216 924,1211 924,1144 924,1198 924,1205 924,1216 924,1145 924,1166 925,1160 925,1168 925,1131 925,1155 925,1212 925,1123 925,1136 925,1170 926,1133 926,1227 926,1149 926,1259 926,1222 926,1199 926,1230 926,1172 927,1197 927,1220 927,1246 927,1287 927,1218 927,1282 927,1247 927,1199 928,1185 928,1159 928,1142 928,1135 928,1152 928,1222 928,1123 929,1155 929,1176 929,1247 929,1140 929,1165 929,1244 929,1255 929,1225 930,1189 930,1175 930,1130 930,1256 930,1177 930,1197 930,1143 930,1185 931,1109 931,1193 931,1171 931,1065 931,1110 931,1164 931,1222 931,1189 932,1225 932,1237 932,1183 932,1212 932,1150 932,1142 932,1173 933,1189 933,1186 933,1144 933,1164 933,1185 933,1215 933,1191 933,1200 934,1154 934,1155 934,1176 934,1182 934,1165 934,1251 934,1234 934,1153 935,1151 935,1171 935,1191 935,1164 935,1117 935,1138 935,1147 935,1216 936,1127 936,1253 936,1199 936,1154 936,1127 936,1206 936,1149 936,1165 937,1174 937,1191 937,1200 937,1173 937,1148 937,1206 937,1182 938,1170 938,1159 938,1207 938,1217 938,1135 938,1169 938,1223 938,1197 939,1204 939,1149 939,1162 939,1197 939,1133 939,1139 939,1143 939,1161 940,1196 940,1165 940,1212 940,1147 940,1160 940,1166 940,1178 940,1198 941,1174 941,1153 941,1161 941,1195 941,1100 941,1206 941,1180 942,1166 942,1165 942,1145 942,1151 942,1141 942,1164 942,1122 942,1129 943,1064 943,1120 943,1112 943,1209 943,1204 943,1200 943,1145 943,1169 944,1157 944,1186 944,1100 944,1201 944,1123 944,1154 944,1110 944,1151 945,1209 945,1137 945,1129 945,1177 945,1206 945,1191 945,1197 945,1220 946,1134 946,1180 946,1216 946,1160 946,1159 946,1156 946,1175 947,1230 947,1186 947,1155 947,1073 947,1232 947,1158 947,1195 947,1238 948,1164 948,1159 948,1155 948,1127 948,1148 948,1169 948,1161 948,1078 949,1152 949,1174 949,1193 949,1160 949,1181 949,1181 949,1205 949,1224 950,1170 950,1192 950,1103 950,1259 950,1185 950,1140 950,1168 951,1148 951,1110 951,1166 951,1081 951,1197 951,1137 951,1161 951,1250 952,1207 952,1126 952,1181 952,1194 952,1197 952,1285 952,1233 952,1187 953,1238 953,1196 953,1254 953,1194 953,1194 953,1175 953,1179 953,1184 954,1219 954,1211 954,1232 954,1213 954,1130 954,1076 954,1109 955,1123 955,1140 955,1185 955,1133 955,1161 955,1171 955,1170 955,1207 956,1155 956,1172 956,1157 956,1118 956,1148 956,1126 956,1219 956,1212 957,1136 957,1145 957,1182 957,1123 957,1172 957,1094 957,1174 957,1157 958,1191 958,1235 958,1218 958,1192 958,1267 958,1206 958,1169 958,1217 959,1212 959,1195 959,1197 959,1197 959,1107 959,1140 959,1181 960,1084 960,1236 960,1150 960,1156 960,1246 960,1119 960,1109 960,1148 961,1191 961,1187 961,1213 961,1121 961,1194 961,1172 961,1183 961,1093 962,1196 962,1198 962,1226 962,1201 962,1158 962,1188 962,1096 962,1180 963,1135 963,1180 963,1169 963,1180 963,1139 963,1113 963,1082 964,1077 964,1171 964,1250 964,1162 964,1169 964,1177 964,1236 964,1202 965,1218 965,1184 965,1149 965,1209 965,1129 965,1131 965,1175 965,1148 966,1094 966,1102 966,1078 966,1158 966,1123 966,1181 966,1190 966,1222 967,1215 967,1211 967,1223 967,1183 967,1129 967,1180 967,1143 967,1189 968,1175 968,1141 968,1211 968,1239 968,1165 968,1156 968,1109 969,1146 969,1228 969,1161 969,1169 969,1165 969,1064 969,1237 969,1103 970,1163 970,1175 970,1131 970,1227 970,1158 970,1171 970,1134 970,1163 971,1207 971,1158 971,1218 971,1178 971,1088 971,1145 971,1195 971,1164 972,1076 972,1175 972,1199 972,1160 972,1102 972,1154 972,1214 973,1223 973,1167 973,1183 973,1191 973,1173 973,1221 973,1201 973,1207 974,1128 974,1112 974,1149 974,1147 974,1152 974,1161 974,1198 974,1211 975,1136 975,1071 975,1224 975,1150 975,1169 975,1098 975,1176 975,1099 976,1230 976,1213 976,1273 976,1196 976,1147 976,1147 976,1212 977,1200 977,1200 977,1117 977,1158 977,1265 977,1268 977,1254 977,1240 978,1253 978,1237 978,1251 978,1268 978,1251 978,1253 978,1095 978,1207 979,1131 979,1186 979,1148 979,1261 979,1144 979,1119 979,1174 979,1095 980,1120 980,1167 980,1179 980,1212 980,1142 980,1207 980,1148 980,1188 981,1084 981,1120 981,1169 981,1121 981,1197 981,1148 981,1142 982,1160 982,1172 982,1188 982,1231 982,1203 982,1199 982,1166 982,1181 983,1193 983,1211 983,1157 983,1171 983,1182 983,1190 983,1191 983,1172 984,1200 984,1124 984,1164 984,1125 984,1063 984,1229 984,1211 984,1198 985,1262 985,1231 985,1249 985,1251 985,1266 985,1202 985,1256 986,1167 986,1161 986,1220 986,1146 986,1189 986,1114 986,1100 986,1182 987,1110 987,1248 987,1135 987,1167 987,1167 987,1162 987,1191 987,1205 988,1189 988,1136 988,1126 988,1174 988,1137 988,1194 988,1191 988,1197 989,1168 989,1201 989,1276 989,1193 989,1196 989,1250 989,1209 990,1161 990,1145 990,1210 990,1139 990,1203 990,1191 990,1145 990,1111 991,1172 991,1167 991,1226 991,1131 991,1239 991,1109 991,1182 991,1132 992,1238 992,1209 992,1117 992,1136 992,1141 992,1201 992,1201 992,1192 993,1135 993,1111 993,1181 993,1192 993,1147 993,1108 993,1191 993,1188 994,1202 994,1216 994,1260 994,1249 994,1186 994,1215 994,1206 995,1203 995,1143 995,1142 995,1168 995,1163 995,1131 995,1208 995,1164 996,1090 996,1239 996,1166 996,1227 996,1180 996,1242 996,1221 996,1180 997,1174 997,1126 997,1100 997,1133 997,1159 997,1209 997,1137 997,1198 998,1133 998,1179 998,1136 998,1100 998,1132 998,1097 998,1104 999,1112 999,1182 999,1232 999,1171 999,1233 999,1187 999,1241 999,1152 1000,1159 1000,1092 1000,1187 1000,1183 1000,1137 1000,1150 1000,1117 1000,1232 1001,1183 1001,1193 1001,1168 1001,1237 1001,1186 1001,1160 1001,1158 1001,1200 1002,1211 1002,1185 1002,1200 1002,1187 1002,1202 1002,1199 1002,1187 1002,1139 1003,1114 1003,1079 1003,1154 1003,1191 1003,1114 1003,1143 1003,1180 1004,1131 1004,1230 1004,1187 1004,1193 1004,1134 1004,1126 1004,1192 1004,1132 1005,1162 1005,1209 1005,1221 1005,1252 1005,1130 1005,1200 1005,1153 1005,1181 1006,1194 1006,1106 1006,1198 1006,1144 1006,1095 1006,1162 1006,1158 1006,1218 1007,1211 1007,1217 1007,1219 1007,1222 1007,1167 1007,1141 1007,1245 1008,1206 1008,1142 1008,1125 1008,1166 1008,1201 1008,1182 1008,1172 1008,1259 1009,1159 1009,1261 1009,1201 1009,1150 1009,1133 1009,1188 1009,1209 1009,1240 1010,1174 1010,1140 1010,1211 1010,1120 1010,1147 1010,1163 1010,1125 1010,1255 1011,1194 1011,1153 1011,1155 1011,1169 1011,1192 1011,1211 1011,1158 1012,1177 1012,1168 1012,1132 1012,1084 1012,1202 1012,1158 1012,1164 1012,1227 1013,1200 1013,1106 1013,1157 1013,1186 1013,1189 1013,1211 1013,1216 1013,1200 1014,1229 1014,1166 1014,1185 1014,1140 1014,1173 1014,1184 1014,1151 1014,1130 1015,1196 1015,1112 1015,1218 1015,1221 1015,1228 1015,1251 1015,1192 1015,1192 1016,1207 1016,1154 1016,1192 1016,1131 1016,1178 1016,1150 1016,1196 1017,1171 1017,1241 1017,1142 1017,1188 1017,1244 1017,1222 1017,1150 1017,1158 1018,1137 1018,1190 1018,1152 1018,1207 1018,1182 1018,1155 1018,1222 1018,1131 1019,1138 1019,1168 1019,1212 1019,1225 1019,1203 1019,1197 1019,1180 1019,1237 1020,1133 1020,1162 1020,1153 1020,1221 1020,1081 1020,1137 1020,1184 1021,1197 1021,1167 1021,1143 1021,1183 1021,1129 1021,1162 1021,1193 1021,1168 1022,1132 1022,1125 1022,1197 1022,1147 1022,1178 1022,1188 1022,1160 1022,1167 1023,1153 1023,1195 1023,1125 1023,1152 1023,1212 1023,1206 1023,1183 1023,1247 1024,1177 1024,1132 1024,1092 1024,1157 1024,1212 1024,1254 1024,1198 1025,1128 1025,1216 1025,1184 1025,1152 1025,1168 1025,1191 1025,1188 1025,1205 1026,1176 1026,1213 1026,1166 1026,1194 1026,1248 1026,1233 1026,1225 1026,1160 1027,1190 1027,1191 1027,1257 1027,1233 1027,1218 1027,1193 1027,1199 1027,1196 1028,1118 1028,1141 1028,1175 1028,1156 1028,1195 1028,1158 1028,1166 1028,1174 1029,1015 1029,1018 1029,1030 1029,1052 1029,1058 1029,1062 1029,1208 1030,1192 1030,1173 1030,1194 1030,1244 1030,1166 1030,1073 1030,1137 1030,1150 1031,1108 1031,1137 1031,1140 1031,1206 1031,1194 1031,1209 1031,1216 1031,1206 1032,1177 1032,1216 1032,1239 1032,1217 1032,1176 1032,1163 1032,1148 1032,1148 1033,1126 1033,1117 1033,1153 1033,1226 1033,1200 1033,1151 1033,1196 1034,1114 1034,1126 1034,1105 1034,1128 1034,1079 1034,1090 1034,1138 1034,1164 1035,1228 1035,1178 1035,1171 1035,1199 1035,1143 1035,1086 1035,1117 1035,1241 1036,1227 1036,1232 1036,1270 1036,1239 1036,1241 1036,1228 1036,1259 1036,1238 1037,1227 1037,1105 1037,1176 1037,1195 1037,1157 1037,1219 1037,1156 1037,1072 1038,1095 1038,1146 1038,1197 1038,1116 1038,1067 1038,1189 1038,1178 1039,1176 1039,1085 1039,1191 1039,1128 1039,1202 1039,1129 1039,1128 1039,1170 1040,1172 1040,1235 1040,1139 1040,1106 1040,1107 1040,1221 1040,1189 1040,1154 1041,1233 1041,1144 1041,1229 1041,1225 1041,1154 1041,1161 1041,1220 1041,1233 1042,1199 1042,1114 1042,1235 1042,1232 1042,1194 1042,1202 1042,1167 1043,1199 1043,1221 1043,1112 1043,1247 1043,1270 1043,1227 1043,1187 1043,1121 1044,1167 1044,1193 1044,1164 1044,1243 1044,1201 1044,1148 1044,1162 1044,1172 1045,1141 1045,1220 1045,1168 1045,1151 1045,1207 1045,1165 1045,1180 1045,1236 1046,1216 1046,1110 1046,1152 1046,1190 1046,1170 1046,1133 1046,1226 1047,1202 1047,1199 1047,1285 1047,1226 1047,1155 1047,1128 1047,1179 1047,1147 1048,1178 1048,1152 1048,1251 1048,1182 1048,1173 1048,1196 1048,1235 1048,1118 1049,1151 1049,1185 1049,1087 1049,1203 1049,1174 1049,1184 1049,1269 1049,1214 1050,1176 1050,1149 1050,1159 1050,1076 1050,1134 1050,1183 1050,1127 1050,1160 1051,1132 1051,1235 1051,1126 1051,1160 1051,1145 1051,1154 1051,1241 1052,1109 1052,1182 1052,1151 1052,1166 1052,1189 1052,1233 1052,1183 1052,1089 1053,1181 1053,1157 1053,1169 1053,1163 1053,1149 1053,1174 1053,1230 1053,1194 1054,1196 1054,1254 1054,1220 1054,1138 1054,1144 1054,1116 1054,1134 1054,1141 1055,1204 1055,1182 1055,1157 1055,1176 1055,1187 1055,1140 1055,1139 1056,1200 1056,1268 1056,1207 1056,1071 1056,1085 1056,1145 1056,1169 1056,1218 1057,1209 1057,1149 1057,1202 1057,1246 1057,1101 1057,1156 1057,1140 1057,1228 1058,1190 1058,1157 1058,1222 1058,1172 1058,1235 1058,1235 1058,1169 1058,1210 1059,1218 1059,1232 1059,1217 1059,1207 1059,1221 1059,1233 1059,1119 1060,1128 1060,1268 1060,1091 1060,1175 1060,1122 1060,1208 1060,1222 1060,1238 1061,1210 1061,1217 1061,1154 1061,1166 1061,1169 1061,1140 1061,1213 1061,1176 1062,1214 1062,1134 1062,1208 1062,1171 1062,1144 1062,1150 1062,1156 1062,1182 1063,1205 1063,1180 1063,1116 1063,1151 1063,1253 1063,1182 1063,1225 1063,1180 1064,1243 1064,1146 1064,1216 1064,1178 1064,1176 1064,1142 1064,1139 1065,1139 1065,1159 1065,1152 1065,1160 1065,1108 1065,1095 1065,1128 1065,1145 1066,1118 1066,1198 1066,1212 1066,1194 1066,1170 1066,1166 1066,1161 1066,1139 1067,1172 1067,1176 1067,1070 1067,1201 1067,1253 1067,1112 1067,1186 1067,1219 1068,1123 1068,1156 1068,1097 1068,1170 1068,1197 1068,1248 1068,1238 1069,1228 1069,1144 1069,1177 1069,1225 1069,1141 1069,1148 1069,1132 1069,1118 1070,1179 1070,1250 1070,1119 1070,1122 1070,1175 1070,1144 1070,1140 1070,1113 1071,1244 1071,1194 1071,1228 1071,1213 1071,1247 1071,1148 1071,1077 1071,1155 1072,1141 1072,1194 1072,1249 1072,1182 1072,1216 1072,1121 1072,1242 1072,1286 1073,1247 1073,1239 1073,1243 1073,1173 1073,1163 1073,1183 1073,1179 1074,1155 1074,1173 1074,1173 1074,1212 1074,1202 1074,1151 1074,1163 1074,1179 1075,1184 1075,1146 1075,1181 1075,1187 1075,1130 1075,1140 1075,1125 1075,1184 1076,1135 1076,1195 1076,1158 1076,1143 1076,1218 1076,1187 1076,1173 1076,1219 1077,1140 1077,1108 1077,1191 1077,1129 1077,1229 1077,1147 1077,1201 1078,1190 1078,1181 1078,1188 1078,1216 1078,1177 1078,1169 1078,1206 1078,1173 1079,1139 1079,1113 1079,1160 1079,1160 1079,1104 1079,1155 1079,1223 1079,1234 1080,1186 1080,1175 1080,1221 1080,1141 1080,1161 1080,1171 1080,1156 1080,1161 1081,1177 1081,1163 1081,1147 1081,1159 1081,1184 1081,1129 1081,1092 1082,1154 1082,1176 1082,1149 1082,1183 1082,1170 1082,1164 1082,1167 1082,1227 1083,1162 1083,1172 1083,1172 1083,1131 1083,1197 1083,1116 1083,1202 1083,1177 1084,1141 1084,1137 1084,1210 1084,1155 1084,1124 1084,1147 1084,1147 1084,1189 1085,1166 1085,1213 1085,1169 1085,1222 1085,1222 1085,1188 1085,1204 1085,1219 1086,1143 1086,1202 1086,1084 1086,1199 1086,1182 1086,1235 1086,1192 1087,1196 1087,1236 1087,1223 1087,1249 1087,1246 1087,1166 1087,1157 1087,1147 1088,1133 1088,1149 1088,1136 1088,1174 1088,1175 1088,1193 1088,1237 1088,1200 1089,1186 1089,1233 1089,1122 1089,1176 1089,1203 1089,1212 1089,1197 1089,1222 1090,1165 1090,1227 1090,1127 1090,1182 1090,1128 1090,1257 1090,1221 1091,1152 1091,1231 1091,1166 1091,1194 1091,1126 1091,1157 1091,1184 1091,1211 1092,1186 1092,1198 1092,1217 1092,1191 1092,1107 1092,1153 1092,1129 1092,1110 1093,1119 1093,1142 1093,1175 1093,1197 1093,1211 1093,1168 1093,1175 1093,1156 1094,1198 1094,1102 1094,1166 1094,1161 1094,1131 1094,1134 1094,1199 1095,1118 1095,1174 1095,1222 1095,1271 1095,1165 1095,1161 1095,1196 1095,1132 1096,1147 1096,1109 1096,1195 1096,1141 1096,1117 1096,1189 1096,1193 1096,1207 1097,1184 1097,1189 1097,1156 1097,1209 1097,1198 1097,1145 1097,1194 1097,1116 1098,1204 1098,1214 1098,1191 1098,1166 1098,1133 1098,1111 1098,1198 1098,1178 1099,1169 1099,1192 1099,1234 1099,1161 1099,1138 1099,1110 1099,1221 1100,1130 1100,1189 1100,1248 1100,1132 1100,1178 1100,1153 1100,1085 1100,1175 1101,1138 1101,1206 1101,1218 1101,1150 1101,1212 1101,1189 1101,1178 1101,1131 1102,1092 1102,1128 1102,1195 1102,1134 1102,1138 1102,1122 1102,1252 1102,1174 1103,1216 1103,1176 1103,1186 1103,1180 1103,1182 1103,1170 1103,1147 1104,1110 1104,1089 1104,1184 1104,1120 1104,1108 1104,1124 1104,1176 1104,1186 1105,1167 1105,1154 1105,1148 1105,1156 1105,1099 1105,1227 1105,1244 1105,1180 1106,1144 1106,1165 1106,1228 1106,1200 1106,1202 1106,1141 1106,1153 1106,1199 1107,1233 1107,1176 1107,1221 1107,1184 1107,1158 1107,1211 1107,1169 1108,1164 1108,1170 1108,1082 1108,1175 1108,1166 1108,1128 1108,1161 1108,1194 1109,1110 1109,1159 1109,1125 1109,1267 1109,1181 1109,1154 1109,1116 1109,1156 1110,1091 1110,1177 1110,1091 1110,1156 1110,1152 1110,1202 1110,1176 1110,1186 1111,1161 1111,1177 1111,1127 1111,1204 1111,1190 1111,1180 1111,1190 1111,1133 1112,1209 1112,1181 1112,1188 1112,1244 1112,1188 1112,1168 1112,1192 1113,1190 1113,1106 1113,1164 1113,1122 1113,1232 1113,1207 1113,1156 1113,1123 1114,1161 1114,1209 1114,1215 1114,1145 1114,1204 1114,1136 1114,1197 1114,1178 1115,1123 1115,1108 1115,1179 1115,1282 1115,1108 1115,1144 1115,1204 1115,1179 1116,1161 1116,1238 1116,1154 1116,1195 1116,1145 1116,1128 1116,1172 1117,1149 1117,1167 1117,1132 1117,1144 1117,1157 1117,1124 1117,1158 1117,1135 1118,1138 1118,1196 1118,1172 1118,1147 1118,1140 1118,1100 1118,1167 1118,1185 1119,1151 1119,1140 1119,1235 1119,1264 1119,1172 1119,1182 1119,1144 1119,1218 1120,1181 1120,1209 1120,1151 1120,1096 1120,1192 1120,1155 1120,1179 1120,1184 1121,1172 1121,1141 1121,1216 1121,1178 1121,1149 1121,1127 1121,1207 1122,1198 1122,1185 1122,1194 1122,1160 1122,1148 1122,1198 1122,1129 1122,1177 1123,1216 1123,1171 1123,1277 1123,1103 1123,1129 1123,1203 1123,1170 1123,1142 1124,1134 1124,1114 1124,1140 1124,1173 1124,1129 1124,1187 1124,1147 1124,1159 1125,1188 1125,1171 1125,1170 1125,1140 1125,1153 1125,1191 1125,1111 1126,1137 1126,1131 1126,1176 1126,1155 1126,1135 1126,1200 1126,1171 1126,1175 1127,1135 1127,1206 1127,1206 1127,1182 1127,1151 1127,1146 1127,1244 1127,1250 1128,1192 1128,1145 1128,1131 1128,1159 1128,1156 1128,1195 1128,1156 1128,1214 1129,1142 1129,1174 1129,1135 1129,1150 1129,1181 1129,1158 1129,1226 1130,1148 1130,1213 1130,1171 1130,1202 1130,1145 1130,1145 1130,1263 1130,1158 1131,1175 1131,1195 1131,1156 1131,1156 1131,1137 1131,1173 1131,1121 1131,1284 1132,1134 1132,1127 1132,1201 1132,1199 1132,1155 1132,1193 1132,1115 1132,1196 1133,1178 1133,1105 1133,1222 1133,1135 1133,1247 1133,1210 1133,1191 1133,1155 1134,1100 1134,1133 1134,1225 1134,1128 1134,1138 1134,1244 1134,1202 1135,1271 1135,1227 1135,1197 1135,1209 1135,1270 1135,1135 1135,1184 1135,1150 1136,1164 1136,1163 1136,1244 1136,1172 1136,1136 1136,1156 1136,1150 1136,1172 1137,1195 1137,1160 1137,1285 1137,1167 1137,1205 1137,1108 1137,1172 1137,1110 1138,1159 1138,1191 1138,1203 1138,1199 1138,1123 1138,1152 1138,1130 1139,1128 1139,1196 1139,1221 1139,1164 1139,1145 1139,1124 1139,1210 1139,1169 1140,1070 1140,1107 1140,1112 1140,1235 1140,1171 1140,1137 1140,1174 1140,1163 1141,1184 1141,1148 1141,1144 1141,1105 1141,1153 1141,1147 1141,1193 1141,1187 1142,1154 1142,1093 1142,1164 1142,1180 1142,1129 1142,1231 1142,1195 1143,1229 1143,1163 1143,1147 1143,1104 1143,1203 1143,1176 1143,1162 1143,1082 1144,1123 1144,1136 1144,1178 1144,1157 1144,1133 1144,1127 1144,1174 1144,1173 1145,1246 1145,1128 1145,1151 1145,1200 1145,1166 1145,1064 1145,1115 1145,1120 1146,1154 1146,1231 1146,1212 1146,1191 1146,1135 1146,1198 1146,1231 1146,1192 1147,1180 1147,1230 1147,1111 1147,1163 1147,1183 1147,1236 1147,1170 1148,1145 1148,1180 1148,1191 1148,1116 1148,1118 1148,1117 1148,1199 1148,1121 1149,1119 1149,1083 1149,1134 1149,1139 1149,1141 1149,1153 1149,1204 1149,1168 1150,1202 1150,1232 1150,1168 1150,1207 1150,1230 1150,1111 1150,1110 1150,1076 1151,1212 1151,1194 1151,1150 1151,1234 1151,1158 1151,1187 1151,1229 1152,1170 1152,1092 1152,1193 1152,1146 1152,1177 1152,1190 1152,1186 1152,1220 1153,1206 1153,1185 1153,1217 1153,1156 1153,1139 1153,1174 1153,1140 1153,1154 1154,1156 1154,1168 1154,1182 1154,1183 1154,1164 1154,1227 1154,1151 1154,1248 1155,1193 1155,1237 1155,1185 1155,1210 1155,1165 1155,1193 1155,1162 1155,1155 1156,1302 1156,1196 1156,1188 1156,1133 1156,1099 1156,1131 1156,1178 1157,1277 1157,1221 1157,1179 1157,1191 1157,1224 1157,1198 1157,1253 1157,1194 1158,1167 1158,1112 1158,1171 1158,1116 1158,1157 1158,1163 1158,1156 1158,1227 1159,1160 1159,1160 1159,1178 1159,1096 1159,1159 1159,1112 1159,1192 1159,1178 1160,1171 1160,1227 1160,1201 1160,1198 1160,1078 1160,1094 1160,1080 1161,1088 1161,1100 1161,1174 1161,1098 1161,1190 1161,1186 1161,1203 1161,1117 1162,1199 1162,1230 1162,1210 1162,1129 1162,1192 1162,1198 1162,1183 1162,1099 1163,1213 1163,1158 1163,1196 1163,1223 1163,1256 1163,1141 1163,1197 1163,1246 1164,1214 1164,1166 1164,1180 1164,1205 1164,1190 1164,1202 1164,1147 1165,1166 1165,1144 1165,1117 1165,1095 1165,1148 1165,1107 1165,1161 1165,1131 1166,1114 1166,1141 1166,1193 1166,1156 1166,1162 1166,1177 1166,1185 1166,1257 1167,1231 1167,1170 1167,1177 1167,1197 1167,1207 1167,1148 1167,1188 1167,1124 1168,1174 1168,1168 1168,1157 1168,1197 1168,1140 1168,1141 1168,1184 1168,1172 1169,1136 1169,1199 1169,1216 1169,1159 1169,1127 1169,1128 1169,1173 1170,1217 1170,1149 1170,1197 1170,1142 1170,1157 1170,1210 1170,1172 1170,1267 1171,1167 1171,1103 1171,1136 1171,1146 1171,1173 1171,1242 1171,1229 1171,1161 1172,1154 1172,1103 1172,1188 1172,1242 1172,1146 1172,1195 1172,1167 1172,1157 1173,1234 1173,1120 1173,1185 1173,1130 1173,1135 1173,1155 1173,1211 1174,1170 1174,1211 1174,1137 1174,1146 1174,1099 1174,1099 1174,1085 1174,1175 1175,1158 1175,1162 1175,1106 1175,1190 1175,1173 1175,1177 1175,1177 1175,1138 1176,1186 1176,1194 1176,1196 1176,1209 1176,1117 1176,1134 1176,1138 1176,1124 1177,1146 1177,1144 1177,1172 1177,1159 1177,1164 1177,1117 1177,1186 1178,1196 1178,1159 1178,1159 1178,1143 1178,1186 1178,1178 1178,1141 1178,1155 1179,1147 1179,1206 1179,1183 1179,1190 1179,1215 1179,1111 1179,1229 1179,1175 1180,1238 1180,1190 1180,1158 1180,1262 1180,1225 1180,1286 1180,1238 1180,1249 1181,1263 1181,1273 1181,1259 1181,1150 1181,1176 1181,1186 1181,1256 1181,1243 1182,1189 1182,1145 1182,1183 1182,1200 1182,1193 1182,1234 1182,1191 1183,1132 1183,1200 1183,1218 1183,1207 1183,1158 1183,1153 1183,1192 1183,1182 1184,1205 1184,1193 1184,1193 1184,1122 1184,1062 1184,1184 1184,1173 1184,1157 1185,1195 1185,1183 1185,1201 1185,1150 1185,1097 1185,1215 1185,1166 1185,1146 1186,1157 1186,1139 1186,1209 1186,1258 1186,1211 1186,1215 1186,1193 1187,1203 1187,1186 1187,1150 1187,1168 1187,1217 1187,1164 1187,1260 1187,1199 1188,1236 1188,1104 1188,1111 1188,1095 1188,1107 1188,1090 1188,1107 1188,1210 1189,1204 1189,1239 1189,1206 1189,1189 1189,1197 1189,1220 1189,1215 1189,1192 1190,1202 1190,1213 1190,1197 1190,1184 1190,1187 1190,1178 1190,1137 1190,1165 1191,1159 1191,1112 1191,1201 1191,1187 1191,1143 1191,1128 1191,1173 1192,1237 1192,1237 1192,1162 1192,1227 1192,1203 1192,1132 1192,1171 1192,1134 1193,1214 1193,1139 1193,1164 1193,1128 1193,1143 1193,1166 1193,1112 1193,1174 1194,1147 1194,1202 1194,1182 1194,1151 1194,1162 1194,1184 1194,1208 1194,1242 1195,1237 1195,1183 1195,1220 1195,1220 1195,1167 1195,1190 1195,1179 1196,1184 1196,1148 1196,1074 1196,1197 1196,1116 1196,1110 1196,1178 1196,1190 1197,1107 1197,1137 1197,1270 1197,1127 1197,1140 1197,1106 1197,1194 1197,1161 1198,1138 1198,1175 1198,1200 1198,1201 1198,1169 1198,1165 1198,1229 1198,1223 1199,1202 1199,1096 1199,1163 1199,1128 1199,1163 1199,1176 1199,1151 1200,1207 1200,1153 1200,1222 1200,1185 1200,1174 1200,1230 1200,1139 1200,1252 1201,1183 1201,1184 1201,1263 1201,1286 1201,1157 1201,1227 1201,1119 1201,1158 1202,1200 1202,1168 1202,1166 1202,1202 1202,1201 1202,1165 1202,1209 1202,1138 1203,1162 1203,1129 1203,1199 1203,1197 1203,1196 1203,1229 1203,1180 1203,1132 1204,1247 1204,1198 1204,1211 1204,1101 1204,1173 1204,1233 1204,1120 1205,1169 1205,1208 1205,1163 1205,1228 1205,1154 1205,1187 1205,1202 1205,1104 1206,1216 1206,1148 1206,1172 1206,1176 1206,1160 1206,1191 1206,1184 1206,1171 1207,1243 1207,1148 1207,1099 1207,1140 1207,1182 1207,1189 1207,1092 1207,1272 1208,1093 1208,1201 1208,1112 1208,1123 1208,1169 1208,1206 1208,1183 1209,1121 1209,1169 1209,1160 1209,1192 1209,1164 1209,1139 1209,1189 1209,1122 1210,1168 1210,1171 1210,1150 1210,1188 1210,1183 1210,1254 1210,1195 1210,1123 1211,1168 1211,1191 1211,1171 1211,1203 1211,1197 1211,1167 1211,1145 1211,1096 1212,1180 1212,1199 1212,1213 1212,1206 1212,1198 1212,1176 1212,1206 1213,1226 1213,1234 1213,1182 1213,1148 1213,1224 1213,1230 1213,1212 1213,1110 1214,1216 1214,1218 1214,1207 1214,1184 1214,1199 1214,1184 1214,1187 1214,1177 1215,1240 1215,1184 1215,1143 1215,1172 1215,1198 1215,1122 1215,1192 1215,1192 1216,1148 1216,1188 1216,1212 1216,1169 1216,1123 1216,1219 1216,1139 1216,1202 1217,1201 1217,1197 1217,1167 1217,1142 1217,1212 1217,1196 1217,1190 1218,1093 1218,1071 1218,1101 1218,1075 1218,1111 1218,1080 1218,1097 1218,1118 1219,1071 1219,1160 1219,1215 1219,1188 1219,1190 1219,1223 1219,1156 1219,1168 1220,1199 1220,1116 1220,1141 1220,1204 1220,1184 1220,1177 1220,1148 1220,1172 1221,1153 1221,1172 1221,1155 1221,1133 1221,1216 1221,1277 1221,1274 1222,1191 1222,1210 1222,1258 1222,1170 1222,1194 1222,1152 1222,1242 1222,1190 1223,1227 1223,1192 1223,1176 1223,1239 1223,1191 1223,1209 1223,1156 1223,1229 1224,1191 1224,1175 1224,1259 1224,1241 1224,1167 1224,1214 1224,1119 1224,1156 1225,1160 1225,1112 1225,1190 1225,1148 1225,1182 1225,1192 1225,1161 1225,1157 1226,1184 1226,1096 1226,1162 1226,1185 1226,1185 1226,1137 1226,1093 1227,1186 1227,1219 1227,1200 1227,1202 1227,1079 1227,1175 1227,1191 1227,1184 1228,1185 1228,1142 1228,1198 1228,1146 1228,1197 1228,1132 1228,1146 1228,1208 1229,1215 1229,1235 1229,1205 1229,1185 1229,1218 1229,1182 1229,1205 1229,1224 1230,1183 1230,1197 1230,1167 1230,1233 1230,1179 1230,1159 1230,1194 1231,1196 1231,1172 1231,1145 1231,1209 1231,1175 1231,1179 1231,1153 1231,1200 1232,1150 1232,1153 1232,1197 1232,1204 1232,1213 1232,1260 1232,1192 1232,1135 1233,1211 1233,1121 1233,1124 1233,1175 1233,1167 1233,1104 1233,1178 1233,1132 1234,1203 1234,1131 1234,1102 1234,1143 1234,1170 1234,1224 1234,1156 1235,1165 1235,1171 1235,1159 1235,1182 1235,1129 1235,1231 1235,1197 1235,1222 1236,1235 1236,1191 1236,1155 1236,1157 1236,1210 1236,1151 1236,1124 1236,1195 1237,1128 1237,1184 1237,1174 1237,1168 1237,1167 1237,1161 1237,1172 1237,1120 1238,1119 1238,1142 1238,1215 1238,1224 1238,1168 1238,1151 1238,1182 1238,1205 1239,1192 1239,1159 1239,1148 1239,1192 1239,1281 1239,1216 1239,1223 1240,1210 1240,1207 1240,1073 1240,1179 1240,1129 1240,1159 1240,1234 1240,1175 1241,1124 1241,1115 1241,1170 1241,1170 1241,1079 1241,1164 1241,1121 1241,1229 1242,1225 1242,1251 1242,1242 1242,1188 1242,1186 1242,1141 1242,1189 1242,1171 1243,1148 1243,1181 1243,1252 1243,1141 1243,1121 1243,1222 1243,1194 1244,1149 1244,1129 1244,1228 1244,1222 1244,1190 1244,1132 1244,1168 1244,1130 1245,1177 1245,1170 1245,1142 1245,1165 1245,1214 1245,1139 1245,1163 1245,1150 1246,1154 1246,1114 1246,1148 1246,1151 1246,1198 1246,1151 1246,1172 1246,1207 1247,1196 1247,1164 1247,1160 1247,1147 1247,1204 1247,1203 1247,1188 1248,1148 1248,1192 1248,1140 1248,1094 1248,1116 1248,1146 1248,1137 1248,1210 1249,1208 1249,1222 1249,1164 1249,1212 1249,1087 1249,1089 1249,1160 1249,1143 1250,1164 1250,1174 1250,1241 1250,1206 1250,1163 1250,1110 1250,1198 1250,1155 1251,1137 1251,1139 1251,1211 1251,1215 1251,1188 1251,1145 1251,1231 1251,1167 1252,1116 1252,1166 1252,1212 1252,1200 1252,1163 1252,1137 1252,1202 1253,1175 1253,1158 1253,1179 1253,1144 1253,1170 1253,1121 1253,1124 1253,1154 1254,1178 1254,1164 1254,1169 1254,1196 1254,1164 1254,1079 1254,1205 1254,1204 1255,1159 1255,1144 1255,1068 1255,1232 1255,1172 1255,1220 1255,1230 1255,1231 1256,1175 1256,1223 1256,1164 1256,1217 1256,1189 1256,1087 1256,1189 1257,1270 1257,1224 1257,1213 1257,1192 1257,1200 1257,1109 1257,1142 1257,1099 1258,1060 1258,1171 1258,1133 1258,1172 1258,1162 1258,1223 1258,1145 1258,1157 1259,1262 1259,1110 1259,1203 1259,1244 1259,1170 1259,1265 1259,1208 1259,1137 1260,1175 1260,1193 1260,1208 1260,1194 1260,1169 1260,1256 1260,1138 1260,1166 1261,1152 1261,1168 1261,1125 1261,1170 1261,1180 1261,1189 1261,1186 1262,1181 1262,1147 1262,1116 1262,1117 1262,1148 1262,1114 1262,1154 1262,1238 1263,1129 1263,1132 1263,1197 1263,1208 1263,1156 1263,1155 1263,1188 1263,1115 1264,1150 1264,1210 1264,1153 1264,1103 1264,1175 1264,1159 1264,1169 1264,1205 1265,1194 1265,1164 1265,1186 1265,1222 1265,1252 1265,1184 1265,1216 1266,1125 1266,1194 1266,1086 1266,1122 1266,1129 1266,1184 1266,1116 1266,1095 1267,1167 1267,1137 1267,1180 1267,1178 1267,1194 1267,1166 1267,1218 1267,1187 1268,1194 1268,1147 1268,1152 1268,1143 1268,1185 1268,1155 1268,1155 1268,1151 1269,1069 1269,1129 1269,1176 1269,1226 1269,1175 1269,1183 1269,1152 1270,1173 1270,1152 1270,1184 1270,1179 1270,1148 1270,1234 1270,1153 1270,1214 1271,1098 1271,1204 1271,1166 1271,1179 1271,1153 1271,1136 1271,1178 1271,1151 1272,1161 1272,1204 1272,1174 1272,1201 1272,1154 1272,1166 1272,1214 1272,1192 1273,1179 1273,1119 1273,1227 1273,1169 1273,1227 1273,1120 1273,1126 1273,1122 1274,1103 1274,1136 1274,1126 1274,1184 1274,1166 1274,1226 1274,1232 1275,1236 1275,1240 1275,1241 1275,1211 1275,1212 1275,1265 1275,1252 1275,1230 1276,1161 1276,1154 1276,1177 1276,1209 1276,1216 1276,1167 1276,1160 1276,1196 1277,1176 1277,1202 1277,1121 1277,1171 1277,1227 1277,1136 1277,1105 1277,1083 1278,1098 1278,1112 1278,1065 1278,1094 1278,1092 1278,1087 1278,1084 1279,1170 1279,1176 1279,1152 1279,1237 1279,1208 1279,1199 1279,1179 1279,1061 1280,1159 1280,1187 1280,1244 1280,1215 1280,1124 1280,1155 1280,1156 1280,1213 1281,1196 1281,1188 1281,1200 1281,1180 1281,1207 1281,1148 1281,1147 1281,1168 1282,1106 1282,1144 1282,1131 1282,1185 1282,1165 1282,1133 1282,1195 1282,1205 1283,1151 1283,1145 1283,1198 1283,1133 1283,1172 1283,1194 1283,1160 1284,1221 1284,1184 1284,1206 1284,1153 1284,1284 1284,1132 1284,1184 1284,1171 1285,1179 1285,1118 1285,1083 1285,1123 1285,1066 1285,1176 1285,1154 1285,1165 1286,1191 1286,1169 1286,1206 1286,1150 1286,1183 1286,1151 1286,1182 1286,1167 1287,1180 1287,1107 1287,1198 1287,1225 1287,1245 1287,1182 1287,1187 1288,1126 1288,1176 1288,1148 1288,1137 1288,1171 1288,1166 1288,1125 1288,1213 1289,1188 1289,1254 1289,1228 1289,1166 1289,1169 1289,1233 1289,1161 1289,1133 1290,1154 1290,1167 1290,1186 1290,1200 1290,1208 1290,1250 1290,1269 1290,1144 1291,1236 1291,1179 1291,1196 1291,1125 1291,1084 1291,1196 1291,1207 1292,1214 1292,1272 1292,1220 1292,1170 1292,1175 1292,1191 1292,1155 1292,1111 1293,1210 1293,1188 1293,1165 1293,1137 1293,1170 1293,1154 1293,1122 1293,1131 1294,1122 1294,1130 1294,1197 1294,1195 1294,1149 1294,1141 1294,1183 1294,1122 1295,1115 1295,1130 1295,1099 1295,1107 1295,1105 1295,1107 1295,1141 1295,1125 1296,1132 1296,1142 1296,1088 1296,1218 1296,1104 1296,1132 1296,1134 1297,1201 1297,1199 1297,1196 1297,1216 1297,1161 1297,1187 1297,1203 1297,1242 1298,1239 1298,1154 1298,1150 1298,1154 1298,1107 1298,1133 1298,1155 1298,1113 1299,1153 1299,1157 1299,1120 1299,1151 1299,1170 1299,1153 1299,1206 1299,1180 1300,1223 1300,1142 1300,1129 1300,1246 1300,1189 1300,1170 1300,1238 1301,1167 1301,1174 1301,1186 1301,1177 1301,1144 1301,1139 1301,1173 1301,1263 1302,1190 1302,1201 1302,1253 1302,1188 1302,1205 1302,1172 1302,1086 1302,1118 1303,1206 1303,1187 1303,1242 1303,1175 1303,1137 1303,1114 1303,1141 1303,1159 1304,1158 1304,1159 1304,1200 1304,1193 1304,1246 1304,1156 1304,1197 1305,1233 1305,1198 1305,1235 1305,1171 1305,1179 1305,1190 1305,1247 1305,1191 1306,1225 1306,1215 1306,1224 1306,1257 1306,1238 1306,1218 1306,1133 1306,1088 1307,1164 1307,1122 1307,1173 1307,1152 1307,1088 1307,1186 1307,1214 1307,1174 1308,1229 1308,1212 1308,1195 1308,1181 1308,1233 1308,1272 1308,1188 1308,1209 1309,1137 1309,1186 1309,1110 1309,1212 1309,1219 1309,1180 1309,1228 1310,1136 1310,1266 1310,1191 1310,1236 1310,1195 1310,1125 1310,1184 1310,1168 1311,1161 1311,1098 1311,1127 1311,1136 1311,1152 1311,1164 1311,1190 1311,1108 1312,1158 1312,1141 1312,1170 1312,1212 1312,1207 1312,1219 1312,1144 1312,1260 1313,1152 1313,1130 1313,1175 1313,1211 1313,1238 1313,1158 1313,1158 1314,1167 1314,1161 1314,1101 1314,1179 1314,1195 1314,1167 1314,1100 1314,1161 1315,1114 1315,1145 1315,1204 1315,1223 1315,1256 1315,1179 1315,1180 1315,1215 1316,1224 1316,1247 1316,1220 1316,1163 1316,1196 1316,1133 1316,1169 1316,1192 1317,1174 1317,1162 1317,1037 1317,1038 1317,1053 1317,1062 1317,1068 1317,1087 1318,1159 1318,1108 1318,1235 1318,1062 1318,1173 1318,1195 1318,1142 1319,1190 1319,1191 1319,1234 1319,1215 1319,1202 1319,1143 1319,1177 1319,1201 1320,1163 1320,1143 1320,1100 1320,1117 1320,1098 1320,1160 1320,1159 1320,1137 1321,1209 1321,1199 1321,1156 1321,1216 1321,1176 1321,1184 1321,1133 1321,1099 1322,1171 1322,1217 1322,1187 1322,1186 1322,1158 1322,1154 1322,1149 1323,1199 1323,1174 1323,1218 1323,1200 1323,1217 1323,1104 1323,1205 1323,1166 1324,1148 1324,1135 1324,1114 1324,1179 1324,1182 1324,1185 1324,1040 1324,1068 1325,1074 1325,1285 1325,1294 1325,1306 1325,1171 1325,1138 1325,1181 1325,1133 1326,1086 1326,1215 1326,1130 1326,1182 1326,1212 1326,1175 1326,1199 1327,1180 1327,1145 1327,1156 1327,1159 1327,1168 1327,1174 1327,1178 1327,1121 1328,1193 1328,1155 1328,1146 1328,1108 1328,1152 1328,1178 1328,1263 1328,1089 1329,1161 1329,1156 1329,1246 1329,1202 1329,1182 1329,1190 1329,1211 1329,1191 1330,1207 1330,1190 1330,1186 1330,1132 1330,1198 1330,1191 1330,1097 1330,1164 1331,1177 1331,1210 1331,1195 1331,1244 1331,1184 1331,1157 1331,1130 1332,1165 1332,1160 1332,1153 1332,1221 1332,1170 1332,1152 1332,1125 1332,1102 1333,1255 1333,1125 1333,1178 1333,1138 1333,1166 1333,1160 1333,1083 1333,1231 1334,1174 1334,1203 1334,1143 1334,1202 1334,1244 1334,1218 1334,1187 1334,1231 1335,1180 1335,1129 1335,1193 1335,1169 1335,1154 1335,1178 1335,1241 1336,1238 1336,1183 1336,1116 1336,1163 1336,1160 1336,1206 1336,1187 1336,1147 1337,1166 1337,1240 1337,1187 1337,1162 1337,1185 1337,1177 1337,1188 1337,1179 1338,1090 1338,1091 1338,1170 1338,1145 1338,1162 1338,1214 1338,1161 1338,1152 1339,1169 1339,1152 1339,1096 1339,1168 1339,1189 1339,1146 1339,1195 1340,1158 1340,1156 1340,1134 1340,1169 1340,1194 1340,1179 1340,1143 1340,1200 1341,1182 1341,1162 1341,1171 1341,1190 1341,1159 1341,1224 1341,1173 1341,1142 1342,1175 1342,1153 1342,1252 1342,1275 1342,1211 1342,1225 1342,1274 1342,1270 1343,1196 1343,1139 1343,1155 1343,1184 1343,1191 1343,1148 1343,1178 1343,1230 1344,1119 1344,1242 1344,1179 1344,1186 1344,1130 1344,1158 1344,1151 1345,1189 1345,1097 1345,1066 1345,1078 1345,1187 1345,1164 1345,1140 1345,1208 1346,1148 1346,1229 1346,1194 1346,1138 1346,1210 1346,1207 1346,1122 1346,1105 1347,1147 1347,1165 1347,1240 1347,1103 1347,1099 1347,1097 1347,1080 1347,1102 1348,1139 1348,1179 1348,1239 1348,1206 1348,1177 1348,1203 1348,1147 1349,1163 1349,1229 1349,1206 1349,1143 1349,1188 1349,1178 1349,1130 1349,1184 1350,1154 1350,1179 1350,1167 1350,1159 1350,1159 1350,1106 1350,1105 1350,1123 1351,1245 1351,1184 1351,1149 1351,1145 1351,1148 1351,1142 1351,1083 1351,1129 1352,1200 1352,1246 1352,1236 1352,1205 1352,1168 1352,1176 1352,1177 1352,1261 1353,1186 1353,1239 1353,1147 1353,1240 1353,1189 1353,1186 1353,1184 1354,1170 1354,1181 1354,1215 1354,1056 1354,1062 1354,1068 1354,1074 1354,1080 1355,1087 1355,1266 1355,1273 1355,1279 1355,1283 1355,1142 1355,1165 1355,1190 1356,1151 1356,1135 1356,1139 1356,1214 1356,1187 1356,1248 1356,1255 1356,1239 1357,1259 1357,1238 1357,1224 1357,1219 1357,1170 1357,1157 1357,1199 1358,1168 1358,1115 1358,1103 1358,1149 1358,1191 1358,1201 1358,1116 1358,1160 1359,1119 1359,1156 1359,1186 1359,1147 1359,1211 1359,1180 1359,1200 1359,1077 1360,1087 1360,1260 1360,1270 1360,1276 1360,1285 1360,1162 1360,1143 1360,1109 1361,1129 1361,1162 1361,1116 1361,1153 1361,1202 1361,1137 1361,1164 1362,1155 1362,1192 1362,1246 1362,1240 1362,1175 1362,1264 1362,1244 1362,1174 1363,1179 1363,1234 1363,1199 1363,1117 1363,1234 1363,1196 1363,1188 1363,1197 1364,1110 1364,1133 1364,1191 1364,1088 1364,1201 1364,1209 1364,1108 1364,1150 1365,1162 1365,1180 1365,1234 1365,1222 1365,1266 1365,1209 1365,1213 1365,1130 1366,1113 1366,1203 1366,1196 1366,1116 1366,1132 1366,1179 1366,1165 1367,1131 1367,1207 1367,1146 1367,1257 1367,1188 1367,1208 1367,1253 1367,1176 1368,1199 1368,1135 1368,1232 1368,1167 1368,1213 1368,1164 1368,1177 1368,1167 1369,1129 1369,1140 1369,1221 1369,1150 1369,1230 1369,1156 1369,1179 1369,1180 1370,1226 1370,1147 1370,1192 1370,1227 1370,1204 1370,1188 1370,1171 1371,1097 1371,1111 1371,1066 1371,1069 1371,1097 1371,1115 1371,1153 1371,1211 1372,1156 1372,1130 1372,1171 1372,1155 1372,1182 1372,1167 1372,1177 1372,1181 1373,1171 1373,1180 1373,1211 1373,1172 1373,1253 1373,1155 1373,1168 1373,1209 1374,1178 1374,1226 1374,1271 1374,1221 1374,1208 1374,1244 1374,1156 1375,1174 1375,1217 1375,1136 1375,1200 1375,1075 1375,1117 1375,1078 1375,1131 1376,1173 1376,1114 1376,1160 1376,1103 1376,1144 1376,1191 1376,1158 1376,1181 1377,1124 1377,1186 1377,1200 1377,1196 1377,1172 1377,1084 1377,1190 1377,1182 1378,1144 1378,1224 1378,1160 1378,1202 1378,1182 1378,1209 1378,1158 1378,1167 1379,1203 1379,1160 1379,1206 1379,1222 1379,1139 1379,1203 1379,1180 1380,1179 1380,1131 1380,1177 1380,1187 1380,1189 1380,1163 1380,1115 1380,1140 1381,1123 1381,1196 1381,1211 1381,1169 1381,1182 1381,1223 1381,1244 1381,1193 1382,1176 1382,1132 1382,1164 1382,1158 1382,1170 1382,1178 1382,1141 1382,1138 1383,1161 1383,1165 1383,1186 1383,1148 1383,1143 1383,1165 1383,1150 1384,1198 1384,1180 1384,1159 1384,1196 1384,1128 1384,1118 1384,1233 1384,1188 1385,1133 1385,1132 1385,1135 1385,1156 1385,1194 1385,1174 1385,1247 1385,1221 1386,1200 1386,1226 1386,1164 1386,1123 1386,1173 1386,1209 1386,1195 1386,1279 1387,1132 1387,1099 1387,1149 1387,1157 1387,1100 1387,1183 1387,1152 1387,1104 1388,1237 1388,1157 1388,1189 1388,1168 1388,1211 1388,1233 1388,1151 1389,1171 1389,1205 1389,1225 1389,1250 1389,1245 1389,1179 1389,1132 1389,1147 1390,1206 1390,1128 1390,1151 1390,1171 1390,1112 1390,1157 1390,1133 1390,1145 1391,1186 1391,1287 1391,1235 1391,1152 1391,1203 1391,1132 1391,1215 1391,1113 1392,1159 1392,1188 1392,1246 1392,1217 1392,1243 1392,1204 1392,1228 1393,1217 1393,1232 1393,1166 1393,1251 1393,1119 1393,1164 1393,1194 1393,1152 1394,1199 1394,1167 1394,1236 1394,1267 1394,1134 1394,1176 1394,1188 1394,1251 1395,1263 1395,1187 1395,1245 1395,1207 1395,1277 1395,1199 1395,1204 1395,1140 1396,1178 1396,1166 1396,1142 1396,1132 1396,1181 1396,1124 1396,1151 1397,1171 1397,1171 1397,1114 1397,1174 1397,1135 1397,1170 1397,1066 1397,1061 1398,1071 1398,1089 1398,1095 1398,1163 1398,1138 1398,1145 1398,1165 1398,1111 1399,1175 1399,1143 1399,1190 1399,1223 1399,1080 1399,1178 1399,1138 1399,1079 1400,1226 1400,1205 1400,1174 1400,1146 1400,1165 1400,1138 1400,1224 1400,1147 1401,1139 1401,1194 1401,1206 1401,1198 1401,1147 1401,1153 1401,1149 1402,1153 1402,1191 1402,1097 1402,1155 1402,1116 1402,1115 1402,1136 1402,1153 1403,1159 1403,1111 1403,1172 1403,1172 1403,1161 1403,1167 1403,1150 1403,1180 1404,1189 1404,1193 1404,1210 1404,1075 1404,1156 1404,1196 1404,1213 1404,1137 1405,1196 1405,1235 1405,1120 1405,1137 1405,1217 1405,1115 1405,1101 1406,1089 1406,1156 1406,1149 1406,1131 1406,1197 1406,1272 1406,1178 1406,1110 1407,1174 1407,1180 1407,1175 1407,1127 1407,1144 1407,1184 1407,1126 1407,1109 1408,1251 1408,1194 1408,1192 1408,1188 1408,1198 1408,1178 1408,1113 1408,1184 1409,1169 1409,1190 1409,1179 1409,1203 1409,1207 1409,1170 1409,1179 1410,1176 1410,1222 1410,1240 1410,1206 1410,1150 1410,1166 1410,1103 1410,1182 1411,1162 1411,1216 1411,1197 1411,1060 1411,1256 1411,1197 1411,1118 1411,1200 1412,1239 1412,1189 1412,1224 1412,1165 1412,1201 1412,1245 1412,1267 1412,1153 1413,1133 1413,1156 1413,1267 1413,1189 1413,1153 1413,1154 1413,1192 1413,1148 1414,1199 1414,1162 1414,1099 1414,1084 1414,1099 1414,1101 1414,1100 1415,1076 1415,1145 1415,1201 1415,1086 1415,1151 1415,1173 1415,1131 1415,1171 1416,1146 1416,1222 1416,1187 1416,1174 1416,1238 1416,1211 1416,1150 1416,1139 1417,1240 1417,1165 1417,1181 1417,1246 1417,1171 1417,1202 1417,1204 1417,1162 1418,1129 1418,1137 1418,1133 1418,1122 1418,1163 1418,1198 1418,1164 1419,1158 1419,1147 1419,1206 1419,1124 1419,1167 1419,1244 1419,1168 1419,1226 1420,1180 1420,1201 1420,1159 1420,1159 1420,1225 1420,1159 1420,1109 1420,1191 1421,1162 1421,1212 1421,1225 1421,1183 1421,1187 1421,1160 1421,1121 1421,1130 1422,1255 1422,1190 1422,1194 1422,1181 1422,1161 1422,1135 1422,1201 1422,1213"/>
</g>
<text class="b" transform="translate(200 1381) scale(1 1.045)" font-size="25" textLength="1048.5" lengthAdjust="spacingAndGlyphs" xml:space="preserve">Max Smoothing Residual: 1.358_Vdk1.D9  Sigma= 0.336ns11/21_03/06/26Mn_____11.798</text>
<text class="b" transform="translate(67.7 1178.2) rotate(-90) scale(1 1.045)" font-size="30" text-anchor="middle">residuals (ns)</text>
<g stroke="#000" fill="none" shape-rendering="crispEdges">
<rect x="162.5" y="953.5" width="1260" height="450" stroke-width="1"/>
<path d="M162 1402V1410M162 954V946M199 1402V1410M199 954V946M236 1402V1410M236 954V946M273 1402V1417M273 954V939M310 1402V1410M310 954V946M347 1402V1410M347 954V946M384 1402V1410M384 954V946M421 1402V1410M421 954V946M458 1402V1417M458 954V939M496 1402V1410M496 954V946M533 1402V1410M533 954V946M570 1402V1410M570 954V946M607 1402V1410M607 954V946M644 1402V1417M644 954V939M681 1402V1410M681 954V946M718 1402V1410M718 954V946M755 1402V1410M755 954V946M792 1402V1410M792 954V946M829 1402V1417M829 954V939M866 1402V1410M866 954V946M903 1402V1410M903 954V946M940 1402V1410M940 954V946M977 1402V1410M977 954V946M1014 1402V1417M1014 954V939M1051 1402V1410M1051 954V946M1088 1402V1410M1088 954V946M1126 1402V1410M1126 954V946M1163 1402V1410M1163 954V946M1200 1402V1417M1200 954V939M1237 1402V1410M1237 954V946M1274 1402V1410M1274 954V946M1311 1402V1410M1311 954V946M1348 1402V1410M1348 954V946M1385 1402V1417M1385 954V939M1422 1402V1410M1422 954V946M163 987H148M1421 987H1436M163 1049H148M1421 1049H1436M163 1111H148M1421 1111H1436M163 1173H148M1421 1173H1436M163 1235H148M1421 1235H1436M163 1297H148M1421 1297H1436M163 1359H148M1421 1359H1436" stroke-width="2"/>
</g>
<g font-size="30" text-anchor="middle">
<text transform="translate(273.7 1450) scale(1 1.045)">61070</text>
<text transform="translate(459 1450) scale(1 1.045)">61075</text>
<text transform="translate(644.3 1450) scale(1 1.045)">61080</text>
<text transform="translate(829.6 1450) scale(1 1.045)">61085</text>
<text transform="translate(1014.9 1450) scale(1 1.045)">61090</text>
<text transform="translate(1200.1 1450) scale(1 1.045)">61095</text>
<text transform="translate(1385.4 1450) scale(1 1.045)">61100</text>
</g>
<g font-size="30" text-anchor="end">
<text transform="translate(137.3 998) scale(1 1.045)">1.5</text>
<text transform="translate(137.3 1060) scale(1 1.045)">1.0</text>
<text transform="translate(137.3 1122) scale(1 1.045)">0.5</text>
<text transform="translate(137.3 1184) scale(1 1.045)">0.0</text>
<text transform="translate(137.3 1246) scale(1 1.045)"><tspan dy="2.8">−</tspan><tspan dy="-2.8">0.5</tspan></text>
<text transform="translate(137.3 1308) scale(1 1.045)"><tspan dy="2.8">−</tspan><tspan dy="-2.8">1.0</tspan></text>
<text transform="translate(137.3 1370) scale(1 1.045)"><tspan dy="2.8">−</tspan><tspan dy="-2.8">1.5</tspan></text>
</g>
<text class="b" transform="translate(792.5 1480) scale(1 1.045)" font-size="30" text-anchor="middle">Modified Julian Date</text>
<g clip-path="url(#c3)" fill="#000">
<circle cx="234.9" cy="1610.4" r="6.3"/>
<circle cx="275.5" cy="1648.8" r="6.3"/>
<circle cx="316.1" cy="1677.3" r="6.3"/>
<circle cx="356.8" cy="1699.7" r="6.3"/>
<circle cx="397.4" cy="1721.2" r="6.3"/>
<circle cx="438.1" cy="1748.7" r="6.3"/>
<circle cx="478.7" cy="1770.7" r="6.3"/>
<circle cx="519.3" cy="1793" r="6.3"/>
<circle cx="560" cy="1820.8" r="6.3"/>
<circle cx="600.6" cy="1831.2" r="6.3"/>
<circle cx="641.3" cy="1853.9" r="6.3"/>
<circle cx="681.9" cy="1870.1" r="6.3"/>
<circle cx="339" cy="1961.5" r="4.5"/>
<circle cx="379.6" cy="1961.5" r="4.5"/>
<circle cx="444" cy="1961.5" r="4.5"/>
<circle cx="484.7" cy="1961.5" r="4.5"/>
<circle cx="525.3" cy="1961.5" r="4.5"/>
<circle cx="565.9" cy="1961.5" r="4.5"/>
<circle cx="630.3" cy="1961.5" r="4.5"/>
<circle cx="680" cy="1961.5" r="4.5"/>
</g>
<g class="r" font-size="20" text-anchor="middle">
<text transform="translate(234.9 1594.7) scale(1 1.045)">684.5</text>
<text transform="translate(275.5 1633.1) scale(1 1.045)">379.4</text>
<text transform="translate(316.1 1661.6) scale(1 1.045)">245.0</text>
<text transform="translate(356.8 1684) scale(1 1.045)">173.7</text>
<text transform="translate(397.4 1705.5) scale(1 1.045)">125.0</text>
<text transform="translate(438.1 1733) scale(1 1.045)">81.9</text>
<text transform="translate(478.7 1755) scale(1 1.045)">58.4</text>
<text transform="translate(519.3 1777.3) scale(1 1.045)">41.5</text>
<text transform="translate(560 1805.1) scale(1 1.045)">27.1</text>
<text transform="translate(600.6 1815.5) scale(1 1.045)">23.1</text>
<text transform="translate(641.3 1838.2) scale(1 1.045)">16.3</text>
<text transform="translate(681.9 1854.4) scale(1 1.045)">12.7</text>
</g>
<g class="r" font-size="19.5" text-anchor="middle">
<text transform="translate(339 1946) scale(1 1.045)">h/2</text>
<text transform="translate(379.6 1946) scale(1 1.045)">h</text>
<text transform="translate(444 1946) scale(1 1.045)">d/8</text>
<text transform="translate(484.7 1946) scale(1 1.045)">d/4</text>
<text transform="translate(525.3 1946) scale(1 1.045)">d/2</text>
<text transform="translate(565.9 1946) scale(1 1.045)">day</text>
<text transform="translate(630.3 1946) scale(1 1.045)">ddd</text>
<text transform="translate(680 1946) scale(1 1.045)">wk</text>
</g>
<g stroke="#000" fill="none" shape-rendering="crispEdges">
<rect x="169.5" y="1511.5" width="540" height="450" stroke-width="1"/>
<path d="M169 1960V1975M169 1512V1497M304 1960V1975M304 1512V1497M439 1960V1975M439 1512V1497M574 1960V1975M574 1512V1497M709 1960V1975M709 1512V1497M237 1960V1968M237 1512V1504M372 1960V1968M372 1512V1504M507 1960V1968M507 1512V1504M642 1960V1968M642 1512V1504M170 1586H155M708 1586H723M170 1736H155M708 1736H723M170 1886H155M708 1886H723M170 1511H162M708 1511H716M170 1661H162M708 1661H716M170 1811H162M708 1811H716M170 1961H162M708 1961H716" stroke-width="2"/>
</g>
<g font-size="30" text-anchor="middle">
<text transform="translate(169.5 2008.5) scale(1 1.045)">2</text>
<text transform="translate(304.5 2008.5) scale(1 1.045)">3</text>
<text transform="translate(439.5 2008.5) scale(1 1.045)">4</text>
<text transform="translate(574.5 2008.5) scale(1 1.045)">5</text>
<text transform="translate(709.5 2008.5) scale(1 1.045)">6</text>
</g>
<g font-size="30" text-anchor="end">
<text transform="translate(144.3 1598.1) scale(1 1.045)"><tspan dy="2.8">−</tspan><tspan dy="-2.8">12</tspan></text>
<text transform="translate(144.3 1748.1) scale(1 1.045)"><tspan dy="2.8">−</tspan><tspan dy="-2.8">13</tspan></text>
<text transform="translate(144.3 1898.1) scale(1 1.045)"><tspan dy="2.8">−</tspan><tspan dy="-2.8">14</tspan></text>
</g>
<text class="b" transform="translate(439.5 2039) scale(1 1.045)" font-size="30" text-anchor="middle">Averaging time, log(<tspan class="sy">τ</tspan>) (s)</text>
<text class="b" transform="translate(82.5 1736) rotate(-90) scale(1 1.045)" font-size="30" text-anchor="middle">Modified Allan Deviation (10<tspan font-size="22" dy="-10.5">-15</tspan><tspan dy="10.5">)</tspan></text>
<text class="b" transform="translate(203.5 1554.5) scale(1 1.045)" font-size="17.5" xml:space="preserve"><tspan class="sy">τ</tspan> = 307s</text>
<g clip-path="url(#c4)" fill="#000">
<circle cx="946.8" cy="1945.8" r="6.3"/>
<circle cx="985" cy="1937.8" r="6.3"/>
<circle cx="1023.3" cy="1917.8" r="6.3"/>
<circle cx="1061.5" cy="1890.4" r="6.3"/>
<circle cx="1099.8" cy="1862" r="6.3"/>
<circle cx="1138" cy="1840.5" r="6.3"/>
<circle cx="1176.3" cy="1813" r="6.3"/>
<circle cx="1214.5" cy="1785.5" r="6.3"/>
<circle cx="1252.8" cy="1764.5" r="6.3"/>
<circle cx="1291" cy="1723" r="6.3"/>
<circle cx="1329.2" cy="1696" r="6.3"/>
<circle cx="1367.5" cy="1661.2" r="6.3"/>
<circle cx="1044.8" cy="1959.1" r="6.1"/>
<circle cx="1083" cy="1959.1" r="6.1"/>
<circle cx="1143.6" cy="1959.1" r="6.1"/>
<circle cx="1181.9" cy="1959.1" r="6.1"/>
<circle cx="1220.1" cy="1959.1" r="6.1"/>
<circle cx="1258.4" cy="1959.1" r="6.1"/>
<circle cx="1319" cy="1959.1" r="6.1"/>
<circle cx="1365.8" cy="1959.1" r="6.1"/>
</g>
<g class="r" font-size="17.5" text-anchor="middle">
<text transform="translate(946.8 1927.8) scale(1 1.045)">1.2</text>
<text transform="translate(985 1919.8) scale(1 1.045)">1.3</text>
<text transform="translate(1023.3 1899.8) scale(1 1.045)">1.7</text>
<text transform="translate(1061.5 1872.4) scale(1 1.045)">2.5</text>
<text transform="translate(1099.8 1844) scale(1 1.045)">3.5</text>
<text transform="translate(1138 1822.5) scale(1 1.045)">4.6</text>
<text transform="translate(1176.3 1795) scale(1 1.045)">6.6</text>
<text transform="translate(1214.5 1767.5) scale(1 1.045)">9.4</text>
<text transform="translate(1252.8 1746.5) scale(1 1.045)">12.3</text>
<text transform="translate(1291 1705) scale(1 1.045)">21.0</text>
<text transform="translate(1329.2 1678) scale(1 1.045)">29.6</text>
<text transform="translate(1367.5 1643.2) scale(1 1.045)">46.3</text>
</g>
<g class="r" font-size="19.5" text-anchor="middle">
<text transform="translate(1044.8 1942.7) scale(1 1.045)">h/2</text>
<text transform="translate(1083 1942.7) scale(1 1.045)">h</text>
<text transform="translate(1143.6 1942.7) scale(1 1.045)">d/8</text>
<text transform="translate(1181.9 1942.7) scale(1 1.045)">d/4</text>
<text transform="translate(1220.1 1942.7) scale(1 1.045)">d/2</text>
<text transform="translate(1258.4 1942.7) scale(1 1.045)">day</text>
<text transform="translate(1319 1942.7) scale(1 1.045)">ddd</text>
<text transform="translate(1365.8 1942.7) scale(1 1.045)">wk</text>
</g>
<g stroke="#000" fill="none" shape-rendering="crispEdges">
<rect x="853.5" y="1511.5" width="540" height="450" stroke-width="1"/>
<path d="M885 1960V1975M885 1512V1497M1012 1960V1975M1012 1512V1497M1139 1960V1975M1139 1512V1497M1266 1960V1975M1266 1512V1497M1393 1960V1975M1393 1512V1497M948 1960V1968M948 1512V1504M1075 1960V1968M1075 1512V1504M1202 1960V1968M1202 1512V1504M1329 1960V1968M1329 1512V1504M854 1601H839M1392 1601H1407M854 1781H839M1392 1781H1407M854 1961H839M1392 1961H1407M854 1511H846M1392 1511H1400M854 1691H846M1392 1691H1400M854 1871H846M1392 1871H1400" stroke-width="2"/>
</g>
<g font-size="30" text-anchor="middle">
<text transform="translate(885.3 2008.5) scale(1 1.045)">2</text>
<text transform="translate(1012.3 2008.5) scale(1 1.045)">3</text>
<text transform="translate(1139.4 2008.5) scale(1 1.045)">4</text>
<text transform="translate(1266.4 2008.5) scale(1 1.045)">5</text>
<text transform="translate(1393.5 2008.5) scale(1 1.045)">6</text>
</g>
<g font-size="30" text-anchor="end">
<text transform="translate(828.3 1613.1) scale(1 1.045)"><tspan dy="2.8">−</tspan><tspan dy="-2.8">8</tspan></text>
<text transform="translate(828.3 1793.1) scale(1 1.045)"><tspan dy="2.8">−</tspan><tspan dy="-2.8">9</tspan></text>
<text transform="translate(828.3 1973.1) scale(1 1.045)"><tspan dy="2.8">−</tspan><tspan dy="-2.8">10</tspan></text>
</g>
<text class="b" transform="translate(1123.5 2039) scale(1 1.045)" font-size="30" text-anchor="middle">Averaging time, log(<tspan class="sy">τ</tspan>) (s)</text>
<text class="b" transform="translate(767 1736) rotate(-90) scale(1 1.045)" font-size="30" text-anchor="middle">Time deviation (10<tspan font-size="22" dy="-10.5">-10</tspan><tspan dy="10.5"> s)</tspan></text>
</svg></body></html>
